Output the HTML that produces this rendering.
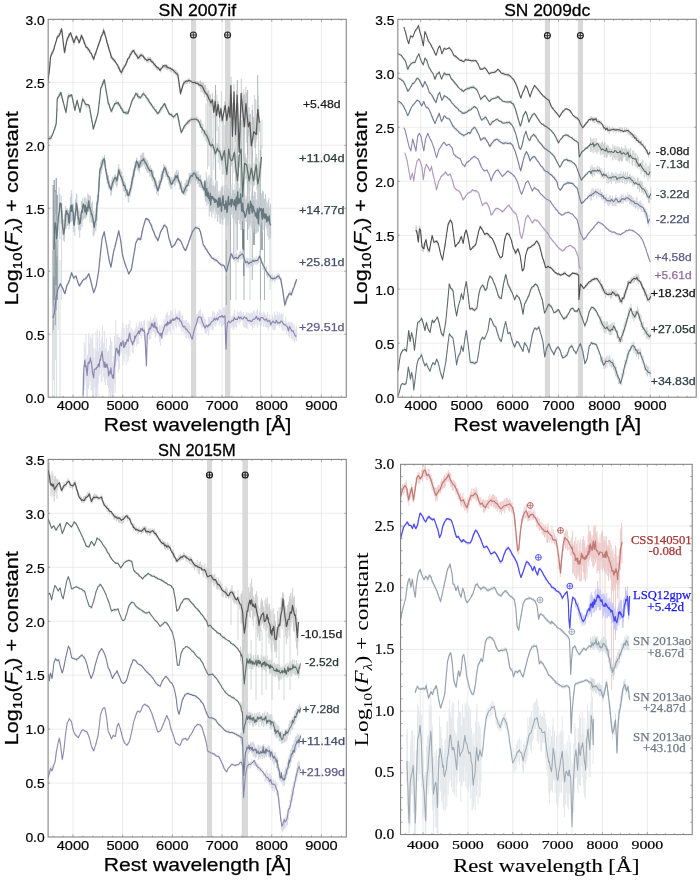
<!DOCTYPE html><html><head><meta charset="utf-8"><style>html,body{margin:0;padding:0;background:#fff;}svg{display:block;}</style></head><body>
<svg width="700" height="880" viewBox="0 0 700 880" style="will-change:transform">
<rect width="700" height="880" fill="#fff"/>
<defs><clipPath id="c1"><rect x="48.15" y="19.30" width="298.10" height="377.90"/></clipPath></defs>
<defs><clipPath id="c2"><rect x="397.85" y="19.30" width="298.35" height="377.90"/></clipPath></defs>
<defs><clipPath id="c3"><rect x="48.10" y="459.40" width="298.20" height="377.60"/></clipPath></defs>
<defs><clipPath id="c4"><rect x="400.60" y="464.30" width="291.60" height="370.30"/></clipPath></defs>
<path d="M72.99 19.30V397.20M122.68 19.30V397.20M172.36 19.30V397.20M222.04 19.30V397.20M271.73 19.30V397.20M321.41 19.30V397.20M48.15 334.22H346.25M48.15 271.23H346.25M48.15 208.25H346.25M48.15 145.27H346.25M48.15 82.28H346.25" stroke="#e4e4e4" stroke-width="0.7" fill="none"/>
<rect x="191.00" y="19.30" width="5.20" height="377.90" fill="#d9d9d9"/><rect x="225.00" y="19.30" width="5.40" height="377.90" fill="#d9d9d9"/>
<g clip-path="url(#c1)">
<path d="M52.6 250V397M53.6 200V380M54.6 230V397M55.6 210V360M56.6 260V397M58.2 240V330M60 260V397M61.5 230V300" stroke="#d5dbdd" stroke-width="0.9" fill="none"/><path d="M53.2 185V330M54.2 180V300M55.2 190V325M56.2 178V310M57.2 195V300" stroke="#7d8d93" stroke-width="1" fill="none"/>
<path d="M206.0 103.2V141.3M207.6 91.4V169.2M208.9 90.7V166.1M209.9 108.4V139.1M210.9 108.0V200.8M211.9 98.5V180.9M213.8 115.1V169.8M215.8 90.2V200.9M217.0 94.8V131.0M218.3 126.4V162.9M219.8 118.0V169.8M221.3 91.0V121.9M222.4 120.0V174.9M223.7 115.5V174.3M224.9 125.3V195.5M226.1 115.0V179.4M227.9 122.3V166.8M229.9 93.5V158.9M231.7 95.1V166.5M232.6 119.4V198.4M234.1 129.1V173.2M235.8 115.9V183.9M237.2 127.5V211.5M238.6 119.2V148.5M240.3 118.4V214.5M242.1 101.4V160.6M243.7 89.1V160.7M244.8 93.5V124.2M246.6 94.1V142.8M247.9 129.0V158.9M249.3 113.8V206.1M251.1 128.6V170.7M252.4 104.9V205.1M254.4 95.1V136.8M255.5 99.0V168.1M257.1 100.3V125.7M258.5 105.4V178.3M260.4 120.5V181.3M262.0 119.8V148.6" stroke="#b9bfbe" stroke-width="0.8" stroke-opacity="0.8" fill="none"/>
<path d="M243.8 195V276M242.8 200V250M254 200V245M262 205V250" stroke="#55656b" stroke-width="1.1" fill="none"/><path d="M260.5 200V397M236 210V300M270 215V290M250 220V300" stroke="#c8cfd2" stroke-width="0.8" fill="none"/><path d="M215.5 85V180M230.5 86V300M237.3 80V250M244 95V300M247.6 90V240M252.3 110V280M257.7 75V135M260.4 150V300M264.5 200V300M226.4 240V305M233.8 190V260M241 120V230" stroke="#9aa3a6" stroke-width="0.8" fill="none"/>
<path d="M83.1 372.9V421.2M84.2 342.7V390.0M85.0 345.6V385.4M85.9 334.7V379.7M86.6 357.9V403.2M87.5 354.6V403.3M88.6 333.4V388.7M89.2 349.5V385.1M89.7 343.7V376.4M90.2 335.3V380.7M91.2 338.1V390.4M92.0 338.8V390.0M92.7 333.9V408.7M93.7 348.1V396.7M94.3 356.6V387.3M95.3 348.7V403.4M96.0 331.8V401.5M96.5 351.2V402.4M97.3 329.1V387.3M97.8 337.7V396.7M98.5 351.1V383.4M99.5 330.8V375.5M100.2 347.3V372.6M101.2 340.8V381.7M101.9 336.6V382.5M102.5 326.1V367.6M103.3 343.1V377.1M104.4 330.8V381.7M105.4 347.9V385.2M106.4 337.8V378.9M107.5 351.6V385.3M108.5 350.4V388.3M109.0 357.9V397.1M109.7 345.4V392.7M110.5 337.3V397.2M111.3 341.5V390.8M111.9 341.5V409.1M112.5 362.2V408.3M113.6 356.0V408.0M114.6 336.0V384.6M115.2 345.1V393.1M115.8 320.0V366.9M116.8 335.1V362.1M117.6 334.5V359.9M118.4 337.0V372.5M119.4 337.2V369.2M120.2 338.4V355.6M121.2 336.5V352.9M122.1 327.3V351.3M122.9 322.6V365.5M124.1 328.1V361.3M124.8 339.8V353.2M126.1 325.0V364.6M126.7 324.2V354.9M127.9 328.1V362.1M128.6 324.0V357.4M129.9 320.0V355.9M131.1 327.6V346.0M132.3 329.5V352.5M133.2 331.6V353.5M134.3 330.5V346.5M135.3 327.9V341.1M136.4 322.7V346.5M137.6 327.0V344.1M138.7 325.2V343.7M139.4 321.5V335.5M140.4 322.5V335.9M141.6 321.4V338.4M142.9 324.4V333.8M143.8 321.2V336.1M144.5 319.6V340.7M145.5 335.8V353.7M146.6 353.7V366.4M147.8 320.5V343.6M148.8 321.2V336.3M149.5 320.7V339.7M150.7 317.0V339.0M151.6 320.8V333.4M152.4 319.3V332.0M153.5 317.5V331.8M154.8 314.0V333.9M155.4 322.9V338.1M156.0 317.7V336.2M156.9 318.7V333.0M157.6 323.1V334.4M158.9 327.6V338.0M159.5 325.3V342.0M160.6 325.7V345.9M162.0 323.4V338.3M163.0 326.0V334.7M163.9 318.9V333.9M164.8 320.3V336.7M165.8 315.6V335.0M166.7 313.4V335.7M167.4 311.7V333.6M168.1 315.6V332.3M169.4 315.4V330.9M170.7 310.7V333.4M171.7 311.4V326.1M172.8 309.3V329.4M174.0 314.3V331.3M175.4 309.4V325.9M176.4 313.8V328.3M177.4 313.3V322.0M178.2 311.6V326.7M179.0 315.1V326.7M179.5 310.3V322.9M180.2 311.4V323.7M180.8 314.2V328.8M181.8 315.1V332.5M182.6 315.2V328.3M183.2 319.8V331.3M184.1 320.0V334.0M185.2 321.3V333.1M185.9 319.7V337.9M186.5 320.1V338.8M187.3 323.0V334.2M188.1 324.6V338.2M188.6 321.9V338.2M189.4 324.1V339.5M190.2 326.1V337.1M191.0 330.2V345.6M192.1 333.9V344.8M192.6 331.6V346.2M193.7 326.5V337.8M194.3 322.8V339.5M194.8 319.5V330.9M195.4 321.5V333.6M196.1 318.3V330.9M196.7 313.7V325.5M197.5 314.5V323.3M198.3 311.9V323.3M199.0 310.8V321.4M199.7 309.8V324.5M200.5 309.1V325.2M201.5 315.6V328.2M202.5 312.8V327.2M203.2 314.3V328.1M204.3 317.1V330.1M204.9 319.7V332.4M205.5 319.1V333.7M206.5 323.7V333.2M207.4 324.1V331.3M208.3 316.8V336.0M208.9 319.1V333.8M209.7 316.8V328.7M210.2 320.3V326.9M211.0 316.3V329.7M211.6 318.0V326.4M212.6 311.1V330.5M213.1 317.4V330.3M213.9 311.8V325.2M214.7 313.0V325.4M215.6 315.9V326.7M216.6 314.0V324.1M217.5 312.1V322.0M218.1 311.2V320.6M219.2 308.9V325.3M220.2 309.8V322.9M221.1 310.5V326.8M222.1 312.0V326.0M223.0 308.0V325.1M223.8 306.9V325.3M224.7 307.6V324.3M225.4 325.4V336.7M226.1 342.0V351.1M226.8 321.2V335.9M227.5 314.3V331.5M228.2 314.7V329.1M229.0 316.2V331.8M229.9 313.5V329.7M231.0 317.9V328.1M231.9 315.7V326.1M232.4 316.0V325.7M233.0 315.5V329.4M233.8 313.4V329.6M234.7 309.7V327.0M235.7 316.0V326.5M236.6 316.0V328.6M237.2 312.6V322.8M238.0 311.2V321.7M239.1 312.1V324.5M240.0 312.0V322.3M240.8 310.2V321.8M241.8 312.2V320.1M242.4 314.2V321.3M243.4 312.0V326.8M244.3 314.7V327.7M245.4 314.8V327.4M246.2 312.2V328.3M246.8 312.2V328.4M247.8 313.1V329.1M248.8 312.6V323.4M249.6 314.1V324.5M250.2 313.6V323.9M250.9 312.4V326.1M251.6 312.8V325.7M252.5 313.0V329.6M253.6 311.2V323.8M254.2 310.0V327.6M255.1 313.6V323.7M256.0 311.9V325.8M256.9 310.3V322.7M257.5 308.5V327.7M258.6 315.0V321.3M259.2 312.2V325.4M259.8 311.4V321.4M260.3 310.4V324.8M261.2 312.6V324.3M261.8 312.8V326.2M262.8 314.7V321.7M263.8 311.3V327.0M264.4 313.2V323.7M265.4 314.4V327.3M266.5 315.5V327.4M267.5 312.0V327.3M268.2 318.1V330.7M268.7 318.3V328.6M269.5 314.2V326.9M270.5 318.8V326.5M271.4 319.0V327.4M272.4 314.5V327.1M272.9 316.6V330.0M273.6 318.0V329.6M274.5 311.8V330.8M275.5 314.7V329.3M276.2 315.3V326.0M277.3 311.3V325.1M278.0 315.3V326.1M278.7 315.3V325.1M279.6 312.6V327.8M280.6 314.5V325.4M281.6 313.0V327.0M282.1 316.2V329.4M282.9 313.8V331.0M283.9 321.2V331.2M284.9 321.8V328.6M285.8 316.6V329.3M286.7 322.6V334.6M287.6 322.5V331.4M288.6 321.1V336.0M289.3 323.0V338.0M290.2 322.4V335.5M291.2 321.8V339.1M291.9 321.9V338.3M292.9 323.5V340.9M294.0 323.8V340.9M294.8 326.3V342.8M295.6 329.0V338.7M296.5 325.7V341.1" stroke="#dddbea" stroke-width="0.9" fill="none"/>
<path d="M83.1 395.6 83.8 369.0 84.3 365.4 84.9 360.1 85.4 366.7 86.0 365.6 86.6 371.2 87.1 375.4 87.7 367.6 88.2 362.4 88.7 362.1 89.3 363.2 89.8 361.7 90.4 357.9 90.9 361.2 91.4 362.1 91.9 366.8 92.5 373.3 93.1 375.4 93.7 377.9 94.3 369.6 94.9 368.9 95.5 369.0 96.0 369.4 96.6 367.5 97.1 367.1 97.6 367.3 98.1 364.6 98.7 363.9 99.3 366.8 99.8 359.6 100.4 360.1 100.9 356.1 101.5 355.1 102.1 351.3 102.6 357.1 103.2 360.9 103.7 362.4 104.2 367.1 104.8 362.1 105.3 367.3 105.9 364.6 106.4 367.0 107.0 363.9 107.6 367.5 108.1 369.0 108.7 376.0 109.2 373.4 109.8 371.0 110.3 373.4 110.9 367.8 111.4 373.6 112.0 374.8 112.5 377.9 113.1 375.1 113.6 378.4 114.1 369.0 114.7 364.4 115.3 356.6 115.9 349.1 116.4 348.1 117.0 348.7 117.5 351.9 118.1 353.5 118.6 350.3 119.2 355.7 119.7 346.0 120.3 344.6 120.8 342.7 121.4 346.0 121.9 343.2 122.5 342.4 123.1 340.8 123.6 347.5 124.2 345.1 124.7 346.9 125.3 342.3 125.8 344.2 126.4 343.0 126.9 340.2 127.4 339.2 127.9 341.1 128.4 341.1 128.8 337.0 129.3 334.1 129.8 333.1 130.3 338.0 130.7 338.5 131.2 341.4 131.7 341.8 132.2 343.2 132.7 344.7 133.1 342.4 133.7 341.1 134.2 341.5 134.7 336.0 135.3 338.2 135.8 335.8 136.3 335.9 136.9 334.5 137.4 333.4 138.0 333.6 138.5 331.2 139.0 332.5 139.4 333.7 139.9 330.5 140.4 331.3 140.8 328.7 141.3 329.1 141.8 329.9 142.3 328.2 142.7 330.7 143.2 330.1 143.7 331.2 144.2 330.1 144.6 331.4 145.2 340.9 145.8 353.7 146.4 365.7 147.3 333.6 147.9 333.8 148.5 333.1 149.1 329.1 149.5 328.0 150.0 329.2 150.5 328.5 151.0 327.2 151.4 323.5 151.9 325.9 152.4 324.7 152.9 323.5 153.3 327.2 153.8 326.9 154.3 327.0 154.8 322.2 155.2 327.6 155.7 326.9 156.3 329.2 156.8 327.1 157.4 331.8 157.9 331.4 158.5 332.6 159.0 333.3 159.6 333.5 160.1 335.8 160.7 333.3 161.3 333.4 161.8 338.2 162.4 332.5 162.8 331.7 163.3 330.6 163.8 328.1 164.3 327.0 164.7 326.0 165.2 324.4 165.7 324.7 166.2 325.8 166.6 323.7 167.1 325.2 167.6 321.6 168.1 324.6 168.5 322.8 169.0 322.5 169.5 323.3 170.0 321.7 170.4 320.1 170.9 323.2 171.4 320.2 171.9 320.4 172.3 320.3 172.8 318.7 173.3 320.3 173.7 319.2 174.2 320.1 174.7 320.0 175.2 318.2 175.6 319.2 176.8 317.1 177.9 319.0 179.0 318.1 180.1 320.8 181.2 321.4 182.3 325.0 183.4 326.9 184.5 326.3 185.6 329.1 186.7 329.1 187.8 331.1 188.9 332.4 190.0 333.6 191.1 336.9 192.3 339.1 193.4 333.7 194.5 329.1 195.6 325.7 196.7 322.9 197.8 318.1 198.9 316.9 200.0 317.0 201.1 317.5 202.2 321.4 203.1 323.5 204.1 326.1 205.1 328.0 206.4 325.3 207.7 326.9 208.8 324.7 209.9 324.9 211.0 322.6 212.1 321.4 213.3 320.7 214.4 318.2 215.5 320.0 216.6 318.1 217.7 319.9 218.8 317.3 219.9 316.4 221.0 317.0 222.0 315.3 223.0 317.5 224.0 316.3 225.0 315.9 225.7 342.4 226.1 349.1 226.8 329.1 227.6 322.5 228.8 321.0 229.9 322.9 231.0 321.8 232.1 320.3 233.2 320.7 234.3 317.6 235.4 319.3 236.5 319.2 237.6 319.4 238.7 316.6 239.8 318.6 240.9 317.0 242.0 319.0 243.1 318.8 244.3 316.9 245.4 318.1 246.5 317.8 247.6 320.3 248.7 320.9 249.8 320.3 250.9 321.5 252.0 321.2 253.1 319.3 254.2 319.2 255.3 318.4 256.4 316.4 257.5 319.3 258.6 318.1 259.8 320.8 260.9 317.5 262.0 317.5 263.1 318.1 264.2 319.7 265.3 320.2 266.4 318.9 267.5 321.4 268.6 320.8 269.7 320.6 270.8 324.7 271.9 322.5 273.0 321.1 274.1 322.4 275.3 323.1 276.4 320.3 277.5 322.8 278.6 322.6 279.7 323.1 280.8 321.4 281.9 321.0 283.0 323.2 284.1 324.7 285.2 324.6 286.3 325.8 287.4 326.9 288.5 330.8 289.6 326.4 290.8 329.1 291.9 331.3 293.0 330.6 294.1 333.6 295.4 336.3 296.7 335.8" fill="none" stroke="#8f88ad" stroke-width="1.2" stroke-opacity="1.0" stroke-linejoin="round" />
<path d="M52.8 305.6V333.1M53.9 307.2V320.6M54.8 299.9V326.7M55.9 285.1V313.0M57.1 292.3V294.5M57.8 287.4V290.3M59.0 286.0V288.5M59.9 283.7V287.0M60.5 283.1V285.9M61.5 285.1V288.1M62.9 287.8V290.0M63.6 289.3V292.0M64.3 290.5V292.9M65.1 291.2V294.4M66.0 287.8V290.8M66.9 285.1V287.6M68.3 280.4V284.3M69.2 279.6V282.5M70.3 276.3V278.1M71.2 272.5V275.9M72.2 273.6V276.2M73.1 275.2V277.6M74.1 276.7V279.8M74.8 275.7V278.1M75.9 275.4V277.1M76.8 276.8V279.1M77.8 280.3V282.4M78.8 282.1V285.7M80.1 283.9V286.9M81.0 282.5V285.3M82.3 280.8V282.5M83.6 278.4V280.6M84.2 278.4V280.7M85.6 276.2V279.9M86.2 276.7V279.8M87.4 274.3V277.0M88.5 273.0V276.0M89.3 273.2V277.5M90.0 277.0V280.2M90.8 279.0V282.7M92.0 283.9V286.6M92.8 287.9V290.7M94.0 291.1V294.0M94.9 288.1V290.5M96.3 283.6V286.8M97.6 275.2V279.3M98.5 270.2V273.9M99.8 258.1V260.8M100.7 249.2V252.6M101.3 243.9V247.7M102.5 235.1V239.3M103.6 232.2V235.4M104.2 230.9V233.2M105.6 237.5V240.8M106.7 244.7V247.1M107.8 251.2V253.5M108.8 256.8V259.7M109.5 260.7V262.7M110.6 263.9V267.5M112.0 260.0V261.9M113.0 254.0V256.3M114.1 248.5V250.7M115.0 244.3V247.1M115.9 242.0V244.0M116.8 238.0V241.1M117.8 232.9V235.6M118.8 229.6V233.2M119.6 233.8V237.1M120.8 240.8V243.3M122.1 250.2V253.2M123.2 255.2V259.0M124.3 260.2V263.2M125.2 262.6V265.3M126.0 265.5V267.4M127.1 268.2V270.0M128.3 271.6V274.9M129.4 271.4V274.7M130.7 269.4V271.4M131.8 264.9V268.5M133.0 258.2V261.1M133.9 253.3V255.8M134.8 247.8V251.1M135.5 243.7V245.8M136.9 239.3V241.5M138.1 236.5V240.5M139.0 237.1V240.0M139.7 237.2V241.2M140.5 237.5V240.2M141.4 235.6V237.2M142.1 230.8V233.7M142.8 227.8V229.9M144.1 222.4V224.8M145.3 218.8V221.7M146.3 217.1V220.7M147.3 217.5V220.6M148.4 218.4V220.9M149.4 219.6V222.5M150.8 222.7V226.1M151.9 224.7V228.6M152.9 228.2V231.1M154.1 230.9V233.7M154.7 233.9V235.4M155.4 235.7V237.4M156.0 235.8V239.2M157.4 237.7V241.7M158.8 237.2V238.8M160.1 232.1V234.4M161.3 229.2V232.0M162.2 227.9V229.7M163.3 224.6V229.0M164.5 223.4V226.7M165.3 224.1V227.8M166.4 226.5V228.1M167.4 228.8V232.6M168.6 235.5V237.9M169.9 239.3V243.0M170.7 242.4V245.6M171.6 246.0V248.2M172.7 245.8V248.1M174.0 243.7V246.5M175.0 243.4V246.0M176.1 241.1V243.6M177.1 238.4V241.2M178.0 237.4V240.8M178.9 237.9V240.7M179.6 238.7V240.9M180.5 239.4V241.9M181.8 242.6V244.9M182.9 245.0V247.8M184.0 247.6V250.1M184.7 248.4V251.3M186.1 247.6V250.2M187.1 245.7V248.7M187.9 243.7V246.3M189.0 240.0V243.0M190.3 236.2V239.7M191.2 233.6V236.2M192.4 229.9V232.8M193.4 228.5V231.8M194.6 227.2V230.6M195.5 226.5V228.3M196.8 225.9V229.1M198.1 226.2V229.1M199.4 228.3V230.8M200.2 230.1V232.1M200.9 232.8V234.8M201.6 236.2V239.0M202.5 239.8V242.9M203.8 245.0V246.8M205.1 245.7V249.9M206.1 248.1V250.2M207.5 249.4V252.8M208.7 252.1V254.6M210.0 254.3V256.7M210.8 254.3V258.2M211.9 256.6V258.6M212.9 257.4V259.9M213.6 256.9V260.5M214.6 257.5V261.6M215.6 258.5V262.0M216.5 258.4V261.2M217.8 260.2V263.3M219.2 262.1V264.4M220.4 262.5V265.8M221.6 263.4V267.2M222.8 264.3V266.6M223.4 264.9V266.4M224.8 266.4V268.8M225.5 263.5V272.7M226.2 265.9V275.9M227.6 264.7V270.4M228.8 260.0V266.6M229.9 253.4V263.0M231.1 251.3V258.7M232.1 253.1V257.0M233.2 253.8V258.7M234.2 254.9V261.0M235.2 254.3V261.8M236.6 252.5V260.5M237.9 254.5V262.8M238.5 254.4V262.6M239.7 251.9V258.8M240.4 250.3V257.6M241.1 251.9V260.1M242.3 248.6V259.0M243.2 250.3V258.4M243.8 252.2V262.8M245.0 257.9V263.8M245.7 260.9V264.7M246.7 257.5V268.1M247.7 258.4V266.2M249.0 258.3V268.3M250.2 258.3V266.6M251.0 258.9V265.8M251.7 259.8V265.5M252.4 257.9V265.0M253.8 257.4V265.4M254.8 258.3V263.8M256.1 255.7V265.2M257.3 258.4V264.4M258.0 256.7V263.5M258.7 255.6V262.6M259.7 251.0V258.3M260.4 252.6V262.0M261.5 257.6V263.6M262.9 261.1V269.9M263.6 263.4V269.9M264.4 262.6V270.3M265.1 266.8V271.7M266.5 266.2V275.6M267.4 271.1V277.8M268.1 271.7V277.4M269.4 273.4V277.5M270.7 275.4V281.6M271.4 274.9V280.1M272.4 274.7V281.5M273.4 276.9V279.7M274.3 275.0V281.7M274.9 276.3V281.9M275.6 276.7V279.8M276.9 275.4V280.1M277.6 273.8V278.2M278.7 273.1V279.6M279.6 273.9V279.7M281.0 276.9V284.2M281.7 282.5V287.2M283.0 290.5V295.3M284.0 298.0V300.4M284.6 301.7V306.9M285.7 298.6V305.5M286.6 296.3V302.1M287.8 295.3V300.0M288.5 292.9V298.0M289.7 290.7V295.9M290.5 291.4V295.6M291.8 291.7V295.7M292.7 288.1V292.6M293.4 287.8V290.5M294.5 282.1V286.9M295.5 281.0V284.9M296.3 279.1V282.7" stroke="#cdd0d9" stroke-width="0.9" fill="none"/>
<path d="M52.8 318.1 54.3 313.6 56.1 298.1 57.8 289.3 59.2 286.6 60.5 283.8 61.6 286.0 62.7 288.2 63.8 291.3 64.9 293.7 66.0 289.1 67.1 284.9 68.3 283.1 69.4 280.4 70.5 276.5 71.6 272.7 72.7 275.4 73.8 278.2 74.9 276.9 76.0 276.0 77.1 279.9 78.2 283.1 79.3 286.0 80.4 284.1 81.5 282.6 82.6 280.6 83.8 279.3 84.9 279.0 86.0 278.2 86.9 277.1 87.9 275.2 88.8 273.8 90.2 278.7 91.5 283.8 92.6 288.3 93.7 292.6 95.0 289.4 96.4 284.9 97.5 278.1 98.6 271.6 100.4 253.9 102.1 238.5 103.2 235.1 104.3 231.9 105.4 238.9 106.6 245.1 107.9 253.0 109.2 260.5 111.0 267.1 112.3 259.2 113.6 251.6 114.8 247.5 115.9 242.9 116.8 239.0 117.8 235.0 118.7 230.8 119.7 235.5 120.7 240.7 122.5 255.1 123.6 258.9 124.7 262.7 125.7 265.5 126.7 268.4 127.7 270.9 128.7 273.8 129.6 272.4 130.5 271.1 131.4 269.4 132.5 262.9 133.6 256.1 134.7 249.9 135.8 242.9 136.9 240.8 138.0 238.5 139.3 239.1 140.7 239.6 141.9 233.1 143.1 227.4 144.0 224.6 144.9 221.5 145.8 218.6 146.7 218.7 147.7 219.5 148.6 219.7 149.5 222.0 150.4 223.6 151.3 225.2 152.3 228.7 153.3 230.9 154.3 233.2 155.3 236.3 156.6 237.9 157.9 240.7 159.2 236.8 160.6 231.9 161.8 229.9 162.9 227.9 164.1 225.2 165.0 225.8 165.9 226.3 166.8 227.4 167.9 232.8 169.0 238.5 170.3 242.5 171.7 247.4 172.6 246.7 173.6 245.6 174.5 245.1 175.6 242.8 176.8 240.4 177.9 238.5 179.2 239.8 180.5 240.7 181.5 242.4 182.4 244.9 183.4 247.4 184.5 249.1 185.6 250.7 186.6 247.9 187.5 245.5 188.5 242.9 189.4 240.0 190.4 237.1 191.4 234.7 192.3 231.9 193.4 230.4 194.5 228.8 195.6 227.4 196.7 227.9 197.8 228.3 198.9 228.5 200.5 232.0 201.4 236.2 202.4 240.6 203.3 245.0 204.4 246.2 205.5 248.1 206.6 249.8 207.7 251.6 208.8 253.4 209.9 254.8 211.0 256.5 212.1 258.3 213.3 258.7 214.4 259.5 215.5 259.9 216.6 260.5 217.7 261.4 218.8 263.0 219.9 263.8 221.0 264.9 222.1 265.1 223.2 265.1 224.3 266.0 225.4 269.0 226.5 271.6 227.6 267.1 228.8 262.7 229.9 258.6 231.0 253.9 232.1 255.2 233.2 258.1 234.3 258.3 235.4 257.6 236.5 257.7 237.6 258.7 238.7 257.2 239.7 255.5 240.7 255.2 241.7 254.1 242.7 253.9 244.0 257.7 245.4 262.7 246.5 262.0 247.6 261.7 248.7 263.9 249.8 262.7 250.9 262.5 252.0 261.7 253.1 260.3 254.2 261.6 255.3 260.3 256.4 260.6 257.5 260.5 258.6 258.6 259.8 256.1 260.9 259.8 262.0 262.7 263.1 265.2 264.2 267.0 265.3 269.4 266.4 271.5 267.5 272.8 268.6 274.9 269.7 275.2 270.8 277.9 271.9 278.2 273.0 278.9 274.1 278.3 275.3 278.2 276.4 277.7 277.5 276.2 278.6 276.0 279.7 277.8 280.8 279.3 282.6 289.3 283.7 297.2 284.8 304.8 285.9 301.7 287.0 298.1 288.1 295.8 289.2 293.7 290.3 293.9 291.4 294.8 292.7 290.2 294.1 287.1 295.4 283.1 296.7 279.3" fill="none" stroke="#737b94" stroke-width="1.2" stroke-opacity="1.0" stroke-linejoin="round" />
<path d="M53.9 233.2V276.6M55.0 192.0V237.7M55.8 213.6V242.6M57.0 220.0V256.3M57.7 209.5V247.4M59.0 187.2V222.5M59.8 193.7V239.0M61.1 195.7V223.9M61.9 203.4V232.9M62.5 210.0V234.8M63.3 219.4V240.1M64.0 223.2V241.0M64.4 213.8V241.8M65.4 205.8V229.5M66.3 210.3V228.8M66.9 208.1V221.6M67.6 208.6V226.0M68.4 210.0V225.2M69.1 214.6V229.2M69.6 211.6V225.8M70.4 196.9V221.7M71.2 190.2V210.7M71.7 193.8V222.2M72.5 204.7V220.5M73.4 203.2V232.1M73.9 208.2V231.7M74.8 213.8V235.8M75.5 199.3V219.4M76.3 193.3V216.1M76.9 194.0V215.7M77.5 205.8V224.8M78.0 209.3V221.8M78.8 208.6V230.6M79.2 210.8V229.1M79.7 216.9V237.7M80.2 214.4V230.2M80.9 214.2V229.7M81.5 201.0V219.9M82.1 200.7V226.9M82.9 197.8V220.3M83.4 204.2V219.5M84.4 197.8V218.5M85.2 196.8V218.9M85.9 201.1V217.2M86.5 201.7V217.3M86.9 198.6V213.3M87.8 193.3V209.4M88.6 194.8V211.8M89.4 195.4V211.8M90.0 201.5V222.3M90.5 195.9V217.2M91.1 202.7V216.7M91.6 204.4V222.9M92.5 201.4V222.6M93.2 215.8V235.8M93.8 210.5V236.4M94.3 221.9V233.9M95.2 214.7V231.2M95.9 208.7V231.2M96.4 201.0V226.3M97.3 195.1V221.0M98.0 194.7V205.3M98.8 181.6V191.2M99.2 176.6V188.1M99.8 167.9V178.9M100.3 166.3V171.2M100.7 161.9V170.6M101.4 159.4V173.7M102.1 159.9V169.8M102.9 156.4V166.1M103.6 157.9V164.4M104.5 155.0V163.2M105.2 160.2V166.9M105.6 163.9V171.3M106.4 169.6V179.8M107.2 172.4V184.2M107.9 175.1V183.3M108.5 175.2V187.2M108.9 180.0V188.8M109.4 180.5V188.0M110.1 184.6V190.3M110.8 185.5V196.1M111.4 183.3V194.8M111.8 180.1V191.8M112.4 176.5V186.0M113.2 178.7V188.2M113.6 178.1V185.3M114.4 175.0V183.2M115.1 174.6V183.0M115.4 174.1V184.8M115.9 176.1V181.8M116.6 176.0V187.5M117.4 175.9V185.6M118.2 167.0V180.1M118.8 164.2V175.9M119.5 168.6V174.9M120.2 168.8V176.5M120.9 170.7V180.9M121.6 171.5V182.5M122.4 176.2V186.1M122.9 175.8V187.4M123.7 181.7V191.3M124.5 181.4V191.3M124.9 183.3V192.3M125.7 183.1V196.9M126.2 186.3V195.7M127.0 189.5V195.2M127.4 189.0V196.5M128.2 191.2V201.5M128.7 192.1V202.6M129.1 191.1V196.6M129.5 188.3V195.7M130.0 188.8V196.8M130.3 186.2V194.8M131.1 180.9V192.5M131.8 176.7V189.8M132.3 178.5V186.3M132.9 172.9V184.2M133.3 169.7V180.0M133.9 169.5V176.6M134.5 164.9V177.0M135.0 161.7V170.3M135.7 161.6V171.3M136.5 157.6V167.6M137.0 158.5V164.9M137.5 161.0V169.6M138.2 160.9V171.2M138.6 162.6V170.5M139.0 160.5V170.0M139.4 160.3V173.3M140.0 160.6V167.9M140.3 159.0V167.3M140.8 155.6V164.8M141.3 154.9V167.2M141.7 154.5V165.7M142.4 152.7V166.4M143.0 153.0V164.0M143.7 152.5V164.5M144.2 157.9V166.5M144.7 156.7V164.8M145.3 158.1V169.0M146.0 158.6V170.0M146.6 159.8V171.0M147.3 160.0V173.0M147.9 162.1V170.3M148.4 163.5V172.8M149.2 166.9V173.3M149.9 165.9V177.2M150.3 165.0V175.7M151.0 170.1V176.8M151.7 167.9V179.1M152.3 172.8V181.0M152.8 170.3V181.7M153.4 170.6V180.2M154.2 177.2V187.1M154.9 177.1V188.8M155.5 178.6V185.9M156.2 180.1V189.1M156.6 182.6V194.1M157.4 184.7V191.6M158.1 186.9V196.2M158.7 180.7V190.9M159.5 179.4V187.6M160.1 179.5V189.1M160.9 174.7V185.1M161.6 174.6V182.7M162.0 170.6V179.1M162.6 171.4V179.6M163.0 170.9V178.6M163.7 163.8V176.4M164.6 164.9V173.2M165.2 166.3V172.2M165.7 165.7V177.0M166.4 167.3V175.0M167.1 169.5V177.4M167.8 172.7V179.9M168.3 171.4V180.2M168.9 175.5V184.6M169.7 177.1V186.6M170.2 178.7V185.6M170.9 177.0V188.8M171.2 177.9V189.5M171.8 180.1V188.0M172.5 179.0V185.4M173.3 177.0V184.0M174.0 177.8V184.6M174.7 173.9V186.5M175.1 173.7V185.7M175.7 172.0V182.6M176.4 169.6V180.8M177.1 171.8V182.7M177.9 170.1V183.7M178.5 171.7V181.9M179.2 178.5V186.2M179.8 179.6V189.7M180.4 181.8V188.1M181.0 182.6V189.1M181.5 180.8V192.8M182.2 185.6V192.5M182.9 188.5V194.5M183.5 187.0V194.9M184.4 188.6V193.9M184.9 183.2V195.8M185.6 183.6V195.0M186.0 179.7V189.4M186.5 179.8V192.2M187.1 180.9V191.2M187.7 179.8V185.6M188.6 178.6V184.3M189.1 172.9V186.4M189.9 172.5V180.2M190.6 173.7V184.1M191.4 173.3V181.8M191.9 172.5V182.0M192.5 170.7V179.5M192.9 169.5V179.5M193.6 170.7V180.4M194.0 170.6V177.8M194.5 171.7V179.9M195.0 171.7V179.7M195.5 169.5V182.6M196.0 171.5V180.1M196.6 172.1V179.5M197.1 171.1V181.6M197.5 174.4V183.9M198.0 171.3V183.3M198.7 174.8V184.0M199.2 174.6V186.7M199.6 176.8V187.1M200.4 174.7V187.9M200.8 175.7V184.5M201.6 179.1V188.0M202.2 181.5V189.9M203.0 182.0V191.0M203.5 184.6V191.4M204.3 182.2V193.7M204.8 186.4V197.1M205.3 182.2V201.7M205.6 183.2V200.9M206.2 172.0V202.1M206.6 177.8V199.1M206.9 178.4V206.2M207.4 181.4V200.0M207.8 185.6V203.9M208.1 176.2V200.8M208.6 186.5V204.1M209.2 175.0V216.4M209.6 181.9V208.7M209.9 184.0V211.7M210.4 178.9V209.7M210.8 177.7V212.0M211.2 177.9V211.0M211.7 185.1V217.3M212.3 186.0V210.3M213.0 180.3V214.2M213.6 185.3V211.7M214.0 189.5V207.9M214.7 185.5V207.1M215.1 187.7V218.4M215.7 182.9V210.9M216.2 180.2V212.5M216.8 194.3V214.3M217.3 181.5V222.0M217.9 190.8V221.1M218.5 195.2V214.8M219.0 192.1V212.3M219.7 194.0V217.6M220.0 190.4V224.1M220.3 196.0V223.4M220.9 190.4V214.6M221.4 187.2V219.2M221.8 188.1V212.1M222.3 185.4V224.7M222.8 187.2V224.6M223.3 197.2V212.9M223.9 194.4V219.6M224.2 185.3V216.0M224.7 190.6V217.4M225.1 191.7V217.2M225.4 197.7V212.9M226.1 196.8V225.9M226.6 184.9V218.6M227.1 197.9V220.6M227.6 188.4V224.6M228.0 188.7V221.2M228.6 194.2V224.2M229.0 188.8V214.7M229.5 194.8V215.2M229.9 190.1V215.2M230.3 194.8V216.4M231.0 184.7V211.9M231.5 195.7V214.8M232.2 193.1V211.8M232.8 189.6V218.3M233.4 191.1V216.4M233.8 190.2V222.4M234.3 193.3V215.1M235.0 183.8V219.9M235.5 193.7V213.0M235.9 189.1V224.5M236.4 188.0V223.3M236.9 191.5V213.9M237.5 187.1V217.6M238.2 183.4V210.0M238.5 190.1V220.0M238.9 190.7V219.5M239.4 187.8V210.9M239.8 189.0V223.9M240.3 189.4V221.6M240.9 193.5V217.1M241.2 187.3V224.7M241.8 190.2V218.5M242.2 194.2V221.4M242.7 189.8V221.0M243.2 193.0V229.2M243.7 194.5V229.2M244.4 202.8V230.3M244.7 194.9V222.9M245.4 199.6V215.8M246.1 196.0V221.9M246.6 198.7V215.3M247.1 199.5V222.3M247.8 187.8V219.4M248.2 201.3V224.3M248.6 201.5V229.3M249.1 190.2V219.0M249.5 195.2V226.6M249.8 196.7V224.9M250.3 199.9V223.5M250.7 203.5V217.8M251.3 201.7V227.7M251.7 192.2V218.1M252.3 197.9V231.8M252.9 206.0V218.9M253.3 205.6V231.5M253.7 196.1V232.8M254.3 191.3V228.4M254.7 191.8V221.9M255.3 200.4V227.0M255.7 192.2V234.0M256.3 199.4V233.5M256.9 206.0V232.1M257.3 205.0V222.2M257.7 198.7V232.6M258.1 195.9V225.4M258.4 190.3V231.5M258.9 191.9V224.0M259.5 190.6V226.5M259.9 203.7V223.5M260.4 199.9V224.8M260.7 200.0V223.1M261.2 193.3V219.6M261.6 193.3V220.8M262.0 195.4V222.2M262.5 190.6V232.2M263.2 191.2V230.1M263.6 192.2V220.3M264.0 199.2V220.7M264.5 199.1V222.5M265.1 206.7V227.4M265.5 194.2V222.6M266.0 198.2V225.7M266.6 208.2V223.0M266.9 201.9V229.6M267.4 203.8V236.4M267.8 209.3V227.3M268.4 200.0V226.0M268.8 197.9V239.8M269.2 206.1V226.9M269.7 213.2V238.1M270.0 208.2V233.8M270.5 203.8V238.3" stroke="#c3cbcf" stroke-width="0.9" fill="none"/>
<path d="M53.9 249.6 54.4 235.8 55.0 223.0 55.5 223.0 56.1 228.4 56.6 238.7 57.2 234.1 57.7 227.8 58.2 218.6 58.7 214.1 59.3 211.7 59.9 203.6 60.5 203.1 61.1 203.9 61.7 213.8 62.3 223.0 62.8 228.3 63.3 229.5 63.8 234.1 64.3 230.4 64.9 225.6 65.4 218.6 66.0 211.0 66.6 210.8 67.1 214.1 67.7 213.5 68.3 214.4 68.8 222.3 69.4 223.0 69.9 214.0 70.5 207.4 71.1 205.3 71.6 211.3 72.2 205.2 72.7 211.9 73.2 212.1 73.7 224.1 74.2 225.2 74.8 219.6 75.3 213.3 75.9 209.9 76.4 203.1 77.0 206.0 77.6 212.1 78.2 218.6 78.8 218.3 79.3 224.1 79.9 221.3 80.4 223.0 81.0 214.6 81.5 211.0 82.1 212.5 82.6 207.5 83.2 204.0 83.8 204.9 84.3 208.4 84.9 211.9 85.4 205.5 86.0 210.1 86.5 214.5 87.1 207.5 87.7 210.8 88.3 203.3 88.8 200.9 89.4 207.9 89.9 207.1 90.4 209.7 90.9 210.9 91.4 214.4 91.9 214.1 92.5 217.4 93.1 219.2 93.6 223.6 94.2 227.4 94.7 223.0 95.3 221.6 95.8 220.4 96.4 214.1 97.0 205.0 97.6 201.9 98.1 198.6 99.9 169.9 101.7 165.4 103.0 160.4 104.3 158.8 105.5 168.5 106.6 174.3 107.9 180.7 109.2 185.4 111.0 189.8 112.5 183.1 113.6 180.5 114.8 177.6 115.9 177.9 117.0 180.9 118.7 169.9 120.1 174.8 121.4 177.6 122.5 179.9 123.6 185.4 124.7 185.3 125.8 189.8 126.8 190.5 127.7 195.0 128.7 195.3 129.8 191.2 130.9 187.6 132.2 180.2 133.6 174.3 134.5 168.9 135.5 166.5 136.5 161.0 137.8 163.0 139.1 167.6 140.2 163.4 141.3 161.0 142.4 160.5 143.5 158.8 144.6 161.7 145.8 163.0 146.9 165.4 148.0 167.8 149.1 169.5 150.2 171.0 151.3 170.4 152.4 175.3 153.5 177.6 154.6 180.0 155.7 184.0 156.8 187.4 157.9 190.9 159.0 187.3 160.1 183.1 161.3 180.2 162.4 174.0 163.5 170.5 164.6 167.6 165.7 169.9 166.8 173.4 167.9 176.5 169.0 176.9 170.1 181.6 171.2 184.3 172.3 183.6 173.4 180.4 174.5 179.8 175.5 175.9 176.5 177.7 177.4 175.4 178.5 180.4 179.5 182.5 180.5 185.4 181.5 189.8 182.4 191.9 183.4 193.1 184.5 190.3 185.6 187.5 186.7 185.4 187.8 185.8 188.9 181.0 190.0 177.6 191.1 175.5 192.3 176.3 193.4 173.2 194.5 173.2 195.6 174.8 196.7 178.2 197.8 177.6 198.9 180.3 200.0 179.9 201.1 182.0 202.2 185.8 203.3 188.2 204.4 189.8 204.9 181.0 205.3 190.2 205.8 195.4 206.3 193.0 206.8 188.4 207.2 196.8 207.7 194.2 208.2 192.2 208.7 198.4 209.2 196.8 209.7 200.6 210.2 193.4 210.7 204.9 211.2 196.4 211.7 197.0 212.1 198.6 212.6 196.5 213.1 198.4 213.6 199.8 214.1 198.1 214.6 202.4 215.1 202.4 215.6 199.4 216.1 200.1 216.6 200.9 217.1 202.0 217.6 205.3 218.0 207.3 218.5 198.2 219.0 205.5 219.5 205.8 220.0 197.6 220.5 205.4 221.0 204.2 221.5 211.2 222.0 202.4 222.5 199.8 223.0 195.8 223.5 205.3 224.0 204.5 224.4 205.0 224.9 209.4 225.4 206.4 225.9 200.8 226.4 204.9 226.9 212.5 227.4 211.1 227.9 201.7 228.4 196.4 228.9 205.0 229.4 204.6 229.9 203.1 230.4 204.0 230.8 199.4 231.3 206.7 231.8 200.2 232.3 199.5 232.8 200.5 233.3 204.3 233.8 204.5 234.3 205.3 234.8 199.7 235.3 206.2 235.8 209.9 236.3 197.1 236.7 206.0 237.2 200.2 237.7 191.9 238.2 203.8 238.7 203.1 239.2 198.8 239.7 202.9 240.2 202.2 240.7 193.8 241.2 202.5 241.7 210.7 242.2 211.3 242.7 202.9 243.1 209.7 243.6 212.4 244.1 211.8 244.6 215.3 245.1 217.4 245.6 216.1 246.1 214.3 246.6 211.8 247.1 208.7 247.6 208.6 248.1 203.6 248.6 208.9 249.0 213.7 249.5 213.7 250.0 207.6 250.5 201.1 251.0 207.2 251.5 203.9 252.0 211.9 252.5 212.8 253.0 205.8 253.5 207.7 254.0 210.8 254.5 211.0 255.0 213.2 255.4 216.1 255.9 213.9 256.4 213.0 256.9 218.2 257.4 208.8 257.9 213.9 258.4 223.8 258.9 212.7 259.4 208.0 259.9 210.7 260.4 209.1 260.9 209.7 261.4 208.6 261.8 216.8 262.3 219.2 262.8 209.7 263.3 208.7 263.8 217.2 264.3 218.2 264.8 213.9 265.3 214.1 265.8 218.5 266.2 214.3 266.7 221.9 267.2 216.7 267.7 218.7 268.1 220.9 268.6 218.6 269.2 216.0 269.7 223.0 270.3 224.6 270.8 225.2" fill="none" stroke="#66777e" stroke-width="1.35" stroke-opacity="1.0" stroke-linejoin="round" />
<path d="M48.2 137.5V141.0M49.3 135.6V139.9M50.1 136.0V140.7M51.0 135.3V139.4M52.2 134.1V136.5M53.5 130.2V133.3M54.8 126.3V129.6M55.8 122.8V126.3M56.9 108.2V110.9M57.6 97.1V101.4M58.5 93.8V98.6M59.6 92.2V97.2M60.3 91.6V95.9M61.0 91.8V95.6M62.0 96.0V99.1M62.8 98.0V102.5M63.5 100.5V104.1M64.3 105.2V108.6M65.0 106.7V109.7M66.0 110.0V114.3M67.0 103.6V107.3M68.0 96.4V99.3M68.8 92.9V98.5M69.5 94.3V97.8M70.5 94.2V97.4M71.9 94.4V97.8M72.9 98.3V102.5M73.8 103.8V107.3M74.8 108.2V111.3M75.4 106.5V110.9M76.5 101.7V106.0M77.3 99.9V102.2M78.1 103.0V105.6M79.4 108.4V111.2M80.4 107.3V111.6M81.7 102.5V106.1M82.7 96.4V101.8M83.7 98.3V102.6M84.6 99.6V104.5M85.9 103.0V107.3M87.0 103.6V107.9M87.9 103.8V106.7M88.6 104.3V107.9M89.3 104.6V107.8M90.4 110.4V114.6M91.2 115.1V118.5M91.9 119.5V122.0M93.0 126.6V130.0M93.8 124.9V129.4M94.7 121.3V126.4M95.8 119.6V122.3M96.6 116.0V120.7M97.9 112.4V115.7M99.2 100.7V103.8M100.5 89.1V93.8M101.8 83.1V88.6M102.5 81.6V85.7M103.2 80.8V84.6M103.8 79.2V83.6M104.8 80.2V83.7M106.1 89.2V92.8M107.3 96.5V100.3M108.0 99.1V104.9M109.4 103.1V107.5M110.3 106.8V111.2M110.9 108.9V112.9M112.2 107.2V112.5M113.2 104.5V109.0M114.5 103.1V105.9M115.6 100.7V105.0M116.7 100.0V104.7M117.5 101.8V105.4M118.5 101.5V105.2M119.2 103.1V105.8M120.0 103.2V107.3M120.6 104.4V109.1M121.3 105.9V110.5M122.4 107.7V112.0M123.2 109.2V113.8M124.3 111.4V114.3M125.5 111.2V115.0M126.5 110.7V114.7M127.5 110.8V114.9M128.2 110.8V114.1M129.5 107.3V111.5M130.5 104.1V107.2M131.7 100.0V104.1M132.6 97.2V101.3M133.8 96.7V99.5M134.4 95.2V98.4M135.8 92.1V95.4M136.8 92.4V96.2M137.6 92.8V97.5M138.5 93.7V99.3M139.5 96.4V98.8M140.8 96.1V98.6M142.0 94.6V98.3M142.8 92.9V96.7M143.5 91.2V95.5M144.7 92.7V96.2M146.0 94.4V98.4M147.0 97.2V100.5M148.2 98.5V102.2M148.9 98.5V103.4M150.2 102.0V105.5M150.9 102.0V105.4M152.2 105.0V107.9M153.2 105.8V108.5M154.3 106.1V110.6M155.6 109.1V112.1M156.6 108.9V114.4M157.7 112.3V115.1M158.3 112.0V114.6M159.1 110.7V113.7M160.3 107.1V112.8M161.3 107.3V111.5M162.2 105.5V109.7M163.3 102.7V107.9M164.6 102.5V106.5M165.6 103.6V107.5M166.4 106.3V109.0M167.8 109.8V112.2M168.9 112.1V114.6M169.7 112.7V114.9M170.9 112.7V116.5M172.2 113.9V117.3M173.6 115.4V119.3M174.9 114.8V118.3M175.8 112.9V117.7M176.8 112.6V114.9M178.1 115.8V120.0M179.2 119.9V125.7M180.5 127.3V132.0M181.4 130.9V134.3M182.0 128.0V132.5M182.9 127.8V130.8M184.0 124.9V128.4M184.8 124.6V128.9M185.8 122.6V127.3M186.7 121.9V125.2M187.5 120.4V124.2M188.5 119.7V124.2M189.7 118.7V123.4M191.0 117.1V122.4M192.0 118.2V122.5M193.0 117.1V121.3M193.9 118.5V121.8M194.7 117.3V121.7M196.0 116.4V121.6M196.8 116.8V120.6M197.7 117.3V122.8M198.8 118.9V122.8M199.4 121.4V125.7M200.0 120.9V128.1M200.6 119.5V127.4M201.0 119.9V127.9M201.6 123.6V132.9M202.2 124.1V133.8M202.9 124.5V131.8M203.7 129.3V136.7M204.1 129.7V135.6M204.9 131.3V137.8M205.4 130.8V135.9M206.2 129.8V140.5M206.8 133.5V142.4M207.7 131.7V141.4M208.6 135.2V145.3M209.3 136.5V145.8M209.8 139.3V145.2M210.6 142.0V147.8M211.5 141.1V148.4M212.4 138.3V148.0M213.2 144.8V149.9M214.1 145.7V156.0M214.6 149.4V153.3M215.0 147.6V159.0M215.9 147.7V155.7M216.5 148.0V153.9M217.0 143.6V153.1M217.6 143.2V151.9M218.6 145.0V154.5M219.3 146.4V156.8M220.3 149.5V159.8M220.8 149.9V161.5M221.6 156.4V164.4M222.2 156.0V165.3M222.7 152.7V160.2M223.6 151.0V156.0M224.3 147.2V156.1M224.9 152.4V158.5M225.6 160.4V167.0M226.5 166.7V174.4M227.2 167.0V173.1M228.0 156.2V162.6M229.0 147.6V153.8M229.8 153.0V158.4M230.5 154.7V161.3M231.1 155.2V164.8M231.6 154.7V163.7M232.2 156.4V165.5M232.7 154.8V162.9M233.1 153.6V159.7M233.8 152.8V159.0M234.7 149.0V160.7M235.2 147.0V169.6M235.8 157.3V180.6M236.3 155.6V181.4M236.9 169.1V188.8M237.3 169.1V187.4M237.8 165.9V185.0M238.5 161.4V176.6M238.9 155.0V167.9M239.5 149.5V167.2M240.1 138.2V167.0M240.4 136.0V157.5M240.8 142.8V162.9M241.3 142.1V161.8M241.8 161.0V185.2M242.3 172.5V195.0M242.7 189.9V202.8M243.3 180.1V197.1M243.7 173.2V188.2M244.2 155.4V184.3M244.7 155.4V170.7M245.1 153.0V179.6M245.4 157.2V173.2M246.0 159.0V169.2M246.5 160.0V179.0M247.0 157.4V183.6M247.5 155.1V177.8M247.9 163.5V183.7M248.4 170.7V189.5M248.9 163.9V193.4M249.5 173.6V183.9M249.8 167.3V181.9M250.1 169.9V191.3M250.6 164.9V178.8M251.0 164.5V184.2M251.7 155.6V175.1M252.2 158.5V182.2M252.9 172.1V187.4M253.5 170.9V186.2M254.1 163.1V185.0M254.7 167.1V185.4M255.3 158.6V179.9M255.9 157.1V171.8M256.3 159.8V179.8M256.6 154.2V181.3M257.0 158.4V190.1M257.4 167.6V186.0M257.7 177.5V197.8M258.1 175.6V189.1M258.5 164.8V187.4M258.9 173.4V191.4M259.2 162.7V192.4M259.6 163.7V187.7M260.1 160.9V184.4M260.8 155.4V177.1M261.1 145.6V168.4" stroke="#c4c9c7" stroke-width="0.9" fill="none"/>
<path d="M48.2 138.6 49.4 138.7 50.6 138.4 52.3 135.0 53.4 132.2 54.5 129.3 56.2 123.6 56.9 110.0 57.2 99.1 58.1 97.1 59.1 96.1 60.0 94.2 60.9 92.5 62.7 100.3 63.8 104.1 64.9 108.6 66.0 112.4 67.1 104.2 68.3 95.8 69.4 96.1 70.5 95.6 71.6 94.7 72.7 99.6 73.8 105.0 74.9 110.2 76.0 105.1 77.1 100.3 78.1 104.6 79.0 108.1 80.0 112.4 81.3 105.9 82.6 99.1 83.8 100.8 84.9 102.7 86.0 104.7 87.1 104.7 88.2 104.7 89.3 105.8 90.3 111.6 91.3 117.3 92.3 122.6 93.3 129.0 94.2 125.8 95.2 123.1 96.2 119.4 97.2 115.9 98.1 112.4 99.5 100.4 100.8 88.1 102.0 86.0 103.2 82.5 104.3 79.7 105.3 85.7 106.2 91.1 107.2 96.4 108.1 102.5 109.2 105.2 110.3 108.8 111.4 111.3 112.5 108.7 113.6 106.5 114.8 103.6 115.9 103.2 117.0 103.2 118.1 102.5 119.0 104.7 119.9 105.9 120.8 108.0 121.8 108.8 122.7 110.9 123.6 112.4 124.7 112.4 125.8 112.9 126.9 113.0 128.0 113.5 129.1 109.5 130.3 106.4 131.4 102.5 132.5 99.7 133.6 98.6 134.7 96.2 135.8 93.6 136.9 94.3 138.0 96.7 139.1 96.7 140.2 98.0 141.3 96.5 142.4 94.6 143.5 93.6 144.5 94.8 145.4 95.8 146.3 97.5 147.2 98.4 148.2 99.8 149.1 101.4 150.2 103.1 151.3 104.4 152.4 106.3 153.5 108.0 154.6 109.4 155.7 110.8 156.8 112.0 157.9 113.5 158.9 112.4 159.8 110.4 160.8 109.0 161.7 107.7 162.7 106.3 163.6 104.9 164.6 103.6 165.7 106.3 166.8 108.9 167.9 110.9 169.0 113.5 170.1 114.8 171.2 114.2 172.3 116.1 173.4 116.9 174.4 116.0 175.3 115.1 176.3 114.2 177.2 113.5 178.2 118.0 179.2 123.1 180.2 128.0 181.2 132.4 182.3 130.9 183.4 128.1 184.5 125.9 185.6 124.6 186.7 123.7 187.8 122.2 188.9 121.3 190.0 120.2 191.0 119.8 191.9 119.1 192.8 119.5 193.7 119.2 194.7 119.1 195.6 119.1 196.9 119.8 198.2 120.4 199.1 122.3 200.1 124.5 201.0 127.4 202.0 127.8 202.9 130.0 203.9 130.3 204.9 133.3 205.8 134.4 206.8 135.5 207.7 137.9 208.8 140.5 209.8 144.1 210.9 145.9 212.5 144.3 213.4 146.7 214.4 150.4 215.3 153.8 216.3 151.2 217.3 148.2 218.4 150.9 219.6 151.4 220.8 155.4 222.0 160.2 223.2 154.9 224.4 150.6 225.6 163.5 226.8 174.5 227.8 162.7 228.7 149.0 230.3 158.6 231.3 160.7 232.4 160.2 233.4 156.1 234.4 152.2 236.0 169.7 237.6 180.8 239.2 155.4 241.1 149.0 242.7 196.7 244.6 163.3 246.7 164.9 249.1 180.8 251.4 168.1 253.5 180.8 256.2 164.9 257.8 184.0 259.4 176.1 261.5 157.0" fill="none" stroke="#5d6f6a" stroke-width="1.2" stroke-opacity="1.0" stroke-linejoin="round" />
<path d="M48.1 77.3V81.4M49.3 69.5V74.0M49.9 61.4V66.9M51.2 52.3V57.0M52.1 51.0V55.1M52.9 50.2V54.5M54.2 45.4V49.6M55.5 41.2V44.7M56.5 37.8V40.8M57.5 35.0V39.0M58.9 33.0V37.3M60.2 29.5V34.8M61.5 28.0V30.2M62.3 31.0V36.6M63.4 42.3V45.9M64.7 50.2V52.6M65.4 46.2V51.1M66.4 41.1V45.1M67.2 36.2V41.1M68.0 36.1V40.6M68.8 33.0V37.7M69.8 33.0V37.2M71.0 32.3V35.5M72.0 35.5V40.2M73.3 38.7V42.9M74.0 39.2V45.3M74.7 38.3V42.4M76.1 35.9V38.0M77.3 35.9V40.1M78.6 38.6V43.5M79.4 41.4V43.4M80.2 37.2V41.4M81.1 34.4V39.3M82.2 35.5V40.0M83.4 37.4V43.4M84.0 39.6V43.8M85.0 42.3V45.7M85.8 43.3V48.2M87.1 45.7V49.9M87.9 46.8V51.6M88.8 48.9V51.3M90.1 49.5V53.2M91.4 52.3V56.3M92.7 56.0V58.4M93.6 56.3V61.2M94.6 53.7V58.6M95.8 52.2V55.8M96.5 48.5V53.8M97.6 45.3V49.7M98.8 42.2V45.5M99.9 38.9V42.2M100.9 36.1V39.3M102.1 32.0V36.4M103.4 27.8V33.4M104.3 30.7V33.5M105.1 31.9V36.2M106.4 37.4V42.7M107.1 40.0V43.8M108.3 43.7V49.1M109.3 46.9V51.4M110.0 49.4V53.4M110.9 53.6V58.4M111.8 55.3V59.7M112.8 56.8V60.8M113.9 58.2V62.1M115.2 58.6V63.3M116.6 63.0V65.6M117.9 65.0V68.8M119.3 66.5V70.8M119.9 68.0V72.0M121.2 70.3V75.0M122.1 68.8V73.9M122.8 66.6V71.7M123.8 64.6V70.0M124.8 64.3V67.1M126.0 61.2V65.7M127.2 58.5V62.6M128.5 56.4V59.7M129.8 52.8V57.0M131.1 51.2V55.3M132.1 49.3V53.6M133.3 49.4V52.1M134.6 49.0V54.7M135.9 52.6V56.4M137.0 53.5V58.9M137.9 55.7V59.9M139.2 54.1V59.7M140.0 54.3V59.3M140.9 52.8V56.4M141.6 53.7V57.7M142.4 53.5V57.0M143.6 54.6V58.6M144.4 56.4V60.0M145.1 57.2V61.5M146.5 58.7V62.1M147.6 57.0V62.4M148.6 57.1V62.6M149.8 57.0V62.2M150.4 56.9V61.0M151.3 58.9V62.8M152.4 59.8V63.7M153.3 60.7V66.2M154.2 63.4V67.2M155.5 62.8V68.1M156.4 65.6V69.7M157.4 66.4V70.0M158.0 66.4V70.5M159.2 67.7V70.8M160.1 67.5V71.5M160.8 67.6V72.5M162.1 64.3V68.5M163.1 64.7V68.2M164.4 63.9V68.4M165.5 64.4V68.3M166.3 64.3V70.1M167.7 64.4V70.4M168.8 66.0V69.2M170.1 67.3V71.8M171.3 67.7V72.3M172.5 67.1V71.1M173.4 69.0V73.4M174.2 69.1V73.8M175.1 69.6V74.4M176.0 69.8V75.4M177.2 71.5V76.5M177.9 72.0V78.2M178.6 78.1V81.3M179.3 82.6V86.8M180.0 87.9V92.5M180.7 90.5V95.4M182.0 85.3V91.6M182.9 84.4V87.2M183.6 80.6V85.3M184.7 80.3V84.9M186.1 79.6V84.4M186.8 80.1V84.1M187.7 78.8V84.0M188.9 77.5V82.1M189.5 79.1V83.7M190.3 79.8V82.1M191.7 80.3V82.8M192.6 81.2V84.8M193.8 80.6V85.1M194.4 79.6V84.8M195.6 81.3V85.7M197.0 81.2V84.9M198.0 81.2V85.7M199.0 81.2V86.9M199.9 81.9V87.6M200.5 80.5V89.0M201.1 81.5V92.2M201.9 82.6V88.5M202.4 82.6V91.7M203.1 83.7V93.1M203.7 82.1V92.6M204.3 84.9V97.2M205.0 86.1V95.1M205.4 84.9V94.7M206.2 91.3V97.3M206.9 87.7V101.1M207.5 93.4V101.7M208.4 90.1V100.1M209.2 93.6V105.9M210.1 94.8V107.7M210.5 94.7V107.4M211.4 98.9V106.7M212.4 92.7V105.4M213.3 105.5V110.4M213.8 105.0V117.7M214.5 99.6V111.5M215.0 95.6V108.8M216.0 104.0V115.1M216.9 109.7V114.7M217.5 101.3V111.1M218.3 101.6V109.5M218.9 105.0V115.1M219.8 114.0V121.6M220.7 106.8V113.8M221.4 109.6V118.2M222.3 116.6V123.4M223.3 113.2V122.3M223.9 105.7V116.3M224.9 101.4V112.4M225.3 101.3V109.9M226.1 110.4V117.6M226.6 115.5V121.8M227.2 112.4V124.1M228.1 107.3V118.4M228.7 102.6V112.0M229.5 108.2V118.6M230.0 113.8V121.0M230.6 86.8V106.9M231.0 76.7V97.6M231.5 97.6V117.4M232.0 103.2V126.4M232.5 119.8V151.2M233.1 102.5V129.1M233.5 98.3V119.4M234.0 84.1V101.6M234.7 102.9V119.8M235.3 114.3V142.3M235.9 111.9V137.3M236.4 106.1V129.8M236.7 90.0V113.5M237.3 84.7V115.7M237.7 93.6V117.3M238.1 103.4V136.2M238.4 115.2V139.0M239.0 130.9V151.8M239.3 141.1V154.3M240.0 121.9V136.1M240.6 102.3V118.1M241.3 78.8V110.5M241.6 93.2V112.9M242.1 92.6V117.2M242.7 101.8V127.2M243.1 98.8V120.5M243.4 105.5V132.3M244.0 118.1V140.4M244.7 104.9V135.0M245.0 106.3V124.1M245.4 100.2V126.8M245.9 86.9V113.5M246.3 92.4V123.4M246.8 104.4V125.2M247.2 106.2V128.5M247.7 107.6V128.0M248.2 115.0V135.1M248.5 117.8V136.3M249.1 107.0V131.8M249.6 115.2V129.3M250.0 114.5V140.3M250.5 114.2V145.8M250.9 122.0V146.3M251.2 131.9V155.3M251.8 138.6V148.8M252.4 123.7V151.4M253.0 129.5V143.3M253.5 116.7V140.1M254.0 118.2V136.9M254.6 125.2V147.9M255.1 127.7V140.9M255.6 128.3V148.1M256.1 128.0V142.2M256.7 117.3V139.2M257.0 113.2V129.4M257.5 107.3V119.2M258.2 95.5V118.0M258.8 109.6V129.8M259.4 116.6V131.7" stroke="#c4c4c4" stroke-width="0.9" fill="none"/>
<path d="M48.1 80.5 49.5 69.0 50.5 57.1 51.6 54.0 52.8 51.7 53.9 49.3 55.0 44.9 56.1 41.6 57.2 37.1 58.3 36.6 59.4 34.9 60.5 32.3 61.6 28.7 62.6 36.5 63.5 44.5 64.5 52.6 65.8 45.5 67.1 39.4 68.3 37.3 69.4 34.6 70.5 32.7 71.6 36.0 72.7 38.8 73.8 42.7 75.1 39.4 76.4 36.0 77.4 39.1 78.4 40.4 79.3 42.7 80.4 39.1 81.5 35.4 82.6 37.9 83.8 40.8 84.9 44.1 86.0 47.1 87.1 47.6 88.2 48.9 89.3 50.4 90.4 52.9 91.5 53.8 92.6 57.1 93.7 59.3 94.8 55.2 95.9 52.3 97.0 49.4 98.1 46.0 99.1 43.0 100.0 41.1 100.9 37.5 101.8 35.4 102.8 34.0 103.7 30.1 104.8 34.1 105.9 37.7 107.0 42.3 108.1 46.0 109.2 49.9 110.3 53.0 111.4 57.1 112.5 58.5 113.6 59.6 114.8 61.1 115.9 62.6 116.8 64.2 117.7 65.1 118.6 67.6 119.5 69.2 120.5 71.6 121.4 72.6 122.3 70.7 123.2 68.4 124.2 67.3 125.1 65.8 126.0 64.1 126.9 61.5 128.0 58.5 129.1 58.0 130.3 54.9 131.4 53.3 132.5 51.4 133.6 50.4 134.7 52.9 135.8 54.4 136.9 55.8 138.0 58.2 139.1 57.3 140.2 55.8 141.3 54.9 142.2 55.8 143.2 56.0 144.1 57.7 145.0 58.8 145.9 59.4 146.9 60.4 148.0 59.9 149.1 59.3 150.2 59.3 151.3 61.6 152.4 62.0 153.5 63.0 154.6 64.8 155.5 65.4 156.5 66.8 157.4 67.6 158.3 67.9 159.2 69.2 160.1 70.4 161.3 68.5 162.4 67.4 163.5 65.5 164.4 65.8 165.3 65.9 166.2 65.6 167.2 67.4 168.1 67.6 169.0 68.1 170.1 68.0 171.2 69.1 172.3 69.5 173.4 70.4 174.5 71.6 175.6 72.6 176.8 74.1 177.9 74.8 179.2 83.9 180.5 93.6 181.5 89.8 182.4 87.2 183.4 83.6 184.3 82.8 185.2 81.9 186.2 81.0 187.1 81.2 188.0 81.2 188.9 80.3 190.0 80.8 191.1 81.6 192.3 82.3 193.4 82.5 195.0 82.3 196.1 83.5 197.1 83.2 198.2 83.8 199.2 85.1 200.2 85.1 201.2 85.6 202.2 86.2 203.3 88.4 204.5 91.0 205.6 93.1 206.7 93.9 207.7 95.8 208.8 98.5 209.8 100.3 210.9 102.9 212.5 99.7 213.8 112.5 215.2 101.3 216.5 115.6 218.1 104.5 219.6 117.2 220.9 108.5 222.3 120.4 223.3 114.7 224.3 110.1 225.2 105.3 226.8 120.4 227.8 113.2 228.7 106.9 230.0 117.2 230.9 85.4 232.5 136.3 234.0 91.8 235.5 134.7 237.1 95.0 239.2 152.2 241.1 93.4 244.3 126.8 245.9 103.7 248.3 126.8 249.8 122.0 251.4 145.9 253.8 131.5 256.2 134.7 257.8 109.3 259.4 122.8" fill="none" stroke="#555555" stroke-width="1.2" stroke-opacity="1.0" stroke-linejoin="round" />
</g>
<path d="M53.12 19.30v1.5M53.12 397.20v-1.5M63.05 19.30v1.5M63.05 397.20v-1.5M72.99 19.30v2.5M72.99 397.20v-2.5M82.93 19.30v1.5M82.93 397.20v-1.5M92.87 19.30v1.5M92.87 397.20v-1.5M102.80 19.30v1.5M102.80 397.20v-1.5M112.74 19.30v1.5M112.74 397.20v-1.5M122.68 19.30v2.5M122.68 397.20v-2.5M132.61 19.30v1.5M132.61 397.20v-1.5M142.55 19.30v1.5M142.55 397.20v-1.5M152.49 19.30v1.5M152.49 397.20v-1.5M162.42 19.30v1.5M162.42 397.20v-1.5M172.36 19.30v2.5M172.36 397.20v-2.5M182.30 19.30v1.5M182.30 397.20v-1.5M192.23 19.30v1.5M192.23 397.20v-1.5M202.17 19.30v1.5M202.17 397.20v-1.5M212.11 19.30v1.5M212.11 397.20v-1.5M222.04 19.30v2.5M222.04 397.20v-2.5M231.98 19.30v1.5M231.98 397.20v-1.5M241.92 19.30v1.5M241.92 397.20v-1.5M251.85 19.30v1.5M251.85 397.20v-1.5M261.79 19.30v1.5M261.79 397.20v-1.5M271.73 19.30v2.5M271.73 397.20v-2.5M281.66 19.30v1.5M281.66 397.20v-1.5M291.60 19.30v1.5M291.60 397.20v-1.5M301.54 19.30v1.5M301.54 397.20v-1.5M311.47 19.30v1.5M311.47 397.20v-1.5M321.41 19.30v2.5M321.41 397.20v-2.5M331.34 19.30v1.5M331.34 397.20v-1.5M341.28 19.30v1.5M341.28 397.20v-1.5M48.15 334.22h2.0M346.25 334.22h-2.0M48.15 271.23h2.0M346.25 271.23h-2.0M48.15 208.25h2.0M346.25 208.25h-2.0M48.15 145.27h2.0M346.25 145.27h-2.0M48.15 82.28h2.0M346.25 82.28h-2.0" stroke="#888" stroke-width="0.7" fill="none"/>
<rect x="48.15" y="19.30" width="298.10" height="377.90" fill="none" stroke="#7a7a7a" stroke-width="1"/>
<g font-family='"Liberation Sans", sans-serif' font-size="13.0" fill="#000" stroke="#000" stroke-width="0.2"><text x="72.99" y="409.70" text-anchor="middle" textLength="32.5" lengthAdjust="spacingAndGlyphs">4000</text><text x="122.68" y="409.70" text-anchor="middle" textLength="32.5" lengthAdjust="spacingAndGlyphs">5000</text><text x="172.36" y="409.70" text-anchor="middle" textLength="32.5" lengthAdjust="spacingAndGlyphs">6000</text><text x="222.04" y="409.70" text-anchor="middle" textLength="32.5" lengthAdjust="spacingAndGlyphs">7000</text><text x="271.73" y="409.70" text-anchor="middle" textLength="32.5" lengthAdjust="spacingAndGlyphs">8000</text><text x="321.41" y="409.70" text-anchor="middle" textLength="32.5" lengthAdjust="spacingAndGlyphs">9000</text><text x="44.75" y="402.50" text-anchor="end" textLength="19.3" lengthAdjust="spacingAndGlyphs">0.0</text><text x="44.75" y="339.52" text-anchor="end" textLength="19.3" lengthAdjust="spacingAndGlyphs">0.5</text><text x="44.75" y="276.53" text-anchor="end" textLength="19.3" lengthAdjust="spacingAndGlyphs">1.0</text><text x="44.75" y="213.55" text-anchor="end" textLength="19.3" lengthAdjust="spacingAndGlyphs">1.5</text><text x="44.75" y="150.57" text-anchor="end" textLength="19.3" lengthAdjust="spacingAndGlyphs">2.0</text><text x="44.75" y="87.58" text-anchor="end" textLength="19.3" lengthAdjust="spacingAndGlyphs">2.5</text><text x="44.75" y="24.60" text-anchor="end" textLength="19.3" lengthAdjust="spacingAndGlyphs">3.0</text></g>
<text x="197.50" y="431.40" text-anchor="middle" font-family='"Liberation Sans", sans-serif' font-size="18.4" stroke="#000" stroke-width="0.25" textLength="187.6" lengthAdjust="spacingAndGlyphs">Rest wavelength [Å]</text>
<text transform="translate(17.75,208.25) rotate(-90)" text-anchor="middle" font-family='"Liberation Sans", sans-serif' font-size="18.2" stroke="#000" stroke-width="0.25" textLength="194" lengthAdjust="spacingAndGlyphs">Log<tspan font-size="12.5" dy="4">10</tspan><tspan dy="-4">(</tspan><tspan font-style="italic">F</tspan><tspan font-size="12.5" dy="4" font-style="italic">λ</tspan><tspan dy="-4">) + constant</tspan></text>
<path d="M420.80 19.30V397.20M466.70 19.30V397.20M512.60 19.30V397.20M558.50 19.30V397.20M604.40 19.30V397.20M650.30 19.30V397.20M397.85 343.21H696.20M397.85 289.23H696.20M397.85 235.24H696.20M397.85 181.26H696.20M397.85 127.27H696.20M397.85 73.29H696.20" stroke="#e4e4e4" stroke-width="0.7" fill="none"/>
<rect x="544.90" y="19.30" width="5.10" height="377.90" fill="#d9d9d9"/><rect x="577.90" y="19.30" width="5.10" height="377.90" fill="#d9d9d9"/>
<g clip-path="url(#c2)">
<path d="M398.3 393.6V397.4M399.5 389.3V392.4M400.6 384.8V389.0M401.7 383.3V385.5M403.1 383.0V384.9M404.5 383.2V385.5M405.3 381.9V385.2M406.3 380.8V384.4M407.2 375.5V377.8M407.9 369.8V371.5M409.0 369.5V372.4M409.8 373.8V375.3M410.9 374.5V377.5M411.7 372.2V374.5M412.6 375.4V377.9M413.6 386.5V388.8M414.7 381.2V384.1M415.5 374.4V378.5M416.6 364.2V368.0M417.5 361.5V364.0M418.5 357.6V361.2M419.8 357.2V360.1M420.4 355.2V358.1M421.6 352.6V356.2M422.8 358.6V361.0M423.5 360.4V362.9M424.1 361.8V364.4M424.9 364.9V367.4M425.8 363.8V365.2M426.6 362.4V364.5M427.2 363.7V366.9M427.9 366.1V368.0M428.7 367.7V369.9M429.5 369.4V371.5M430.5 367.4V371.1M431.5 365.4V367.0M432.6 362.3V365.6M433.9 362.4V364.7M434.7 362.8V365.3M435.6 360.4V363.7M436.9 358.5V361.8M437.9 361.1V363.5M438.7 362.6V366.5M439.7 367.2V370.8M441.1 372.7V375.4M441.9 375.0V377.8M443.3 374.4V377.0M444.4 367.8V370.7M445.5 362.5V364.8M446.1 358.2V362.0M447.0 350.0V353.3M447.8 343.1V347.2M448.5 337.7V340.9M449.7 333.2V336.5M450.6 334.6V336.3M451.3 335.6V338.3M451.9 336.2V338.0M452.6 335.8V338.3M453.7 341.9V344.0M454.5 347.0V349.5M455.4 354.4V357.1M456.6 363.4V366.1M457.8 357.5V360.5M458.4 354.8V357.5M459.1 353.2V356.9M460.1 351.7V355.0M461.5 344.5V347.7M462.6 347.9V351.4M463.7 345.9V349.6M464.8 337.6V340.3M465.6 333.2V335.8M466.5 331.2V334.2M467.2 335.3V338.9M468.6 345.7V348.7M469.4 352.5V356.5M470.0 359.4V361.2M470.9 361.7V363.2M471.5 361.1V364.3M472.5 360.8V364.2M473.2 361.1V364.3M474.2 361.1V364.7M475.3 361.4V364.7M476.0 362.0V364.0M476.8 361.3V363.3M478.0 354.5V358.0M478.7 351.5V354.5M480.0 341.4V345.2M480.8 339.3V341.7M481.8 337.2V339.5M483.0 336.8V339.3M484.3 337.9V339.9M485.2 336.0V339.2M486.5 333.4V335.0M487.5 330.1V332.2M488.8 322.7V326.2M489.5 319.1V322.1M490.6 317.5V320.9M491.3 317.5V321.2M492.5 321.5V324.1M493.6 323.2V325.8M495.0 324.0V327.1M496.0 326.4V329.3M496.9 329.9V332.8M497.9 333.1V335.9M498.7 334.8V338.8M499.5 338.1V340.7M500.6 338.5V342.7M501.3 339.4V342.1M502.3 334.3V337.1M503.1 331.5V333.6M504.4 326.2V328.7M505.3 321.0V324.7M506.3 323.4V326.5M507.2 328.1V331.6M508.5 332.3V334.2M509.2 331.4V333.8M509.9 331.5V334.4M510.6 333.4V335.3M512.0 337.9V342.2M513.1 342.1V344.4M514.0 343.6V347.0M514.7 344.6V348.7M515.3 344.4V346.6M516.3 340.7V343.7M517.7 341.1V343.2M519.0 341.9V345.6M519.8 343.0V346.3M520.8 345.1V348.0M521.4 346.7V349.8M522.7 348.7V352.1M523.9 345.3V347.8M524.9 341.9V344.2M525.9 343.2V345.7M526.5 344.8V346.1M527.8 347.6V350.3M529.1 351.1V353.8M530.4 343.9V347.0M531.0 340.6V342.5M532.2 333.0V337.3M533.2 330.0V333.6M533.8 329.0V330.9M534.8 327.1V329.0M535.4 327.8V330.1M536.7 327.6V331.3M537.5 327.5V329.7M538.1 326.4V328.7M538.8 325.2V328.2M539.7 328.4V330.5M540.4 330.0V334.1M541.6 335.0V337.3M542.3 337.6V340.0M543.4 343.3V347.7M544.2 351.5V353.2M545.5 351.0V355.2M546.7 346.4V350.2M547.6 344.9V348.5M548.6 342.9V345.1M549.5 342.8V346.4M550.6 345.8V349.6M551.7 349.6V352.2M552.4 351.0V352.6M553.5 352.3V354.7M554.1 352.6V355.5M554.9 350.0V353.4M555.7 348.1V352.0M556.6 347.5V350.0M557.2 345.9V349.0M558.0 345.5V348.6M559.1 347.7V350.3M560.5 349.2V352.0M561.2 352.5V355.1M562.2 355.1V357.6M562.9 356.6V358.9M564.0 355.2V358.2M565.3 354.4V357.8M566.0 354.7V356.9M567.1 352.5V356.9M567.9 351.4V353.7M568.7 348.3V351.6M569.3 347.2V349.5M570.3 345.3V347.9M570.9 345.2V347.4M571.6 343.8V347.7M572.3 345.4V348.1M573.6 349.0V351.1M574.3 350.0V351.8M575.4 350.6V353.6M576.2 351.0V354.6M577.5 348.7V350.6M578.5 346.3V348.4M579.6 343.6V346.9M580.7 342.7V346.5M581.9 346.9V350.1M583.2 351.5V355.7M583.8 355.1V359.2M584.7 361.5V364.3M586.0 360.1V362.1M586.7 358.8V361.6M587.9 353.4V354.9M589.0 346.2V349.0M590.3 343.6V346.0M591.2 341.4V343.9M592.5 341.8V344.4M593.6 342.3V344.4M594.6 343.2V345.4M595.8 342.4V346.0M596.8 344.4V347.4M597.6 346.8V348.8M598.3 347.9V350.7M598.9 349.3V352.4M599.6 352.6V354.9M600.6 353.7V361.9M601.8 356.4V362.9M602.6 356.7V365.0M603.9 359.8V369.2M604.7 358.5V365.5M605.6 357.6V368.5M606.9 355.5V367.5M608.1 357.1V363.4M609.2 355.0V364.6M609.9 356.5V365.6M610.9 359.3V367.0M611.6 360.8V367.6M612.7 358.2V367.4M613.5 360.1V370.1M614.8 362.8V372.8M615.6 365.8V375.9M616.2 366.7V377.2M617.4 371.0V379.5M618.4 374.5V384.0M619.7 379.1V384.0M621.0 377.6V385.7M621.7 373.0V385.0M622.9 368.9V377.2M624.0 367.4V375.2M625.0 359.8V368.6M625.7 359.7V367.1M626.9 353.4V364.7M628.1 349.4V358.4M629.2 348.8V354.8M630.4 345.9V351.6M631.3 345.3V350.1M632.0 342.8V349.4M633.3 341.8V351.1M634.1 342.6V353.1M635.4 345.8V354.2M636.5 348.9V357.1M637.4 348.7V354.8M638.5 348.5V359.4M639.3 350.6V355.1M640.0 347.2V355.7M640.7 349.9V357.2M642.0 356.1V363.5M643.2 355.5V364.3M644.3 362.9V369.9M645.0 364.6V370.8M646.4 364.2V374.5M647.5 366.0V376.4M648.1 368.5V373.7M648.8 366.3V374.1M650.1 370.1V377.2" stroke="#c8ced1" stroke-width="0.9" fill="none"/>
<path d="M398.3 395.7 399.9 390.1 401.2 384.6 402.8 383.5 404.3 384.6 406.1 383.5 407.2 376.9 408.3 366.9 409.4 372.4 410.5 379.1 411.6 372.4 412.7 376.9 413.8 390.1 414.9 381.3 416.7 365.8 418.3 359.1 419.8 358.0 421.6 354.7 423.3 361.4 424.9 365.8 426.4 363.6 428.2 368.0 430.0 371.3 431.5 365.8 433.1 362.5 434.9 364.7 436.6 359.1 438.2 362.5 439.3 367.2 440.4 372.4 441.5 375.5 442.6 379.1 444.2 370.2 445.9 361.4 447.7 345.9 449.3 333.7 450.8 335.9 451.9 337.0 453.0 338.1 454.8 350.3 456.6 364.7 458.1 356.9 459.2 354.8 460.3 352.5 461.4 345.9 463.2 351.4 464.8 339.2 466.3 330.4 468.1 343.6 469.2 353.1 470.3 362.5 471.4 362.4 472.5 362.5 473.6 362.8 474.7 363.6 475.8 362.4 476.9 362.5 478.7 352.5 480.3 341.4 481.4 339.3 482.5 337.0 484.0 339.2 485.8 335.9 486.9 333.1 488.0 330.4 489.8 318.2 491.3 319.3 492.4 321.7 493.5 324.8 494.6 326.4 495.8 327.0 496.9 331.0 498.0 334.8 499.5 339.2 501.3 341.4 502.4 336.1 503.5 330.4 504.6 325.7 505.7 321.5 506.8 327.0 507.9 333.7 509.0 333.1 510.1 332.6 511.3 337.9 512.4 341.4 513.5 344.6 514.6 347.0 515.7 344.2 516.8 341.4 517.9 341.9 519.0 343.6 520.1 346.1 521.2 348.1 523.0 351.4 524.5 342.5 525.6 344.6 526.8 345.9 527.9 349.1 529.0 352.5 530.5 344.8 532.3 334.8 533.4 331.5 534.5 328.1 535.6 328.2 536.7 329.3 537.8 328.6 538.9 327.0 540.0 331.4 541.1 334.8 542.9 341.4 544.7 356.9 545.7 352.7 546.7 348.1 547.8 346.0 548.9 343.6 549.4 344.8 550.5 348.2 551.6 350.3 552.8 352.2 553.9 354.7 555.0 351.8 556.1 349.2 557.2 347.7 558.3 347.0 559.4 349.1 560.5 351.4 561.6 355.0 562.7 358.0 563.8 357.6 564.9 356.9 566.0 355.9 567.1 354.7 568.3 351.8 569.4 348.1 570.5 347.2 571.6 345.9 572.7 347.4 573.8 350.3 574.9 351.5 576.0 353.6 577.1 351.1 578.2 348.1 579.3 345.6 580.4 343.6 581.5 347.4 582.6 350.3 583.8 357.2 584.9 363.6 586.0 361.4 587.1 359.1 588.2 352.3 589.3 345.9 590.4 344.9 591.5 342.5 592.6 343.9 593.7 343.6 595.0 344.0 596.4 344.8 597.3 347.0 598.3 349.9 599.3 352.5 600.4 355.4 601.5 359.0 602.6 362.5 603.7 365.2 604.8 363.6 605.9 361.0 607.0 361.4 608.1 361.3 609.2 360.3 610.3 361.4 611.4 362.5 612.5 362.6 613.6 365.8 614.8 367.3 615.9 370.2 617.0 374.2 618.1 376.9 619.2 378.6 620.3 383.5 621.4 380.5 622.5 376.9 623.6 371.1 624.7 365.8 625.8 362.5 626.9 359.1 628.0 354.2 629.1 351.4 630.3 349.6 631.4 347.0 632.5 345.5 633.6 345.9 634.7 347.5 635.8 350.3 636.9 350.1 638.0 353.6 639.1 353.1 640.2 352.5 641.3 355.8 642.4 359.1 643.5 361.6 644.6 365.8 645.8 369.7 646.9 370.2 648.0 372.0 649.1 372.4 650.8 373.5" fill="none" stroke="#63727a" stroke-width="1.05" stroke-opacity="1.0" stroke-linejoin="round" />
<path d="M398.3 369.3V372.0M399.4 359.9V362.3M400.7 352.5V355.9M401.7 351.4V353.1M402.6 349.1V351.4M403.8 348.8V350.8M404.4 347.2V351.3M405.7 348.7V351.0M406.6 349.2V351.5M408.0 336.8V338.9M409.2 333.6V336.5M410.2 339.2V341.9M411.2 334.2V335.8M412.5 335.2V338.1M413.2 337.6V341.8M414.4 347.9V351.4M415.6 339.8V342.1M416.9 328.3V331.4M418.2 320.9V323.5M419.1 320.4V323.9M420.1 319.8V321.2M421.2 316.5V320.1M422.2 318.7V322.0M423.0 321.0V324.2M424.1 326.0V327.8M425.0 327.8V331.2M426.1 323.4V325.4M426.7 321.6V325.5M427.6 325.2V328.7M428.9 328.4V331.9M430.3 328.6V332.4M431.6 322.2V324.8M432.4 318.7V321.6M433.1 319.7V323.5M434.1 320.2V322.9M434.9 319.8V322.2M435.6 319.1V321.0M436.9 315.7V319.8M437.9 317.5V320.7M438.9 320.6V323.0M439.7 323.6V327.5M441.0 329.8V332.7M442.1 332.4V335.5M443.1 334.6V337.5M443.7 331.8V335.7M444.3 328.5V331.8M445.6 321.0V323.6M446.5 311.1V315.4M447.2 305.5V307.0M447.9 298.5V300.7M449.1 283.4V285.9M450.2 285.3V287.9M451.0 287.5V289.4M451.9 287.6V290.9M452.5 288.2V292.0M453.7 294.7V297.2M454.7 304.4V307.0M455.4 307.8V310.6M456.6 314.7V316.5M457.5 309.5V312.7M458.3 304.9V307.9M459.7 300.8V303.2M460.7 295.7V299.7M461.5 292.4V295.7M462.6 296.7V299.4M464.0 292.7V295.0M465.4 284.8V286.4M466.0 280.9V284.7M467.0 285.1V287.4M468.1 293.8V296.6M469.0 301.3V303.5M469.6 306.4V308.8M470.8 306.9V310.6M471.8 307.3V309.6M472.8 307.3V311.1M473.4 308.2V311.0M474.6 308.1V312.0M475.7 307.4V310.9M477.0 306.0V309.5M477.8 299.6V303.0M478.9 292.2V296.3M480.3 287.6V289.4M481.1 285.7V287.8M482.2 284.7V286.5M483.5 284.6V287.9M484.2 285.5V289.4M485.0 288.4V291.2M486.1 288.3V291.6M487.0 286.7V289.8M487.7 281.7V284.4M488.8 278.1V280.5M490.1 275.1V277.8M491.2 276.4V278.4M492.1 277.3V279.3M493.5 280.7V283.3M494.8 283.1V285.5M495.9 287.1V289.4M497.0 290.3V292.0M498.0 293.6V295.5M499.0 295.2V298.5M499.7 295.9V299.8M500.7 297.6V299.3M501.7 294.6V297.2M502.9 286.1V290.2M504.2 280.4V282.6M504.9 275.9V279.9M506.1 275.0V276.6M507.3 279.9V283.2M508.3 283.1V286.2M509.1 285.4V287.7M510.2 286.7V289.6M510.9 288.7V291.9M511.6 290.6V292.4M512.3 291.5V294.6M513.4 295.3V297.0M514.7 297.9V300.7M515.9 295.3V298.6M516.5 293.8V296.7M517.2 294.5V297.2M518.3 295.9V298.6M519.3 297.4V300.3M520.5 300.0V303.8M521.3 302.7V306.7M522.3 308.3V312.6M523.2 310.4V314.7M524.5 303.9V305.8M525.6 300.5V304.0M526.7 299.0V302.0M527.7 295.7V298.8M529.1 293.3V296.8M530.3 289.2V292.5M531.0 288.0V290.2M532.0 285.9V289.0M532.7 286.5V288.4M533.8 285.4V287.8M534.5 284.5V287.4M535.6 282.2V285.7M536.3 283.8V286.2M537.4 284.1V287.8M538.5 287.4V289.7M539.4 289.7V292.2M540.4 292.8V294.9M541.7 296.4V299.9M542.9 301.6V305.6M543.8 307.5V309.4M544.9 310.6V313.7M546.3 308.4V310.3M547.5 305.0V308.4M548.1 304.5V307.7M549.1 303.1V305.7M550.2 304.1V307.4M551.5 305.1V308.2M552.3 306.9V310.7M553.7 311.2V314.2M555.0 311.3V313.2M556.1 310.7V313.5M556.9 309.0V311.8M557.7 309.0V311.4M558.8 309.5V312.2M559.7 310.5V313.4M560.5 312.8V314.4M561.6 314.3V316.5M562.9 316.1V318.5M564.1 317.4V320.4M565.1 315.8V319.2M566.2 315.2V318.1M567.1 314.2V317.7M568.1 312.7V315.1M569.3 311.0V313.3M570.3 308.8V311.3M571.3 308.1V310.3M572.1 306.6V309.7M572.9 307.6V309.3M573.7 308.8V311.3M574.9 310.5V312.3M576.0 310.7V312.8M577.2 310.4V313.1M578.2 308.4V310.2M579.3 309.4V311.1M580.4 311.5V315.0M581.5 315.7V317.5M582.3 316.4V319.7M583.6 321.4V323.5M584.9 324.0V327.5M585.6 321.9V324.8M587.0 318.7V322.4M588.0 315.7V317.8M589.1 310.4V313.3M590.4 308.6V310.4M591.1 306.8V309.9M592.3 306.6V308.6M593.0 306.1V309.2M593.7 307.0V310.3M594.7 307.7V311.1M595.7 309.1V311.9M596.4 310.2V312.7M597.3 312.4V315.4M598.2 314.1V315.8M599.0 314.5V317.8M600.1 316.3V323.8M601.1 316.3V325.5M602.0 320.4V327.9M603.3 321.0V329.8M604.1 321.4V332.7M604.8 323.3V333.3M606.0 321.5V333.3M606.8 320.9V330.4M607.7 321.9V330.5M608.6 324.9V332.4M609.4 324.9V334.8M610.6 324.4V335.3M611.9 323.1V334.7M612.9 322.1V331.1M614.3 322.5V330.9M615.4 326.4V331.8M616.3 329.4V333.5M617.0 330.0V339.0M617.6 331.1V338.0M618.7 335.1V341.9M619.8 336.9V344.0M621.0 337.0V342.6M622.2 330.3V342.0M623.0 328.8V336.5M624.1 324.3V332.3M625.0 321.2V330.5M626.1 317.8V326.3M627.3 317.2V322.2M628.1 313.1V319.1M628.7 308.9V316.8M629.8 306.9V316.7M631.0 304.1V311.1M632.2 310.7V318.9M633.1 311.8V317.4M634.0 310.7V321.7M635.2 310.7V318.6M636.1 310.5V317.3M637.4 306.2V314.6M638.7 309.3V319.0M639.9 313.0V320.9M641.0 315.4V327.3M642.3 322.9V330.0M643.3 321.7V330.0M644.3 327.0V334.7M645.5 329.2V334.2M646.2 327.6V336.8M646.9 327.1V339.2M647.8 330.2V338.0M648.9 332.6V339.9M650.1 333.4V339.1" stroke="#c6cbc9" stroke-width="0.9" fill="none"/>
<path d="M398.3 370.2 399.4 361.4 400.5 354.7 401.6 352.5 402.8 350.3 403.9 349.9 405.0 349.2 406.5 351.4 407.8 339.2 408.7 330.4 410.1 341.4 411.6 332.6 413.2 339.2 414.5 350.3 416.0 337.0 417.6 322.6 419.4 321.5 420.5 320.0 421.6 318.2 423.3 323.7 424.9 330.4 426.4 322.6 428.2 329.3 430.0 332.6 431.1 326.4 432.2 320.4 433.8 322.6 434.9 320.7 436.0 319.3 437.5 317.1 439.3 323.7 440.4 328.9 441.5 333.7 443.3 335.9 444.4 329.8 445.5 323.7 446.6 313.0 447.7 301.6 449.3 283.9 450.8 288.3 451.9 289.2 453.0 290.5 454.8 306.0 456.6 316.0 458.1 307.1 459.2 303.2 460.3 299.4 461.4 293.8 463.2 299.4 464.8 288.3 466.3 281.6 468.1 294.9 469.8 309.3 471.0 308.7 472.1 308.2 473.2 309.3 474.3 310.4 475.6 309.5 476.9 308.2 478.7 294.9 480.3 288.3 481.4 286.7 482.5 285.0 484.0 287.2 485.3 290.5 486.9 288.3 488.0 281.6 489.8 276.1 491.1 277.4 492.4 278.7 493.5 281.8 494.6 284.2 495.8 287.4 496.9 290.9 498.0 294.8 499.1 297.5 500.2 297.8 501.3 298.6 502.4 291.1 503.5 284.2 504.6 279.3 505.7 274.3 506.8 278.7 507.9 284.2 509.0 286.2 510.1 288.6 511.3 291.3 512.4 293.1 513.5 296.4 514.6 299.7 515.7 297.1 516.8 295.3 517.9 296.4 519.0 297.5 520.1 300.3 521.2 304.1 523.0 314.1 524.5 304.1 525.6 302.2 526.8 299.7 527.9 297.4 529.0 295.3 530.1 291.5 531.2 288.6 532.3 286.7 533.4 286.4 534.5 284.6 535.6 284.2 536.7 285.2 537.8 286.4 538.9 290.2 540.0 293.1 541.1 296.7 542.3 299.7 543.4 306.3 544.5 313.0 545.6 311.4 546.7 308.6 547.8 306.0 548.9 304.1 549.4 304.9 550.5 306.2 551.6 307.1 552.8 309.9 553.9 312.6 555.0 312.4 556.1 311.5 557.2 310.8 558.3 309.3 559.4 311.2 560.5 313.8 561.6 315.5 562.7 317.3 563.8 319.3 564.9 317.9 566.0 318.0 567.1 316.0 568.3 313.9 569.4 312.0 570.5 309.3 571.6 308.6 572.7 308.2 573.8 309.5 574.9 311.5 576.0 310.7 577.1 311.5 578.7 308.2 580.4 313.8 581.5 316.2 582.6 319.3 583.8 322.7 584.9 325.9 586.0 322.9 587.1 320.4 588.2 315.6 589.3 311.5 590.4 309.5 591.5 307.1 592.6 307.4 593.7 308.2 595.0 309.4 596.4 311.5 597.3 313.3 598.3 315.8 599.3 317.1 600.4 319.5 601.5 322.3 602.6 324.8 603.7 326.2 604.8 328.1 605.9 328.5 607.0 327.0 608.1 329.2 609.2 330.4 610.3 331.2 611.4 329.3 612.5 329.9 613.6 325.9 614.8 328.0 615.9 330.4 617.0 332.3 618.1 337.0 619.2 337.8 620.3 341.4 621.4 336.8 622.5 334.8 623.6 331.5 624.7 328.1 625.8 324.5 626.9 320.4 628.0 316.3 629.1 312.6 630.9 308.2 632.5 313.8 633.6 314.8 634.7 317.1 635.8 315.0 636.9 311.5 638.0 313.2 639.1 316.0 640.2 320.2 641.3 322.6 642.4 326.8 643.5 328.1 644.6 330.3 645.8 331.5 646.9 333.8 648.0 334.8 649.5 337.0 650.8 334.8" fill="none" stroke="#5a6864" stroke-width="1.05" stroke-opacity="1.0" stroke-linejoin="round" />
<path d="M416.0 225.1V231.9M416.7 226.8V233.9M417.4 231.2V237.6M418.7 235.0V242.0M419.5 225.5V233.8M420.7 227.4V236.1M421.3 234.4V242.5M422.2 244.7V251.2M423.2 243.3V252.3M424.6 242.1V249.5M425.7 238.9V246.1M426.5 238.4V247.4M427.7 246.3V252.5M428.8 248.2V251.8M429.8 246.7V252.9M430.8 241.0V243.8M431.9 234.7V237.9M432.8 236.7V239.4M433.9 240.5V243.4M435.1 240.0V242.3M436.5 240.3V242.9M437.4 240.3V244.6M438.4 242.9V245.0M439.7 249.2V251.6M440.6 252.6V255.0M441.3 255.3V257.5M442.6 258.1V260.7M443.7 252.4V254.4M445.0 243.3V246.8M446.3 234.8V237.7M447.3 227.3V231.3M448.3 222.3V225.8M449.2 220.4V224.3M450.3 218.0V220.8M451.3 220.1V222.9M452.0 221.4V224.4M452.8 228.2V231.1M453.7 234.9V236.7M454.5 239.5V242.4M455.3 245.6V247.8M456.1 244.3V247.3M457.4 241.9V244.6M458.4 241.0V243.7M459.1 240.8V243.5M460.3 237.6V240.8M461.1 236.4V238.5M461.8 236.2V238.7M463.1 241.1V243.5M464.1 236.0V238.3M465.1 231.9V234.5M465.7 229.7V233.6M466.9 231.8V234.3M467.7 234.7V237.9M468.9 241.7V243.6M470.0 247.5V250.4M471.3 247.3V250.1M472.6 246.1V248.5M473.4 245.9V248.7M474.4 244.0V247.7M475.8 243.4V245.6M477.1 236.5V239.6M478.2 232.2V234.1M478.9 229.3V231.5M479.9 225.4V228.5M480.9 225.7V229.3M482.0 227.3V229.9M483.3 229.9V233.6M484.6 233.4V235.0M485.3 232.6V236.2M486.7 232.1V235.0M487.9 233.1V236.4M489.2 233.8V237.7M490.4 235.2V238.0M491.3 236.6V238.4M492.6 238.5V240.3M493.5 240.1V242.3M494.3 242.1V244.4M495.3 244.1V247.3M496.1 246.1V249.7M497.5 250.5V252.4M498.8 253.5V255.9M499.5 255.3V257.5M500.2 256.9V259.9M501.5 256.2V258.4M502.7 252.5V254.6M503.6 246.1V249.5M504.7 238.3V241.4M505.3 236.0V239.7M506.5 233.2V235.5M507.1 232.6V234.3M508.0 232.0V234.9M509.0 232.7V236.0M509.6 233.7V237.4M510.5 236.9V239.7M511.8 241.0V243.4M512.9 245.4V247.6M514.2 248.7V252.2M515.0 249.8V253.8M515.8 251.5V254.7M516.8 249.3V251.9M517.9 247.6V250.7M518.8 249.2V253.0M519.6 252.5V254.6M520.8 259.2V261.5M521.6 264.0V266.7M522.7 268.5V271.3M523.4 268.1V271.0M524.3 265.2V267.2M525.5 255.6V258.6M526.5 251.8V253.5M527.4 248.4V250.7M528.1 246.8V249.3M529.0 246.4V249.5M530.1 246.2V248.1M531.4 245.7V247.3M532.0 244.0V247.5M533.4 243.5V246.3M534.3 242.7V245.5M535.6 241.5V243.5M536.4 239.9V242.3M537.8 240.5V244.1M539.1 243.1V246.4M539.8 245.3V249.6M540.8 249.5V251.5M541.9 252.6V255.9M542.7 255.9V259.5M543.4 259.0V261.8M544.1 260.4V263.5M545.3 265.4V267.7M545.9 266.6V268.5M547.2 264.9V268.5M548.0 264.7V268.3M548.9 266.0V268.1M549.7 266.3V268.5M550.3 265.6V268.8M551.7 266.8V269.2M553.0 268.0V271.4M554.3 269.8V271.9M555.0 270.8V273.9M556.3 272.3V274.3M557.0 272.4V274.6M557.9 273.0V275.6M558.7 272.2V275.7M559.6 272.9V276.0M560.4 274.4V276.3M561.2 273.0V276.1M562.4 273.2V275.0M563.2 272.6V276.0M564.0 272.5V274.4M564.8 270.9V275.2M565.6 272.8V274.9M566.6 273.5V275.6M567.8 274.6V277.0M569.0 274.1V277.5M570.0 274.2V276.6M571.0 273.7V275.9M571.6 273.2V274.8M572.6 272.0V274.6M573.7 272.2V274.1M574.7 271.8V275.3M575.7 272.2V274.4M576.6 272.1V275.2M577.3 272.9V276.2M577.9 273.9V276.1M579.2 294.7V297.0M580.5 283.3V285.2M581.5 283.5V287.6M582.4 285.6V287.9M583.1 286.5V289.5M584.5 286.5V288.3M585.7 283.9V288.0M586.6 283.1V286.8M587.8 282.0V285.7M589.0 281.3V283.7M589.7 280.6V283.8M590.7 279.6V283.0M591.3 279.4V282.0M592.3 278.1V282.0M593.6 277.9V281.1M594.6 276.9V280.7M595.7 277.6V280.2M596.9 277.3V280.7M598.1 277.9V281.9M599.1 280.5V282.3M600.3 279.3V287.4M601.5 283.7V289.1M602.3 284.3V291.6M603.2 286.2V290.9M604.0 288.9V293.2M605.0 291.4V294.7M605.7 289.1V298.0M606.9 290.2V295.3M608.1 291.9V295.4M609.1 289.5V296.5M610.4 291.2V298.6M611.6 288.9V298.4M612.8 291.0V296.4M613.9 289.0V295.3M614.9 291.1V295.6M615.9 289.8V297.4M616.8 292.3V297.2M617.7 292.6V297.5M618.5 293.5V299.8M619.6 294.5V302.9M620.7 298.5V303.2M621.7 297.1V304.5M622.4 296.7V303.6M623.6 294.3V299.5M624.2 292.9V300.2M624.9 291.1V298.0M626.0 288.7V292.7M626.6 286.4V293.5M627.5 280.8V290.1M628.6 280.5V286.9M629.9 279.6V284.2M631.2 277.2V283.7M632.1 278.2V283.4M633.3 276.0V283.1M634.5 276.0V282.3M635.9 273.9V280.0M637.0 273.9V281.8M638.2 274.5V284.1M639.0 277.1V281.8M640.4 280.4V285.1M641.5 281.4V286.3M642.5 284.1V289.5M643.6 286.3V291.7M644.7 288.4V296.0M646.0 290.3V297.2M647.0 295.7V301.4M647.9 294.0V301.6M649.2 297.9V303.0M650.1 293.2V299.4M650.8 292.5V298.9" stroke="#c4c4c4" stroke-width="0.9" fill="none"/>
<path d="M416.0 230.0 417.1 233.3 418.3 242.1 419.4 228.9 420.5 230.0 422.0 246.6 423.8 248.8 424.9 242.4 426.0 239.9 427.8 248.8 429.3 251.0 430.9 242.1 432.2 235.5 433.8 242.1 434.9 242.2 436.0 241.0 437.1 241.7 438.2 243.3 439.3 247.8 440.4 253.2 441.5 256.9 442.6 259.9 443.7 252.6 444.8 246.6 446.4 235.5 448.1 224.4 449.3 221.9 450.4 220.0 452.1 223.3 453.7 235.5 455.2 246.6 457.0 244.4 458.1 243.3 459.2 242.1 460.3 238.6 461.4 236.6 463.2 243.3 464.8 233.3 466.3 230.0 468.1 237.7 469.2 243.7 470.3 249.9 471.4 249.1 472.5 247.7 473.6 246.3 474.7 246.0 475.8 244.4 476.8 239.6 477.7 236.0 478.7 231.1 480.3 226.6 481.4 228.4 482.5 230.0 483.6 232.2 484.7 234.4 485.8 233.7 486.9 233.3 488.0 234.0 489.1 235.5 490.2 237.0 491.3 237.7 492.4 238.9 493.5 241.0 494.6 243.8 495.8 246.6 496.9 250.1 498.0 253.2 499.1 255.6 500.2 257.6 501.3 257.3 502.4 256.5 503.5 248.0 504.6 239.9 505.7 236.1 506.8 233.3 507.9 233.9 509.0 234.4 510.1 237.1 511.3 239.9 512.4 244.7 513.5 248.8 514.6 250.3 515.7 253.2 516.8 251.0 517.9 248.8 519.0 252.2 520.1 255.4 521.2 263.0 522.3 270.9 523.9 268.7 525.6 255.4 526.8 251.3 527.9 248.3 529.0 247.7 530.1 247.5 531.2 246.6 532.3 245.6 533.4 244.8 534.5 244.4 535.6 242.3 536.7 241.0 537.8 242.3 538.9 244.4 540.0 247.6 541.1 252.1 542.3 257.1 543.4 259.9 544.5 263.6 545.6 267.6 546.7 267.4 547.8 266.5 548.3 266.4 549.4 267.5 550.5 267.6 551.6 268.6 552.8 269.9 553.9 271.4 555.0 272.3 556.1 273.0 557.2 273.9 558.3 273.8 559.4 274.4 560.5 275.2 561.6 274.7 562.7 274.6 563.8 273.3 564.9 273.0 566.0 274.1 567.1 275.1 568.3 275.8 569.4 276.3 570.5 275.2 571.6 273.9 572.7 273.0 573.8 273.5 574.9 273.4 576.0 274.0 577.1 274.1 578.7 275.2 578.9 299.6 580.4 284.1 581.5 285.4 582.6 286.8 583.8 288.5 584.9 287.0 586.0 285.4 587.1 284.7 588.2 283.0 589.3 281.7 590.4 281.4 591.5 280.3 592.6 279.6 593.7 279.5 594.8 278.5 595.9 278.8 597.0 278.5 598.1 280.2 599.3 282.3 600.4 283.9 601.5 285.2 602.6 288.1 603.7 290.3 604.8 292.9 605.9 293.2 607.0 294.3 608.1 294.8 609.2 294.0 610.3 294.2 611.4 294.4 612.5 292.0 613.6 292.9 614.8 294.2 615.9 295.6 617.0 294.7 618.1 295.1 619.2 296.9 620.3 300.7 621.4 301.8 622.5 298.1 623.6 298.3 624.7 295.1 625.8 290.5 626.9 288.2 628.0 284.1 629.1 282.1 630.3 283.1 631.4 280.8 632.5 279.6 633.6 278.6 634.7 278.5 635.8 279.1 636.9 277.4 638.0 280.1 639.1 280.6 640.2 281.9 641.3 283.9 642.4 287.5 643.5 288.5 644.6 291.6 645.8 294.0 646.9 297.4 648.0 300.0 649.1 299.6 650.8 296.3" fill="none" stroke="#4b4b4b" stroke-width="1.05" stroke-opacity="1.0" stroke-linejoin="round" />
<path d="M405.0 151.7V154.8M406.3 157.3V159.0M407.2 160.1V161.8M408.0 164.6V166.2M408.9 170.5V171.6M410.1 176.6V178.6M411.3 176.0V177.4M412.5 173.3V175.6M413.6 178.3V180.8M414.8 172.2V174.2M416.0 165.4V166.8M416.9 160.6V163.1M417.9 158.9V160.7M418.6 158.3V160.6M419.4 159.2V160.4M420.0 160.4V162.3M421.3 164.2V165.9M422.1 167.7V169.8M423.1 177.2V178.6M424.4 171.2V173.9M425.2 166.9V169.5M426.2 163.4V165.6M427.6 166.0V167.5M428.2 166.3V168.9M429.6 168.9V171.8M430.6 167.5V170.4M431.5 165.0V167.5M432.3 169.7V171.2M433.0 172.5V175.6M433.8 176.9V178.5M434.5 179.6V182.1M435.3 183.2V185.7M436.3 187.5V189.8M437.6 184.6V187.4M438.5 181.1V183.8M439.6 178.7V180.2M440.5 176.2V178.7M441.6 174.7V176.7M442.7 174.3V176.3M443.9 173.3V175.6M444.6 172.1V174.3M445.4 171.1V173.2M446.3 172.1V173.8M447.2 173.3V175.3M448.5 174.4V176.3M449.3 173.8V175.7M449.9 173.2V175.5M451.1 175.4V177.6M452.1 178.8V181.1M452.8 180.2V183.2M453.8 184.1V186.7M454.9 187.3V188.9M455.7 188.2V190.6M456.6 188.9V190.8M457.9 189.4V191.5M458.7 190.1V191.4M459.5 191.1V193.4M460.5 192.8V194.4M461.2 193.5V195.6M462.4 197.1V199.3M463.2 198.1V200.9M463.9 197.4V199.5M464.8 196.8V198.9M465.4 195.1V197.3M466.6 194.2V195.5M467.9 192.1V194.0M469.3 191.1V193.3M469.9 191.2V193.0M471.1 190.6V192.8M472.1 188.9V191.7M473.2 189.1V191.1M473.9 190.1V192.1M474.7 189.9V191.7M475.8 189.8V192.4M476.7 190.3V192.4M477.9 190.8V193.2M479.2 193.5V196.7M480.0 196.7V198.9M481.2 201.0V202.5M482.4 203.7V206.2M483.2 203.7V205.1M484.0 202.8V205.2M485.1 202.1V203.8M485.9 201.8V204.0M486.7 201.7V204.2M488.1 204.3V206.6M489.0 206.1V208.8M490.4 210.7V212.9M491.0 212.8V215.1M491.9 213.8V214.8M492.8 211.4V214.3M494.0 210.0V212.0M494.8 209.0V210.6M495.8 207.6V209.7M496.5 208.1V209.6M497.2 207.4V209.4M498.3 207.5V210.0M499.4 208.6V210.2M500.7 209.5V211.1M501.7 210.2V212.6M502.6 210.2V212.2M503.8 209.4V212.0M504.5 208.5V211.4M505.7 207.6V209.7M507.0 205.7V207.7M507.7 205.4V207.3M508.9 203.8V206.6M509.9 205.8V207.7M511.3 207.4V210.1M512.0 208.5V211.1M512.7 209.4V211.4M513.5 211.4V213.2M514.2 210.9V212.9M515.4 212.1V214.6M516.5 213.3V215.9M517.2 216.2V218.4M518.3 220.8V223.3M519.2 226.1V228.1M520.1 232.4V234.8M521.3 236.8V238.9M522.6 234.5V235.8M523.6 229.1V231.9M524.6 224.0V226.5M525.6 217.9V220.1M526.9 215.3V218.1M527.7 214.3V216.8M528.9 215.3V218.4M529.6 216.8V218.8M530.4 218.1V220.8M531.6 221.0V222.4M532.5 221.2V223.7M533.2 220.5V222.3M533.9 219.5V222.3M535.1 218.6V220.5M536.1 219.0V221.6M537.1 220.0V222.1M537.9 219.6V221.9M539.1 221.7V223.1M540.1 222.7V225.1M541.0 223.8V225.9M542.2 225.9V228.1M543.5 227.9V229.8M544.7 228.7V230.5M545.9 229.8V232.3M547.3 230.9V233.7M548.6 234.2V235.6M549.7 235.7V238.3M550.8 237.0V239.3M552.1 238.9V241.2M553.2 240.3V242.0M553.9 241.6V242.9M554.8 242.6V244.2M555.7 242.7V245.6M556.8 244.2V246.4M557.5 245.4V247.3M558.9 247.0V249.5M559.7 248.0V249.8M560.8 248.7V251.0M562.2 249.2V252.1M563.6 249.4V251.3M564.8 247.5V249.6M565.8 246.6V249.2M566.5 246.4V248.2M567.7 246.1V247.2M568.4 245.8V247.3M569.7 244.8V246.3M570.8 244.7V246.7M572.0 245.5V247.8M573.1 245.9V248.6M574.4 247.0V249.1M575.4 248.5V251.3M576.6 251.2V254.1M577.6 253.9V255.6M578.6 259.2V262.1M579.9 266.9V268.6" stroke="#dccfe2" stroke-width="0.9" fill="none"/>
<path d="M405.0 153.3 406.1 157.0 407.2 161.0 408.7 169.9 410.5 179.8 412.3 173.2 413.8 180.9 415.4 168.8 417.1 161.0 418.9 158.8 420.5 162.1 422.0 167.6 423.3 179.8 424.9 168.8 426.4 164.3 428.2 167.6 430.0 171.0 431.5 166.5 433.1 174.3 434.9 182.0 436.6 189.8 437.7 185.2 438.8 180.9 440.0 179.2 441.1 176.5 442.4 175.5 443.7 174.3 445.5 172.1 446.6 173.6 447.7 175.4 449.0 174.8 450.4 174.3 451.5 177.9 452.6 180.9 454.3 187.6 455.5 188.7 456.6 189.8 457.7 190.4 458.8 190.9 459.9 192.1 461.0 194.2 462.1 197.0 463.2 199.8 464.3 198.4 465.4 196.4 466.7 194.9 468.1 193.1 469.4 192.9 470.7 192.0 472.5 189.8 474.3 190.9 475.4 190.5 476.5 190.9 477.6 192.2 478.7 193.1 480.3 198.6 481.4 202.1 482.5 205.3 483.6 204.3 484.7 203.1 485.8 203.1 486.9 203.1 488.0 205.3 489.1 207.5 490.2 210.8 491.3 215.3 492.4 213.9 493.5 211.9 494.6 210.4 495.8 208.6 496.9 208.5 498.0 208.6 499.1 209.3 500.2 209.7 501.3 210.7 502.4 211.9 503.5 210.8 504.6 209.7 505.7 208.4 506.8 206.4 507.9 205.8 509.0 205.3 510.1 207.1 511.3 208.6 512.4 210.4 513.5 211.9 514.4 212.7 515.4 213.6 516.3 214.1 517.5 219.1 518.6 223.0 520.1 234.1 521.7 238.5 523.4 231.9 524.5 225.5 525.6 218.6 526.8 217.0 527.9 215.3 529.0 217.0 530.1 218.6 531.2 221.2 532.3 223.0 533.4 221.6 534.5 219.7 535.6 220.1 536.7 220.4 537.8 220.8 538.9 222.2 540.0 223.6 541.1 225.2 542.3 226.8 543.4 227.8 544.5 229.6 545.6 230.8 546.7 232.3 547.8 233.0 549.4 236.5 550.5 238.1 551.6 239.2 552.8 241.0 553.9 242.0 555.0 243.5 556.1 244.9 557.2 246.2 558.3 247.5 559.4 248.5 560.5 249.2 561.6 250.2 562.7 250.9 563.8 250.2 564.9 248.9 566.0 247.5 567.1 246.7 568.3 246.4 569.4 245.4 570.5 245.3 571.6 246.1 572.7 247.1 573.8 247.8 574.9 248.6 576.0 251.2 577.1 253.8 578.2 256.4 579.3 267.5 580.9 268.6" fill="none" stroke="#ad96bd" stroke-width="1.05" stroke-opacity="1.0" stroke-linejoin="round" />
<path d="M403.9 126.6V129.3M404.6 127.7V130.1M405.8 132.7V134.6M406.5 134.9V137.5M407.7 140.0V142.5M409.1 146.0V147.6M410.5 148.7V151.0M411.3 146.9V149.0M412.5 138.7V140.8M413.4 140.6V142.5M414.3 143.2V146.3M415.1 146.3V148.3M415.8 149.0V151.6M417.1 139.9V142.9M417.9 134.8V137.6M418.6 133.8V135.5M419.3 132.5V134.7M420.6 135.1V136.8M422.0 140.5V143.0M422.8 145.1V147.1M424.0 148.7V150.8M425.2 140.5V142.4M426.5 135.9V137.3M427.5 133.0V135.4M428.3 133.8V135.2M429.3 136.3V138.1M430.5 139.1V141.2M431.7 140.0V142.5M432.7 143.7V145.5M433.5 146.1V147.7M434.4 148.3V151.2M435.5 153.2V154.4M436.5 156.0V158.2M437.6 152.7V155.0M438.5 149.7V151.9M439.7 147.6V149.0M440.7 146.4V148.3M441.9 143.9V146.5M442.7 143.0V144.6M443.4 141.8V143.7M444.7 141.9V144.3M445.3 142.4V145.3M446.0 144.3V145.6M447.0 144.7V146.6M448.0 143.6V145.6M449.1 143.4V145.6M450.1 143.7V146.8M451.3 146.0V147.5M452.1 147.0V149.2M452.9 149.5V151.7M454.0 153.9V155.5M455.2 154.7V157.4M456.0 155.8V157.1M456.7 155.4V158.1M457.7 156.6V158.8M458.9 157.4V158.6M459.6 157.0V159.7M460.4 158.2V159.8M461.5 160.5V162.6M462.4 163.3V165.6M463.4 163.7V166.0M464.6 165.2V167.9M465.4 164.4V166.6M466.8 161.4V163.3M467.5 160.8V163.3M468.4 160.2V162.3M469.2 160.1V161.7M470.5 158.2V160.5M471.8 157.0V159.6M472.6 156.9V158.9M473.8 156.3V157.7M474.5 155.3V158.2M475.5 155.9V158.4M476.2 156.5V158.6M477.5 157.8V159.9M478.2 158.1V160.8M478.9 159.9V161.4M479.9 162.4V165.0M480.9 164.1V166.9M482.2 167.3V168.7M483.3 169.0V170.7M484.0 169.1V171.6M485.4 169.9V171.3M486.3 168.6V170.9M487.3 169.8V171.2M488.3 171.9V173.7M489.5 174.3V176.3M490.6 177.8V180.2M491.2 179.9V181.9M492.3 177.0V179.1M493.4 173.4V176.2M494.6 171.2V173.8M495.3 170.7V173.0M496.6 169.4V171.2M497.3 169.0V171.1M498.0 168.4V170.7M499.4 170.8V173.5M500.6 173.1V174.5M501.9 174.8V176.8M503.1 174.6V177.1M504.1 174.0V176.1M504.8 172.8V175.5M505.5 172.9V174.9M506.3 171.6V173.4M507.0 171.2V172.5M508.3 169.8V172.6M509.0 170.8V172.2M510.3 170.9V174.1M511.5 172.3V174.5M512.2 173.7V175.3M513.6 173.9V176.5M514.6 175.1V177.3M515.8 177.8V179.9M516.7 180.1V181.4M517.5 180.8V183.8M518.1 182.7V184.6M519.2 186.2V189.3M520.5 190.2V193.0M521.1 192.4V194.3M522.2 191.3V193.5M523.5 188.4V190.6M524.2 186.5V188.5M525.4 182.5V185.0M526.6 181.3V183.0M528.0 179.9V182.3M529.4 182.4V185.2M530.7 186.1V188.5M531.8 188.7V190.6M532.4 189.2V192.3M533.3 187.8V189.9M534.3 186.2V189.1M535.0 186.7V188.4M536.2 187.6V189.9M537.4 188.9V191.0M538.6 189.3V191.5M539.3 190.5V193.3M540.4 192.5V194.2M541.2 193.2V195.8M542.3 194.7V196.9M543.6 195.8V197.2M544.8 197.0V198.4M546.1 198.0V199.6M546.9 197.7V200.2M547.9 199.1V200.4M548.6 199.6V201.1M549.6 199.4V202.1M550.9 201.5V203.2M551.6 202.4V204.1M552.5 203.1V205.5M553.2 204.5V206.4M554.5 206.8V208.1M555.2 207.4V209.6M555.8 207.9V210.6M556.6 208.7V211.3M558.0 210.3V212.9M558.9 211.9V213.4M559.6 212.2V214.2M560.3 213.1V214.8M561.4 213.7V216.1M562.0 214.5V216.0M563.4 212.7V215.4M564.3 213.1V215.1M564.9 212.5V214.6M566.0 212.2V214.5M567.2 211.2V213.2M568.4 211.7V213.3M569.0 211.1V213.6M570.1 212.1V214.4M570.7 212.7V213.8M571.8 213.4V214.4M573.1 214.0V215.7M574.4 215.5V217.9M575.7 217.6V218.9M576.4 218.2V220.1M577.7 221.0V223.7M578.5 223.7V226.2M579.7 229.5V231.7M580.6 232.7V234.9M581.7 234.8V236.7M582.9 237.2V239.2M583.9 238.7V240.4M584.7 237.1V239.7M585.5 236.9V238.4M586.5 235.0V237.3M587.7 233.8V235.1M588.8 232.1V234.0M590.1 230.9V232.1M591.2 229.3V231.4M591.9 228.3V230.5M592.9 227.6V228.8M593.7 226.5V228.7M594.4 225.2V228.1M595.4 224.7V226.5M596.7 222.8V225.0M597.5 222.1V223.7M598.6 220.7V222.9M599.2 221.8V223.8M600.3 222.1V224.5M601.3 223.0V225.2M602.2 223.6V224.8M603.0 223.4V225.5M603.7 224.2V226.7M604.9 225.8V228.1M606.0 226.7V229.2M606.8 227.7V229.6M607.8 228.2V229.9M609.0 228.6V231.1M610.3 230.6V231.8M611.4 230.5V233.1M612.2 231.6V233.7M613.3 230.9V233.3M614.5 232.2V233.4M615.5 232.2V234.4M616.4 232.5V234.9M617.7 232.9V235.2M618.4 233.3V235.6M619.4 234.0V235.3M620.7 233.8V236.3M622.0 232.6V235.2M622.9 231.8V233.7M623.9 232.1V233.3M625.3 230.6V232.3M626.5 229.6V232.7M627.5 230.0V232.0M628.6 229.6V231.1M629.7 228.6V231.1M630.5 229.6V230.7M631.2 229.4V231.2M632.5 229.6V232.1M633.7 229.7V232.4M635.0 230.7V233.0M636.2 232.2V233.7M636.9 232.8V234.0M637.7 233.2V235.3M639.1 234.4V236.9M640.1 236.3V238.2M641.2 237.2V239.7M642.5 239.4V240.6M643.4 241.3V243.5M644.3 243.9V245.7M644.9 245.5V248.0M646.3 248.8V250.8M647.2 252.4V253.7M647.8 254.4V256.2M648.6 256.2V258.5M649.4 258.5V260.8M650.2 261.1V262.9" stroke="#d6d4e6" stroke-width="0.9" fill="none"/>
<path d="M403.9 127.9 405.0 130.0 406.1 134.2 407.2 138.9 408.3 143.3 409.4 147.7 410.9 151.0 412.7 138.9 414.5 145.5 416.0 151.0 417.6 136.6 419.4 133.3 421.1 136.6 422.7 145.5 423.8 151.0 425.6 138.9 426.7 136.2 427.8 133.3 428.9 136.0 430.0 138.9 431.5 141.1 432.6 144.4 433.8 147.7 434.7 150.9 435.7 154.8 436.6 157.7 437.7 153.9 438.8 149.9 440.2 147.7 441.5 145.5 442.8 143.6 444.2 142.2 445.3 144.0 446.4 145.5 447.3 145.0 448.3 144.4 449.3 144.4 450.2 145.8 451.2 146.8 452.1 147.7 453.7 154.4 454.8 154.9 455.9 156.6 457.0 156.9 458.1 157.7 459.2 158.6 460.3 158.8 461.4 161.9 462.5 164.3 463.6 165.2 464.8 166.5 465.9 164.0 467.0 162.1 468.1 161.9 469.2 160.7 470.3 159.9 471.4 158.7 472.5 157.7 473.6 156.5 474.7 156.6 475.8 157.4 476.9 158.2 478.0 158.8 479.1 161.2 480.3 164.3 481.4 167.0 482.5 168.8 483.6 170.1 484.7 171.0 485.8 170.4 486.9 169.9 488.0 172.2 489.1 174.3 490.2 177.6 491.3 180.9 492.4 177.3 493.5 174.3 494.6 173.1 495.8 171.0 496.9 170.4 498.0 169.9 499.1 171.6 500.2 173.2 501.3 174.9 502.4 176.5 503.5 175.4 504.6 174.3 505.7 173.3 506.8 172.0 507.9 171.0 509.0 171.9 510.1 172.8 511.3 173.2 512.4 174.3 513.5 175.5 514.6 176.5 515.7 178.5 516.8 180.6 517.9 183.1 519.0 187.0 520.1 190.9 521.7 194.2 523.4 189.8 524.5 186.9 525.6 183.1 526.8 182.0 527.9 180.9 529.0 183.3 530.1 185.4 531.2 188.4 532.3 190.9 533.4 189.1 534.5 187.6 535.6 188.8 536.7 189.2 537.8 189.8 538.9 191.1 540.0 193.2 541.1 194.2 542.3 195.2 543.4 196.5 544.5 197.3 545.6 198.6 546.7 199.3 547.8 199.6 548.9 200.4 550.0 200.9 551.0 202.1 551.9 204.0 552.9 205.0 553.9 206.6 555.0 207.9 556.1 209.5 557.2 210.4 558.3 212.1 559.4 213.6 560.5 214.1 561.6 215.4 562.7 214.7 563.8 214.4 564.9 213.2 566.0 212.8 567.1 212.8 568.3 212.1 569.4 212.8 570.5 213.4 571.6 213.7 572.7 214.3 573.8 216.0 574.9 217.1 576.0 218.4 577.1 219.9 578.2 223.9 579.3 228.6 580.4 233.1 581.5 235.2 582.6 237.5 583.8 239.8 584.9 238.4 586.0 237.5 587.1 235.4 588.2 233.7 589.3 232.7 590.4 231.3 591.5 229.8 592.5 229.0 593.4 227.7 594.3 226.5 595.3 225.2 596.2 224.3 597.2 223.5 598.1 222.1 599.3 222.4 600.4 223.0 601.5 223.5 602.6 224.3 603.7 225.4 604.8 226.2 605.9 227.7 607.0 228.7 608.1 229.3 609.2 231.1 610.3 230.9 611.4 232.0 612.5 231.9 613.6 232.1 614.8 232.1 615.9 233.1 617.0 233.8 618.1 234.0 619.2 233.9 620.3 234.9 621.4 234.0 622.5 233.3 623.6 232.8 624.7 232.0 625.8 230.9 626.9 230.5 628.0 230.5 629.1 229.8 630.3 230.1 631.4 230.3 632.5 230.5 633.6 230.9 634.7 231.8 635.8 232.6 636.9 233.4 638.0 234.3 639.1 235.4 640.2 236.7 641.3 238.2 642.4 239.8 643.5 242.5 644.6 245.7 645.8 248.6 646.7 251.9 647.7 254.5 648.6 257.5 650.2 261.9" fill="none" stroke="#8884ae" stroke-width="1.05" stroke-opacity="1.0" stroke-linejoin="round" />
<path d="M398.3 100.3V103.3M399.6 101.1V103.8M400.7 102.0V104.6M401.5 102.6V104.8M402.6 104.1V106.4M403.8 105.4V108.4M404.9 107.1V109.7M405.8 109.5V111.4M407.2 112.7V114.9M408.3 113.5V115.5M409.0 111.6V113.5M410.1 108.9V111.0M411.4 107.0V108.4M412.6 104.6V106.6M413.7 103.2V105.7M414.7 102.1V104.0M415.9 100.8V102.4M416.8 98.9V102.1M417.8 99.3V101.5M418.9 100.1V101.8M419.6 101.2V103.4M420.9 102.8V105.3M421.6 103.7V106.8M422.4 102.8V105.7M423.4 100.9V103.1M424.4 101.7V104.4M425.4 104.2V107.3M426.0 105.3V108.1M427.3 106.0V108.9M428.4 107.4V108.9M429.6 109.8V111.4M430.8 112.0V114.0M431.8 115.1V117.7M432.7 116.1V119.4M433.3 118.5V121.6M434.5 121.8V123.6M435.3 121.7V123.8M436.4 118.7V120.9M437.7 114.8V117.4M438.4 113.4V116.3M439.1 112.1V114.8M440.3 115.5V118.1M441.3 119.5V122.2M442.1 119.1V121.8M442.9 117.1V119.6M443.5 116.1V118.7M444.9 115.5V117.7M445.6 115.9V118.2M446.6 117.0V119.0M447.9 116.9V119.6M448.5 118.2V119.5M449.2 117.7V120.4M450.0 118.6V122.0M451.1 121.0V123.8M452.4 123.0V126.8M453.1 124.1V127.9M453.8 125.1V128.6M454.4 126.0V129.2M455.6 128.1V130.7M456.2 128.7V131.3M457.2 129.6V131.5M458.3 130.5V133.4M459.5 131.5V133.7M460.2 131.3V134.3M461.5 132.9V135.6M462.3 133.5V135.5M463.2 134.0V137.3M464.0 134.7V137.2M464.7 134.3V136.4M465.6 132.7V135.3M466.9 132.6V134.6M467.7 131.5V134.1M468.7 132.1V134.0M469.8 131.7V134.4M470.8 130.3V133.9M471.7 129.5V132.0M472.6 127.6V129.5M473.2 127.5V129.6M474.0 125.7V128.2M475.1 127.7V129.4M476.5 129.2V131.2M477.1 129.6V132.7M477.9 131.6V133.9M479.2 134.9V136.7M480.0 137.5V139.8M480.7 138.7V141.4M481.4 138.1V141.0M482.7 136.8V140.6M483.7 137.0V139.5M484.4 136.6V140.0M485.4 136.8V139.5M486.3 138.9V142.0M487.2 139.9V142.4M488.4 142.5V145.7M489.1 143.8V146.6M490.0 145.5V148.2M491.0 143.0V146.2M491.6 143.1V145.6M492.9 141.0V143.8M494.2 138.8V141.8M495.2 139.2V140.7M496.1 137.7V140.5M497.3 137.9V140.1M498.2 138.7V141.7M499.1 138.8V142.5M499.7 139.4V142.7M501.1 141.3V143.9M502.2 142.0V144.2M503.3 141.5V145.0M504.4 141.6V144.9M505.5 141.3V143.5M506.8 141.3V144.6M507.9 141.7V144.9M509.2 142.2V145.0M510.5 141.7V145.0M511.5 143.0V145.6M512.4 144.4V146.3M513.2 144.6V147.7M514.5 148.4V151.6M515.6 151.6V153.9M516.4 154.4V156.4M517.2 157.1V158.8M518.6 161.9V164.7M519.9 167.5V169.6M520.9 168.0V171.8M522.0 163.7V167.1M522.7 162.1V163.5M523.9 156.7V159.1M524.9 153.1V156.3M526.2 151.0V153.6M527.4 152.4V155.1M528.1 153.9V156.7M528.9 156.0V159.1M529.7 158.2V161.3M530.4 159.5V162.2M531.6 157.0V160.0M532.6 155.7V158.1M533.4 156.0V158.5M534.8 156.2V157.8M535.6 156.4V159.6M536.3 157.5V160.3M536.9 159.0V161.8M538.3 160.7V163.5M539.7 163.1V164.6M540.5 164.0V166.6M541.9 166.2V168.0M542.9 166.7V169.1M544.0 168.2V171.3M544.9 169.3V171.7M545.8 169.7V172.6M547.1 169.7V172.5M548.2 171.1V173.7M548.9 172.0V174.1M549.7 172.3V175.5M550.8 173.7V175.4M551.7 173.5V175.9M552.4 174.2V177.0M553.1 175.4V177.3M554.3 176.0V178.5M555.3 177.5V180.4M556.1 178.8V181.2M556.8 180.2V183.4M557.8 184.2V186.9M559.2 187.9V190.3M559.9 188.7V191.1M560.6 188.4V190.9M561.8 187.2V189.5M562.8 185.4V188.0M564.0 183.5V186.0M564.9 182.5V184.7M565.6 182.4V184.5M566.9 181.3V184.1M567.6 181.0V183.4M568.6 181.8V184.5M569.6 181.3V183.8M570.9 181.5V183.7M571.5 182.3V184.3M572.1 182.0V184.0M573.2 182.4V185.0M574.0 183.1V186.6M575.2 185.4V187.1M576.1 185.8V188.7M577.4 187.9V190.0M578.1 190.6V193.6M578.7 192.3V194.8M579.3 195.4V197.3M580.2 197.8V201.7M581.5 201.7V204.3M582.4 201.3V203.7M583.5 200.7V202.9M584.4 199.9V201.4M585.4 198.6V200.8M586.7 197.4V199.4M587.6 195.5V199.4M588.8 195.7V197.6M590.2 192.4V200.4M591.3 190.4V200.5M592.1 188.0V197.1M593.4 188.4V197.6M594.4 190.3V196.0M595.7 188.6V195.1M596.7 189.1V198.9M598.1 188.0V196.2M599.1 190.1V197.8M600.4 188.6V197.0M601.6 192.0V199.2M602.2 192.1V200.6M603.4 194.7V200.1M604.4 194.9V203.6M605.4 196.8V202.8M606.1 194.1V202.8M607.4 197.4V204.7M608.6 197.0V205.9M609.8 195.0V205.5M610.6 195.7V203.8M611.8 197.8V204.4M612.6 196.2V206.4M613.9 198.6V206.0M615.1 196.8V206.0M615.9 194.9V206.5M617.0 197.5V204.2M617.9 197.3V203.4M619.2 198.0V204.0M619.9 196.5V202.9M621.2 194.7V203.4M621.9 193.8V203.5M623.3 194.4V203.9M624.3 196.8V201.3M625.5 195.2V201.7M626.9 195.4V202.3M627.9 192.5V200.6M628.7 195.2V200.9M629.7 194.1V204.3M630.6 195.1V203.8M631.5 195.4V205.0M632.2 197.7V205.7M633.0 197.1V204.2M633.8 199.3V207.4M634.8 200.2V206.9M635.5 201.0V208.8M636.2 197.1V206.7M636.9 197.9V208.2M638.0 201.9V210.4M639.3 201.1V208.9M640.7 200.4V209.6M641.6 203.0V212.0M643.0 203.8V211.8M643.7 208.0V212.2M644.4 207.5V215.1M645.4 208.4V217.9M646.0 209.0V216.3M647.2 212.2V220.1M648.3 219.8V226.5M649.0 215.1V223.5" stroke="#cdd0da" stroke-width="0.9" fill="none"/>
<path d="M398.3 101.4 399.4 101.4 400.5 102.5 401.5 103.4 402.5 104.5 403.4 105.8 404.5 108.6 405.6 110.2 406.7 113.4 407.8 115.8 409.0 113.3 410.1 110.2 411.2 108.1 412.3 105.8 413.4 104.6 414.5 103.6 415.8 101.7 417.1 100.3 418.3 100.8 419.4 101.4 420.5 103.7 421.6 105.8 422.7 104.1 423.8 101.4 424.9 104.5 426.0 106.9 427.1 107.8 428.2 108.0 429.3 110.1 430.4 112.4 431.5 115.2 432.6 118.0 433.8 120.7 434.9 123.5 436.0 121.1 437.1 118.0 438.2 115.9 439.3 113.5 440.4 117.8 441.5 121.3 442.8 119.4 444.2 115.8 445.3 116.7 446.4 118.0 447.3 118.4 448.3 118.8 449.3 119.1 450.4 120.9 451.5 123.5 452.6 125.6 453.7 126.8 454.8 128.2 455.9 128.9 457.0 130.1 458.1 131.1 459.2 132.6 460.3 133.5 461.4 134.3 462.5 134.5 463.6 135.7 464.8 134.8 465.9 134.6 467.0 134.1 468.1 132.6 469.2 132.4 470.0 133.6 471.1 131.5 472.1 129.3 473.2 128.7 474.3 127.1 475.4 128.0 476.4 130.0 477.5 132.2 478.6 134.3 479.6 136.8 480.7 140.0 481.8 139.4 482.9 138.6 483.9 138.0 485.0 137.9 486.1 139.7 487.1 141.4 488.1 142.9 489.0 145.1 490.0 146.4 491.1 144.3 492.1 142.9 493.2 141.7 494.3 140.0 495.2 140.2 496.2 139.2 497.1 139.3 498.1 140.2 499.0 140.9 500.0 141.4 501.0 142.4 501.9 142.5 502.9 143.6 503.8 143.4 504.8 143.1 505.7 142.9 506.8 143.2 507.9 143.6 508.8 143.5 509.8 142.9 510.7 143.6 511.8 144.3 512.9 145.7 513.9 148.5 515.0 150.7 516.1 154.3 517.1 157.9 518.2 162.0 519.3 166.4 520.7 170.7 522.1 165.0 523.2 160.4 524.3 156.4 525.4 153.7 526.4 151.4 527.4 153.5 528.3 155.0 530.0 160.7 531.1 158.9 532.1 157.9 533.2 156.9 534.3 156.4 535.4 157.8 536.4 159.3 537.5 160.8 538.6 162.1 539.5 163.6 540.5 165.4 541.4 166.4 542.4 167.1 543.3 168.8 544.3 170.0 545.5 171.2 546.7 171.5 547.9 172.1 549.0 173.4 550.2 174.2 551.4 175.0 552.4 176.2 553.3 177.3 554.3 177.9 555.2 179.7 556.2 180.5 557.1 182.1 558.3 188.0 559.4 189.1 560.5 190.2 561.6 188.5 562.7 186.4 563.8 184.7 564.9 184.0 566.0 184.0 567.1 183.3 568.3 182.5 569.4 183.4 570.5 182.9 571.6 183.4 572.7 183.6 573.8 184.8 574.9 186.0 576.0 187.1 577.1 188.0 578.1 191.7 579.0 195.3 580.0 199.1 581.5 203.5 582.6 202.5 583.8 201.7 584.9 200.2 586.0 198.9 587.1 198.5 588.2 196.9 589.3 195.8 590.2 194.9 591.1 195.6 592.1 194.3 593.0 193.7 593.9 193.2 594.8 192.4 595.7 191.4 596.7 192.3 597.6 192.6 598.5 193.7 599.4 193.8 600.4 194.6 601.3 194.4 602.2 196.4 603.1 195.6 604.0 198.4 605.0 197.8 605.9 199.1 607.0 200.8 608.1 200.5 609.2 200.7 610.3 201.3 611.4 199.5 612.5 200.5 613.6 201.8 614.8 200.2 615.9 198.5 617.0 199.6 618.1 202.2 619.2 201.3 620.3 201.7 621.4 199.0 622.5 198.8 623.6 199.1 624.7 199.5 625.8 198.2 626.9 197.7 628.0 198.0 629.1 198.8 630.3 199.8 631.4 201.0 632.5 201.3 633.6 201.3 634.7 203.2 635.8 203.6 636.9 203.5 638.0 204.1 639.1 205.4 640.2 205.9 641.3 206.8 642.4 207.1 643.5 208.1 644.6 211.3 645.8 212.1 646.9 215.7 648.0 223.2 649.5 218.8" fill="none" stroke="#6e7793" stroke-width="1.05" stroke-opacity="1.0" stroke-linejoin="round" />
<path d="M398.3 76.5V79.0M399.1 77.1V79.1M400.3 77.4V79.7M401.5 78.6V81.4M402.8 79.0V82.1M404.1 81.1V84.7M404.7 82.1V84.9M405.4 84.0V87.2M406.8 87.7V90.5M407.4 88.4V91.3M408.4 89.8V91.1M409.0 88.2V91.0M410.3 85.8V88.8M411.6 84.2V86.9M412.4 81.7V84.7M413.3 81.8V83.8M414.0 81.4V84.4M414.6 81.2V83.4M415.8 78.3V81.0M416.9 77.8V80.2M418.2 77.2V80.2M418.9 78.5V80.1M419.5 79.7V82.4M420.4 80.3V83.9M421.6 82.8V86.3M422.5 85.4V87.7M423.1 85.2V87.2M424.2 81.3V84.7M425.4 81.2V83.9M426.7 84.4V85.5M427.6 86.4V88.5M428.3 88.5V90.0M429.3 91.9V93.1M430.5 92.5V94.3M431.8 94.1V97.2M433.0 96.2V98.7M433.6 97.0V100.1M434.5 99.5V101.7M435.9 101.2V104.0M437.0 97.4V100.3M438.2 92.8V95.3M438.9 92.7V94.3M439.8 91.4V93.5M440.8 95.5V98.0M441.9 99.5V101.1M443.1 97.1V99.5M443.8 95.2V98.2M444.8 94.4V98.1M446.2 96.2V98.1M446.9 95.7V98.2M447.6 97.2V98.5M448.4 97.7V99.8M449.7 98.2V100.8M450.5 99.3V101.9M451.6 100.6V104.0M452.6 102.9V104.5M453.9 104.3V105.6M455.0 105.0V107.4M455.8 105.9V107.7M457.0 106.4V108.6M458.1 107.5V110.4M458.8 109.2V111.8M459.5 109.9V111.1M460.8 109.8V113.5M462.2 111.5V113.8M463.1 111.9V114.9M464.3 111.4V113.7M465.2 110.7V114.1M466.0 111.2V114.3M466.8 111.1V113.6M467.9 110.0V112.3M468.7 109.0V111.5M469.7 108.2V111.6M470.6 108.7V110.8M471.3 107.3V110.2M472.2 107.2V109.7M473.2 106.2V108.2M473.8 106.1V107.7M475.0 105.5V107.8M475.7 106.5V109.0M476.5 106.8V108.8M477.7 108.8V111.4M479.1 113.1V115.3M480.2 115.3V118.6M481.6 118.6V120.9M482.7 118.5V121.1M483.7 117.9V119.5M484.8 116.0V119.7M485.7 115.3V118.5M486.7 117.0V120.4M487.8 120.0V121.6M489.0 121.8V123.5M490.3 123.6V126.3M491.1 122.4V124.9M492.1 120.2V123.5M493.0 120.2V123.2M494.2 120.2V122.1M495.5 118.9V120.9M496.3 118.4V121.5M497.5 118.4V120.2M498.3 118.7V121.4M499.2 120.0V122.1M500.0 119.9V122.2M500.7 119.9V122.4M501.6 120.9V122.9M502.5 120.8V124.3M503.3 121.7V123.8M504.6 121.8V124.5M506.0 121.8V124.3M507.2 121.3V124.5M508.0 121.3V123.6M508.9 120.7V123.3M509.7 121.2V124.1M510.9 122.1V124.8M511.7 123.1V125.3M512.7 124.6V128.3M514.1 127.9V130.9M515.4 131.3V133.8M516.6 136.0V138.5M517.4 138.5V141.7M518.0 141.9V143.4M519.0 145.3V147.9M519.8 147.2V149.8M520.4 148.3V150.5M521.8 144.8V146.8M522.8 141.2V143.5M523.6 137.5V140.3M524.5 134.1V137.3M525.4 131.8V133.8M526.1 130.2V133.8M527.2 134.2V136.4M527.9 136.8V138.5M529.0 138.1V141.5M529.9 138.9V140.8M530.9 135.9V138.7M531.9 134.6V136.8M532.8 134.4V136.8M534.1 133.0V136.7M534.7 134.7V136.4M535.4 134.6V137.6M536.3 135.4V138.0M537.1 137.9V139.3M537.9 138.5V142.0M538.9 140.5V142.7M540.0 141.8V144.2M541.3 142.7V145.0M542.3 143.6V147.1M543.2 145.6V148.3M544.0 145.6V149.5M545.1 147.7V150.0M546.1 148.8V150.0M547.1 148.9V150.9M548.3 149.6V152.0M549.6 150.7V153.2M550.7 152.2V153.6M551.8 152.7V155.0M552.8 153.4V155.7M553.9 155.2V157.9M554.7 155.8V158.7M555.4 157.8V160.5M556.7 159.5V163.1M558.1 163.0V164.9M558.8 164.3V166.1M559.7 165.1V168.0M560.4 164.6V167.3M561.7 163.1V164.3M562.5 160.9V164.2M563.6 159.3V161.6M564.4 158.8V160.9M565.0 159.2V160.6M565.8 158.6V160.2M566.9 157.6V160.9M567.7 159.2V162.2M568.5 159.3V161.8M569.4 159.7V162.6M570.6 160.5V162.7M571.9 160.3V162.5M573.2 161.9V164.3M574.3 163.2V164.8M575.6 164.0V166.2M576.3 164.9V167.2M577.6 169.1V171.9M578.8 171.3V174.4M580.1 175.4V177.7M581.1 178.1V180.0M582.2 177.5V180.1M583.3 176.4V179.4M584.4 174.8V177.6M585.1 173.9V176.5M585.8 173.1V176.7M586.7 172.7V175.0M587.9 171.5V174.6M589.2 170.5V173.0M590.3 166.7V173.8M590.9 168.3V175.3M591.9 164.5V176.2M592.7 166.8V177.4M593.4 167.6V174.5M594.7 166.9V176.4M595.8 168.4V173.0M597.0 166.1V173.8M598.0 165.9V173.9M599.3 166.8V173.8M600.1 169.1V175.2M601.1 167.8V177.8M602.0 170.6V177.5M603.4 171.8V179.2M604.4 168.7V178.1M605.7 172.7V178.3M606.9 173.0V183.2M608.2 171.7V183.9M609.2 174.5V181.9M610.4 175.4V181.8M611.3 172.3V184.2M612.2 172.4V180.7M613.4 173.5V181.3M614.6 174.3V180.9M615.9 172.0V184.1M617.2 173.6V182.8M618.2 174.1V183.2M619.5 173.6V182.7M620.4 173.7V179.6M621.1 171.2V182.3M622.4 174.0V183.1M623.5 171.8V180.2M624.8 173.8V184.1M625.6 171.5V181.0M626.5 175.9V184.3M627.4 171.8V182.5M628.5 176.1V180.8M629.5 174.6V183.5M630.2 173.6V182.2M631.5 176.2V183.2M632.9 175.6V186.5M634.1 177.5V186.8M635.0 178.3V184.9M636.1 180.4V185.2M637.5 177.6V189.3M638.3 177.7V188.6M639.5 181.4V192.1M640.3 180.2V187.9M641.5 181.9V192.8M642.2 181.3V191.3M642.9 184.8V193.4M644.0 187.5V195.2M645.3 187.0V193.6M646.4 189.3V197.8M647.7 189.7V199.2M648.5 192.9V203.0M649.5 195.0V202.6M650.8 187.2V199.9" stroke="#c8ced1" stroke-width="0.9" fill="none"/>
<path d="M398.3 78.1 399.4 78.7 400.5 79.2 401.5 80.2 402.5 80.7 403.4 81.4 404.5 83.5 405.6 85.9 406.7 88.5 407.8 91.4 409.0 89.9 410.1 88.1 411.2 86.2 412.3 83.6 413.4 83.6 414.5 82.5 415.8 80.5 417.1 78.1 418.9 79.2 420.0 81.3 421.1 83.6 422.7 87.0 423.8 84.4 424.9 81.4 426.0 83.8 427.1 85.9 428.2 88.9 429.3 92.5 430.4 93.5 431.5 94.7 432.6 96.2 433.8 99.1 434.9 100.6 436.0 102.5 437.1 98.5 438.2 94.7 439.7 92.5 440.8 96.8 441.9 100.3 443.1 98.2 444.2 95.8 445.3 96.3 446.4 96.9 447.3 97.5 448.3 98.9 449.3 99.1 450.4 100.6 451.5 102.5 452.6 103.6 453.7 104.7 454.8 106.2 455.9 107.3 457.0 108.0 458.1 109.1 459.2 110.6 460.3 111.3 461.4 111.9 462.5 113.5 463.6 113.1 464.8 113.1 465.9 112.4 467.0 112.0 468.1 111.0 469.2 110.2 470.0 110.0 471.1 109.7 472.1 108.2 473.2 107.7 474.3 106.4 475.2 107.0 476.2 107.8 477.1 108.6 478.2 111.4 479.3 115.0 480.4 117.4 481.4 120.0 482.5 119.7 483.6 118.6 484.6 117.8 485.7 117.1 486.8 119.1 487.9 120.7 488.9 123.2 490.0 125.0 491.1 124.0 492.1 122.1 493.2 121.6 494.3 120.7 495.2 120.1 496.2 119.3 497.1 119.3 498.1 120.2 499.0 120.7 500.0 121.4 501.0 121.4 501.9 122.8 502.9 122.9 503.8 123.3 504.8 122.9 505.7 122.9 506.7 122.3 507.6 122.9 508.6 122.4 509.5 122.3 510.5 123.9 511.4 124.3 512.5 126.0 513.6 127.9 514.6 130.7 515.7 133.6 516.8 137.6 517.9 142.1 519.3 147.9 520.7 149.3 522.1 145.0 523.1 141.0 524.0 136.4 525.0 133.6 526.0 131.4 526.9 134.7 527.9 137.9 528.8 139.5 529.7 140.7 531.4 136.4 532.5 135.7 533.6 134.3 534.6 135.5 535.7 136.4 536.8 138.5 537.9 140.0 538.8 141.4 539.8 142.6 540.7 143.6 541.9 145.1 543.1 146.6 544.3 147.9 545.5 149.1 546.7 149.6 547.9 150.7 549.0 151.5 550.2 152.0 551.4 153.6 552.4 154.2 553.3 155.7 554.3 156.4 555.4 158.8 556.4 160.7 557.5 162.8 558.6 165.0 560.0 167.1 561.1 165.3 562.1 162.9 563.2 161.4 564.3 160.0 565.2 160.0 566.2 159.4 567.1 159.3 567.1 160.3 568.3 160.7 569.4 160.6 570.5 160.8 571.6 161.4 572.7 162.6 573.8 162.9 574.9 164.4 576.0 165.9 577.1 168.6 578.2 171.7 579.3 174.7 580.4 177.7 581.5 180.3 582.6 178.2 583.8 177.1 584.9 175.8 586.0 174.6 587.1 173.8 588.2 172.2 589.3 171.4 590.2 171.3 591.1 173.6 592.1 170.7 593.0 170.6 593.9 171.0 594.8 170.3 595.7 171.1 596.7 170.9 597.6 169.8 598.5 171.3 599.4 170.1 600.4 171.4 601.5 173.8 602.6 176.0 603.7 173.7 604.8 175.8 605.9 174.8 607.0 176.4 608.1 177.7 609.2 178.0 610.3 177.5 611.4 178.0 612.5 176.7 613.6 176.9 614.8 177.0 615.9 176.5 617.0 179.8 618.1 178.0 619.2 177.7 620.3 178.0 621.4 177.4 622.5 176.9 623.6 176.9 624.7 178.3 625.8 178.8 626.9 178.0 628.0 178.2 629.1 177.5 630.3 178.3 631.4 180.3 632.5 180.2 633.6 182.6 634.7 183.9 635.8 182.5 636.9 183.9 638.0 184.7 639.1 184.0 640.2 185.8 641.3 187.6 642.4 188.9 643.5 188.7 644.6 190.2 646.0 193.3 647.3 195.8 649.1 198.0 650.8 193.5" fill="none" stroke="#66737a" stroke-width="1.05" stroke-opacity="1.0" stroke-linejoin="round" />
<path d="M398.3 52.3V55.3M399.7 53.6V55.1M400.9 54.3V56.4M402.2 56.0V58.6M403.2 57.3V59.8M404.2 58.8V61.2M405.5 59.6V62.8M406.9 65.2V67.8M408.0 68.1V70.4M408.8 65.7V68.8M409.9 64.5V66.3M410.7 62.6V66.2M411.9 61.9V64.1M413.1 61.7V64.6M413.8 60.7V63.2M415.1 61.2V63.7M416.0 59.0V61.1M417.2 55.8V58.0M418.5 53.8V55.7M419.5 54.5V56.6M420.7 58.5V60.5M421.6 61.0V62.7M422.3 62.1V64.4M423.4 63.6V65.8M424.4 58.8V62.1M425.2 57.0V60.0M426.5 59.1V61.2M427.2 59.9V62.6M428.2 64.2V66.3M429.2 66.5V68.3M430.5 68.1V71.5M431.6 70.6V72.4M432.9 72.3V74.5M434.2 76.0V79.0M434.9 77.3V80.1M435.6 76.1V79.1M436.3 74.2V77.4M436.9 72.8V75.1M437.9 71.3V74.3M438.7 71.7V74.2M439.5 71.1V74.7M440.6 74.5V77.1M441.7 77.3V79.4M442.6 75.5V77.3M443.6 73.7V76.3M444.3 71.8V74.7M444.9 71.7V75.5M446.0 73.2V76.3M447.1 73.8V76.6M447.8 73.2V75.9M449.0 73.3V75.9M449.8 74.0V76.4M450.7 76.2V79.1M452.0 77.8V81.0M452.7 79.0V81.8M453.8 81.0V83.3M454.6 80.7V84.5M455.6 82.5V85.2M456.3 83.1V86.4M457.6 84.6V87.7M459.0 86.6V88.7M460.4 88.6V90.3M461.6 88.1V91.7M462.4 88.8V91.4M463.4 89.8V93.2M464.2 89.8V91.9M465.0 89.3V91.2M465.8 88.3V91.0M466.5 87.8V89.6M467.1 87.0V90.5M468.5 87.6V90.0M469.3 86.4V89.5M470.3 86.4V88.7M471.3 85.8V89.1M472.5 85.4V88.1M473.7 85.3V88.6M474.6 86.4V88.6M475.8 87.2V89.4M476.8 88.8V91.7M477.8 91.3V92.5M478.6 92.9V94.4M479.7 94.7V97.3M480.7 98.0V100.8M482.1 96.8V99.3M483.1 96.2V98.2M484.5 94.5V96.9M485.3 95.3V97.3M486.3 96.7V98.6M487.7 98.2V100.8M489.1 100.0V102.2M490.0 99.9V101.4M490.7 98.4V101.7M491.9 98.4V100.1M493.3 97.1V99.8M494.5 97.3V99.0M495.8 96.0V99.1M496.7 95.3V98.5M498.1 96.1V98.2M498.9 95.9V99.4M499.5 96.6V99.8M500.5 98.3V100.4M501.7 98.9V101.6M502.5 99.8V101.8M503.7 100.7V102.7M504.8 100.3V102.7M506.1 100.5V102.4M507.2 100.0V103.9M508.5 101.5V103.5M509.3 100.4V102.9M510.3 100.3V103.0M511.5 100.7V103.8M512.5 102.6V105.2M513.2 102.6V105.9M514.0 103.9V107.8M515.1 107.1V109.5M516.1 109.9V113.4M516.7 112.7V115.0M517.8 116.1V119.5M519.1 121.2V123.4M520.2 123.8V126.6M520.9 123.5V126.1M522.0 119.9V122.4M523.1 114.9V117.3M524.1 113.4V115.7M525.1 110.5V114.0M526.4 111.8V114.7M527.2 114.3V116.5M528.2 117.9V120.9M529.2 119.8V122.9M530.1 117.5V120.7M531.2 115.2V118.5M532.2 114.5V117.2M533.5 112.8V115.4M534.6 112.4V115.3M535.8 113.9V116.5M536.9 115.6V118.7M538.3 117.7V120.5M539.2 119.0V122.7M540.0 121.0V122.7M541.4 122.8V125.1M542.6 123.1V125.0M543.5 123.2V125.9M544.5 124.2V126.7M545.4 125.1V127.6M546.5 125.1V127.6M547.6 126.6V128.5M548.8 127.0V130.2M549.8 128.9V130.4M551.0 129.6V131.9M551.9 129.9V132.9M552.8 131.7V134.3M553.7 131.9V134.4M554.9 133.8V136.8M556.0 135.8V138.4M557.1 138.3V141.8M558.2 140.7V143.8M558.9 141.2V142.9M559.7 140.2V141.7M560.9 138.3V139.9M561.9 136.7V138.6M562.6 135.1V138.3M563.4 135.1V137.0M564.7 133.8V136.5M565.5 133.6V136.4M566.5 134.0V136.3M567.9 134.0V137.4M568.8 134.0V137.6M570.0 135.6V137.7M571.3 137.0V139.1M572.3 136.5V140.1M573.5 138.7V140.4M574.7 138.3V141.9M576.0 139.4V142.5M577.4 141.2V143.4M578.2 140.8V143.9M579.0 151.5V154.3M580.4 153.5V156.6M581.7 151.1V153.1M582.9 149.5V152.0M583.6 149.8V151.7M584.8 147.4V150.1M585.8 147.2V150.4M586.4 147.5V149.1M587.1 146.4V148.4M588.5 145.7V148.4M589.3 145.2V146.9M590.6 137.0V151.7M591.8 139.1V152.1M593.1 138.6V153.3M594.0 138.5V150.3M595.1 141.4V152.4M596.1 137.9V152.2M597.0 143.0V154.3M598.1 142.6V152.1M599.0 142.4V150.1M600.1 143.5V153.6M600.8 144.8V155.2M601.5 142.7V151.4M602.4 140.8V154.8M603.7 143.7V153.9M604.4 142.5V157.4M605.1 142.1V157.0M606.4 145.7V158.1M607.3 144.5V156.9M608.4 145.4V154.5M609.4 147.6V154.4M610.3 148.0V156.9M611.5 149.1V155.8M612.9 144.5V160.5M614.1 146.8V157.7M614.8 145.6V158.6M615.9 147.4V159.9M617.1 146.3V158.4M618.0 146.1V161.1M618.8 148.3V160.5M619.6 147.4V161.6M620.4 149.6V160.5M621.5 146.7V161.5M622.4 148.4V161.3M623.1 148.4V158.1M624.3 148.6V156.7M625.3 145.0V156.9M626.0 150.4V161.3M626.6 148.4V160.9M627.5 151.5V161.8M628.2 148.7V160.0M629.3 149.6V163.8M630.6 147.9V159.0M632.0 153.4V164.5M632.6 150.4V165.7M633.9 150.6V161.9M635.1 152.9V165.8M635.9 153.6V166.5M636.9 158.1V167.6M637.5 155.1V168.6M638.6 157.3V166.7M639.9 163.1V169.5M641.1 162.0V173.9M642.2 159.3V170.7M642.9 160.8V171.8M644.2 165.4V177.8M645.3 167.7V173.8M646.0 162.9V176.2M646.7 168.7V176.9M648.0 165.8V180.4M649.2 165.9V176.6M650.1 163.1V178.3" stroke="#c6cbc9" stroke-width="0.9" fill="none"/>
<path d="M398.3 53.8 399.4 54.4 400.5 54.9 401.5 55.5 402.5 57.2 403.4 58.2 404.5 59.8 405.6 61.5 406.7 65.6 407.8 69.3 409.0 66.7 410.1 64.8 411.4 63.6 412.7 62.6 413.8 62.5 414.9 62.6 416.0 59.6 417.1 57.1 418.9 53.8 420.5 59.3 422.0 62.6 423.3 64.8 424.9 58.2 426.0 59.3 427.1 61.5 428.2 64.8 429.3 68.1 430.4 69.5 431.5 71.5 433.1 73.7 434.9 79.2 436.0 76.5 437.1 73.7 438.2 73.4 439.3 72.1 440.4 75.8 441.5 79.2 442.8 76.1 444.2 73.0 445.3 74.0 446.4 74.8 447.3 74.1 448.3 74.6 449.3 74.3 450.4 76.8 451.5 79.2 452.6 79.9 453.7 81.4 454.8 82.7 455.9 84.0 457.0 85.4 458.1 86.9 459.2 88.3 460.3 89.2 461.4 89.7 462.5 90.8 463.6 91.4 464.8 90.0 465.9 89.2 466.9 89.1 467.9 88.2 469.0 88.3 470.0 87.9 471.2 87.1 472.4 87.7 473.6 87.1 474.5 87.8 475.5 88.8 476.4 89.3 477.5 91.1 478.6 93.6 479.6 96.1 480.7 99.3 481.8 98.2 482.9 97.1 483.9 96.2 485.0 95.7 486.1 97.0 487.1 98.6 488.2 100.2 489.3 101.4 490.4 100.6 491.4 99.3 492.5 98.7 493.6 98.6 494.6 98.3 495.7 97.9 496.8 97.8 497.9 96.4 498.9 97.3 500.0 98.6 501.1 99.3 502.1 100.7 503.2 101.3 504.3 101.4 505.4 101.9 506.4 101.9 507.5 101.9 508.6 102.1 509.6 101.7 510.7 102.1 511.8 103.4 512.9 103.6 513.9 105.3 515.0 107.9 516.1 111.7 517.1 115.0 518.9 121.4 520.3 126.1 521.7 122.1 522.6 118.2 523.6 115.0 524.6 113.2 525.7 111.4 527.1 115.0 528.9 122.1 529.8 120.0 530.7 117.9 531.8 115.9 532.9 114.3 534.3 113.6 535.4 114.9 536.4 116.4 537.5 118.2 538.6 120.0 539.6 121.3 540.7 122.9 541.9 124.0 543.1 124.6 544.3 125.7 545.5 126.3 546.7 127.0 547.9 127.9 549.0 128.4 550.2 129.7 551.4 130.7 552.4 132.0 553.3 133.0 554.3 134.3 555.4 136.4 556.4 138.6 557.5 140.8 558.6 142.9 559.6 140.7 560.7 139.3 561.7 138.4 562.6 137.1 563.6 135.7 564.8 135.5 566.0 135.1 567.1 135.0 568.3 135.7 569.4 136.8 570.5 137.1 571.6 137.7 572.7 138.5 573.8 139.8 574.9 140.4 576.0 140.9 577.1 141.9 578.2 142.6 579.3 157.0 580.4 154.9 581.5 152.6 582.6 151.1 583.8 150.8 584.9 149.3 586.0 148.1 587.1 148.2 588.2 146.1 589.3 145.9 590.2 143.7 591.1 144.8 592.1 144.4 593.0 142.7 593.9 146.9 594.8 144.8 595.9 145.0 597.0 143.3 598.1 144.1 599.3 146.4 600.4 147.8 601.5 150.0 602.6 148.9 603.7 149.9 604.6 150.5 605.5 151.0 606.4 148.1 607.4 151.9 608.3 151.9 609.2 151.5 610.3 152.1 611.4 151.4 612.5 152.3 613.6 152.6 614.8 150.6 615.9 150.9 617.0 152.6 618.1 152.6 619.2 152.3 620.3 151.0 621.4 154.0 622.5 153.7 623.6 152.7 624.7 153.9 625.8 154.2 626.9 153.7 628.0 152.1 629.1 157.3 630.3 155.1 631.4 157.0 632.5 158.5 633.6 158.3 634.7 159.2 635.8 158.7 636.9 162.6 638.0 163.6 639.1 166.5 640.2 163.6 641.3 166.4 642.4 168.1 643.5 169.6 644.6 171.4 645.8 171.4 646.7 173.8 647.7 174.3 648.6 174.7 650.2 171.4" fill="none" stroke="#5b6a65" stroke-width="1.05" stroke-opacity="1.0" stroke-linejoin="round" />
<path d="M403.9 26.5V27.9M404.9 29.7V31.3M405.9 32.7V34.8M406.8 36.0V38.6M407.6 39.9V41.4M408.2 40.4V43.4M409.6 39.1V41.7M410.6 34.6V37.6M411.5 35.6V38.1M412.2 36.3V38.5M413.3 34.8V37.1M414.6 31.5V33.2M415.5 29.9V31.8M416.2 28.1V31.5M417.1 27.3V29.3M418.4 23.9V27.2M419.2 27.9V30.4M419.9 30.4V33.1M420.5 33.1V35.8M421.4 35.1V38.2M422.3 39.6V42.6M423.5 43.3V45.9M424.5 34.5V37.2M425.2 30.6V33.4M426.0 32.1V34.6M427.0 35.2V37.7M428.2 38.9V41.8M428.8 39.4V42.5M429.7 41.8V43.6M430.4 43.0V45.3M431.2 44.2V47.0M431.9 45.2V47.7M433.1 47.6V50.6M434.0 49.9V53.1M435.4 52.5V55.2M436.3 52.7V55.3M437.5 49.3V51.7M438.5 46.4V49.5M439.9 44.7V47.9M440.8 48.5V50.9M442.0 51.9V54.2M442.8 50.9V52.5M444.1 46.9V48.9M445.3 47.3V50.0M445.9 48.5V49.8M447.2 47.7V49.5M448.5 46.9V49.2M449.4 47.1V48.6M450.6 47.6V50.5M451.7 49.1V51.5M453.1 53.3V55.1M453.7 54.5V56.1M454.5 54.7V57.4M455.5 54.9V58.5M456.3 56.0V58.5M457.1 57.0V59.3M458.1 57.4V59.9M458.9 58.1V59.9M459.9 59.0V61.3M461.2 59.0V62.2M462.2 59.2V61.8M463.6 60.7V63.3M464.6 59.0V62.5M465.2 58.9V60.7M466.1 58.4V60.9M467.3 58.8V60.9M468.0 59.3V60.8M468.7 58.5V61.2M469.8 58.8V61.3M470.8 59.0V61.7M471.9 59.9V62.4M473.3 58.6V62.3M474.3 59.6V61.2M475.3 59.6V61.9M476.6 60.7V63.0M477.4 60.8V64.3M478.5 63.6V65.8M479.9 67.0V70.2M481.1 67.4V70.3M482.2 67.8V69.9M483.5 67.6V69.7M484.1 67.0V68.8M484.9 66.2V68.8M486.1 68.4V70.8M487.3 70.1V71.8M488.7 72.0V74.7M489.5 71.6V75.4M490.3 71.5V74.1M491.5 72.3V73.9M492.1 70.9V73.6M493.2 70.6V73.3M494.4 70.4V73.3M495.2 70.6V73.0M496.4 70.0V72.4M497.1 69.2V70.8M497.8 67.9V71.4M499.1 69.2V72.5M499.7 70.2V71.8M500.7 70.5V73.4M501.8 72.2V74.3M502.4 72.0V75.1M503.7 72.2V75.5M504.8 72.6V75.9M505.9 73.2V76.4M507.0 72.9V76.0M507.8 73.4V76.6M508.4 73.1V76.5M509.4 74.4V76.9M510.7 75.1V77.1M511.6 76.6V78.9M512.8 77.5V80.5M514.1 78.8V82.2M514.8 81.3V82.7M515.6 81.9V85.2M516.9 85.1V87.9M517.7 87.7V90.4M519.1 91.4V94.6M520.3 95.8V97.6M521.0 95.4V98.3M521.7 94.7V96.2M522.6 92.0V93.9M523.3 90.6V92.0M524.3 87.2V90.4M525.4 85.5V86.7M526.4 86.1V89.1M527.5 87.7V90.4M528.2 90.6V93.4M529.3 93.2V96.1M530.0 95.5V98.1M530.7 94.4V95.8M531.6 91.9V93.1M532.8 87.5V89.9M534.1 85.6V87.6M535.0 85.2V87.1M535.8 86.2V88.7M537.0 87.2V89.6M537.8 87.5V90.9M538.7 89.2V91.7M539.8 89.9V93.7M541.2 92.6V95.4M542.2 93.6V95.7M542.9 94.7V97.3M544.2 95.7V98.4M544.9 95.6V98.2M545.9 97.5V100.2M546.7 96.8V100.2M547.4 98.2V100.5M548.7 98.2V101.1M549.6 100.6V102.6M550.5 102.7V106.0M551.1 104.4V106.6M552.0 105.8V109.3M552.7 107.0V109.7M553.3 107.2V109.8M554.7 110.2V112.7M555.4 110.5V112.6M556.1 111.5V114.1M557.3 112.8V115.5M558.4 113.8V117.1M559.1 115.4V117.9M560.0 114.3V116.9M561.3 112.0V115.6M562.6 109.8V113.1M563.6 109.7V112.7M564.9 107.9V111.7M566.2 107.9V109.6M566.9 107.6V109.9M567.8 108.6V111.2M568.7 109.2V110.8M569.8 109.2V112.6M570.6 109.8V113.1M571.3 111.6V113.7M572.5 113.2V115.6M573.7 115.1V117.6M574.8 115.2V117.5M576.0 116.0V119.2M577.0 117.5V120.2M578.3 117.7V120.5M579.3 119.8V123.3M580.6 122.1V124.9M581.2 123.9V125.8M582.6 126.6V129.3M583.3 125.3V127.7M584.6 124.1V126.2M585.5 122.4V125.2M586.5 121.3V124.8M587.5 120.9V123.0M588.3 118.9V122.4M589.3 118.2V120.1M590.7 116.4V121.3M591.9 116.0V120.9M593.0 117.3V122.5M594.1 117.5V123.4M595.0 116.8V122.9M596.0 117.1V121.6M596.7 117.5V121.6M597.9 119.3V123.9M598.7 119.6V124.7M600.0 120.1V124.9M601.4 120.8V125.4M602.6 123.7V127.7M603.8 124.4V130.0M605.2 125.2V130.4M606.2 125.3V129.9M607.6 126.2V132.2M609.0 126.7V133.3M609.6 126.5V133.6M610.4 127.9V131.5M611.8 128.1V131.1M612.4 126.9V131.1M613.3 127.9V132.5M614.3 127.7V131.8M615.4 128.0V131.0M616.1 128.2V133.4M617.1 127.9V131.6M618.4 128.9V132.4M619.1 126.8V132.0M620.2 127.0V133.0M621.2 127.6V132.7M622.5 127.3V132.5M623.3 129.7V132.9M624.4 127.3V132.4M625.2 129.1V131.7M626.3 127.0V132.2M627.5 128.9V133.4M628.6 128.5V134.7M629.7 130.0V135.4M630.5 131.7V135.7M631.9 131.4V137.9M632.5 133.0V138.0M633.7 134.0V138.1M634.4 134.0V139.0M635.1 134.4V139.9M635.9 135.1V141.4M636.9 136.1V140.8M638.0 137.6V143.4M639.3 139.2V144.3M640.2 140.5V145.6M641.4 140.1V145.6M642.2 142.9V146.6M643.6 143.4V148.0M644.6 145.7V149.2M645.5 145.4V151.7M646.3 148.9V153.6M647.5 149.6V154.9M648.5 152.3V157.7M649.5 150.9V155.1" stroke="#c8c8c8" stroke-width="0.9" fill="none"/>
<path d="M403.9 27.2 405.6 32.7 407.2 39.4 408.7 43.8 410.5 36.0 411.6 36.4 412.7 37.1 413.8 34.5 414.9 31.6 416.0 29.6 417.1 28.3 418.5 25.6 419.8 31.6 421.6 37.1 423.3 46.0 424.9 31.6 426.4 34.9 428.2 40.5 429.3 42.3 430.4 43.8 431.8 46.7 433.1 49.3 434.0 50.7 435.0 53.6 436.0 55.3 437.1 52.0 438.2 48.2 439.7 46.0 440.8 49.0 441.9 53.8 443.1 51.3 444.2 48.2 445.3 48.9 446.4 49.3 447.3 48.6 448.3 48.3 449.3 47.8 450.4 49.4 451.5 50.4 452.6 52.7 453.7 55.3 454.8 56.1 455.9 56.1 457.0 57.5 458.1 58.4 459.2 59.6 460.3 60.4 461.4 60.2 462.5 61.3 463.6 61.5 464.8 60.6 465.9 59.3 467.0 60.2 468.1 59.8 469.2 60.4 470.3 60.5 471.4 60.8 472.5 60.6 473.6 60.9 474.7 60.6 475.8 60.4 476.9 62.5 478.0 63.7 479.1 66.4 480.3 69.3 481.4 68.9 482.5 69.3 483.6 68.4 484.7 67.7 485.8 68.7 486.9 70.4 488.0 72.1 489.1 73.7 490.2 73.5 491.3 72.7 492.4 72.6 493.5 72.4 494.6 72.2 495.8 71.5 496.9 70.4 498.0 69.3 499.1 70.2 500.2 71.6 501.3 73.0 502.4 73.4 503.5 73.6 504.6 74.3 505.7 74.6 506.8 74.8 507.9 74.8 509.0 75.2 510.1 75.9 511.3 77.3 512.4 78.5 513.5 79.2 514.6 81.4 515.7 83.5 516.8 85.9 518.6 91.4 519.7 94.8 520.8 98.0 522.3 93.6 523.4 91.0 524.5 88.7 525.6 85.4 526.8 87.4 527.9 90.3 529.0 93.9 530.1 96.9 531.2 93.3 532.3 90.3 533.4 88.0 534.5 85.4 535.6 86.6 536.7 88.0 537.8 89.2 538.9 90.8 540.0 92.0 541.1 93.6 542.3 94.9 543.4 96.1 544.5 96.8 545.6 98.0 546.7 98.9 547.8 99.6 548.9 100.3 549.8 102.7 550.7 105.0 551.6 107.2 552.6 108.1 553.5 109.6 554.4 110.3 555.3 111.7 556.3 112.7 557.2 113.8 558.3 115.2 559.4 117.1 560.5 114.9 561.6 113.3 562.7 111.6 563.8 110.6 564.9 109.5 566.0 108.7 567.1 109.0 568.3 109.5 569.4 110.1 570.5 111.3 571.6 113.0 572.7 114.8 573.8 116.0 574.9 116.8 576.0 117.8 577.1 117.8 578.2 119.4 579.3 120.6 580.4 123.8 581.5 125.5 582.6 127.8 583.8 126.6 584.9 124.9 586.0 123.3 587.1 122.5 588.2 120.8 589.3 119.4 590.2 119.9 591.1 118.9 592.1 118.6 593.0 120.6 593.9 118.9 594.8 119.8 595.9 118.6 597.0 121.4 598.1 121.8 599.3 121.6 600.2 122.6 601.1 123.1 602.0 124.0 602.9 125.6 603.9 128.0 604.8 127.8 605.9 129.9 607.0 128.1 608.1 130.4 609.2 130.0 610.3 130.2 611.4 129.7 612.5 129.6 613.6 129.3 614.8 129.8 615.9 130.3 617.0 129.4 618.1 130.0 619.2 129.6 620.3 130.4 621.4 130.5 622.5 130.9 623.6 131.7 624.7 130.8 625.8 131.2 626.9 130.4 628.0 130.5 629.1 131.6 630.3 132.6 631.4 133.6 632.5 134.9 633.6 136.0 634.7 138.2 635.8 137.8 636.9 140.7 638.0 140.4 639.1 142.4 640.2 142.0 641.3 144.1 642.4 144.8 643.5 146.3 644.6 147.7 645.8 149.3 646.7 150.5 647.7 153.4 648.6 154.3 650.2 152.1" fill="none" stroke="#555555" stroke-width="1.05" stroke-opacity="1.0" stroke-linejoin="round" />
</g>
<path d="M402.44 19.30v1.5M402.44 397.20v-1.5M411.62 19.30v1.5M411.62 397.20v-1.5M420.80 19.30v2.5M420.80 397.20v-2.5M429.98 19.30v1.5M429.98 397.20v-1.5M439.16 19.30v1.5M439.16 397.20v-1.5M448.34 19.30v1.5M448.34 397.20v-1.5M457.52 19.30v1.5M457.52 397.20v-1.5M466.70 19.30v2.5M466.70 397.20v-2.5M475.88 19.30v1.5M475.88 397.20v-1.5M485.06 19.30v1.5M485.06 397.20v-1.5M494.24 19.30v1.5M494.24 397.20v-1.5M503.42 19.30v1.5M503.42 397.20v-1.5M512.60 19.30v2.5M512.60 397.20v-2.5M521.78 19.30v1.5M521.78 397.20v-1.5M530.96 19.30v1.5M530.96 397.20v-1.5M540.14 19.30v1.5M540.14 397.20v-1.5M549.32 19.30v1.5M549.32 397.20v-1.5M558.50 19.30v2.5M558.50 397.20v-2.5M567.68 19.30v1.5M567.68 397.20v-1.5M576.86 19.30v1.5M576.86 397.20v-1.5M586.04 19.30v1.5M586.04 397.20v-1.5M595.22 19.30v1.5M595.22 397.20v-1.5M604.40 19.30v2.5M604.40 397.20v-2.5M613.58 19.30v1.5M613.58 397.20v-1.5M622.76 19.30v1.5M622.76 397.20v-1.5M631.94 19.30v1.5M631.94 397.20v-1.5M641.12 19.30v1.5M641.12 397.20v-1.5M650.30 19.30v2.5M650.30 397.20v-2.5M659.48 19.30v1.5M659.48 397.20v-1.5M668.66 19.30v1.5M668.66 397.20v-1.5M677.84 19.30v1.5M677.84 397.20v-1.5M687.02 19.30v1.5M687.02 397.20v-1.5M397.85 343.21h2.0M696.20 343.21h-2.0M397.85 289.23h2.0M696.20 289.23h-2.0M397.85 235.24h2.0M696.20 235.24h-2.0M397.85 181.26h2.0M696.20 181.26h-2.0M397.85 127.27h2.0M696.20 127.27h-2.0M397.85 73.29h2.0M696.20 73.29h-2.0" stroke="#888" stroke-width="0.7" fill="none"/>
<rect x="397.85" y="19.30" width="298.35" height="377.90" fill="none" stroke="#7a7a7a" stroke-width="1"/>
<g font-family='"Liberation Sans", sans-serif' font-size="13.0" fill="#000" stroke="#000" stroke-width="0.2"><text x="420.80" y="409.70" text-anchor="middle" textLength="32.5" lengthAdjust="spacingAndGlyphs">4000</text><text x="466.70" y="409.70" text-anchor="middle" textLength="32.5" lengthAdjust="spacingAndGlyphs">5000</text><text x="512.60" y="409.70" text-anchor="middle" textLength="32.5" lengthAdjust="spacingAndGlyphs">6000</text><text x="558.50" y="409.70" text-anchor="middle" textLength="32.5" lengthAdjust="spacingAndGlyphs">7000</text><text x="604.40" y="409.70" text-anchor="middle" textLength="32.5" lengthAdjust="spacingAndGlyphs">8000</text><text x="650.30" y="409.70" text-anchor="middle" textLength="32.5" lengthAdjust="spacingAndGlyphs">9000</text><text x="394.45" y="402.50" text-anchor="end" textLength="19.3" lengthAdjust="spacingAndGlyphs">0.0</text><text x="394.45" y="348.51" text-anchor="end" textLength="19.3" lengthAdjust="spacingAndGlyphs">0.5</text><text x="394.45" y="294.53" text-anchor="end" textLength="19.3" lengthAdjust="spacingAndGlyphs">1.0</text><text x="394.45" y="240.54" text-anchor="end" textLength="19.3" lengthAdjust="spacingAndGlyphs">1.5</text><text x="394.45" y="186.56" text-anchor="end" textLength="19.3" lengthAdjust="spacingAndGlyphs">2.0</text><text x="394.45" y="132.57" text-anchor="end" textLength="19.3" lengthAdjust="spacingAndGlyphs">2.5</text><text x="394.45" y="78.59" text-anchor="end" textLength="19.3" lengthAdjust="spacingAndGlyphs">3.0</text><text x="394.45" y="24.60" text-anchor="end" textLength="19.3" lengthAdjust="spacingAndGlyphs">3.5</text></g>
<text x="547.33" y="431.40" text-anchor="middle" font-family='"Liberation Sans", sans-serif' font-size="18.4" stroke="#000" stroke-width="0.25" textLength="187.6" lengthAdjust="spacingAndGlyphs">Rest wavelength [Å]</text>
<text transform="translate(367.45,208.25) rotate(-90)" text-anchor="middle" font-family='"Liberation Sans", sans-serif' font-size="18.2" stroke="#000" stroke-width="0.25" textLength="194" lengthAdjust="spacingAndGlyphs">Log<tspan font-size="12.5" dy="4">10</tspan><tspan dy="-4">(</tspan><tspan font-style="italic">F</tspan><tspan font-size="12.5" dy="4" font-style="italic">λ</tspan><tspan dy="-4">) + constant</tspan></text>
<path d="M72.95 459.40V837.00M122.65 459.40V837.00M172.35 459.40V837.00M222.05 459.40V837.00M271.75 459.40V837.00M321.45 459.40V837.00M48.10 783.06H346.30M48.10 729.11H346.30M48.10 675.17H346.30M48.10 621.23H346.30M48.10 567.29H346.30M48.10 513.34H346.30" stroke="#e4e4e4" stroke-width="0.7" fill="none"/>
<rect x="207.00" y="459.40" width="5.00" height="377.60" fill="#d9d9d9"/><rect x="242.40" y="459.40" width="5.60" height="377.60" fill="#d9d9d9"/>
<g clip-path="url(#c3)">
<path d="M242.3 600V837M243.2 640V800M251 640V690M256 600V700M262 630V695M266 620V690M272 610V700M279 640V690M284 615V700M290 625V690M246 610V660M238 590V640M231 590V625" stroke="#c9cccc" stroke-width="0.8" fill="none"/>
<path d="M48.3 776.3V778.8M49.2 770.9V775.2M49.9 769.3V774.1M50.6 765.7V771.6M51.4 767.2V772.0M52.3 766.4V771.4M52.9 764.5V770.2M53.7 763.7V767.7M55.0 759.9V763.2M56.1 751.4V757.5M57.4 744.6V748.2M58.6 737.2V742.1M59.8 737.4V743.6M60.6 743.4V746.5M61.3 750.2V752.5M62.0 756.2V758.1M62.9 754.7V757.8M64.3 744.6V748.3M65.5 733.5V735.2M66.6 725.7V728.4M67.3 722.1V724.7M68.4 719.3V721.4M69.3 717.2V720.3M70.7 719.9V721.9M71.9 722.5V725.2M73.0 727.6V729.0M74.3 732.2V733.7M75.2 732.7V735.9M76.2 734.4V737.1M77.0 735.3V737.7M78.1 736.9V738.2M78.8 734.8V737.8M80.2 732.0V734.4M81.4 729.8V732.6M82.0 729.7V731.6M82.8 729.3V730.6M84.1 729.9V731.9M84.8 730.1V732.5M85.7 730.6V732.5M86.8 730.7V733.6M87.7 732.5V735.2M88.7 734.7V737.3M89.4 737.4V739.7M90.6 741.1V744.4M91.7 746.0V748.5M92.4 747.1V748.9M93.3 749.1V751.1M94.5 747.4V749.5M95.7 743.5V746.6M96.3 741.4V744.5M97.1 738.7V741.1M98.0 734.9V737.6M98.9 727.7V729.3M99.8 719.1V721.6M101.0 712.9V714.4M102.1 709.0V711.4M103.4 707.4V709.1M104.1 706.9V709.0M105.1 708.6V709.7M106.0 712.7V715.2M107.3 722.6V725.0M108.5 730.9V733.1M109.8 733.3V735.5M110.5 735.0V737.0M111.4 737.3V740.3M112.5 735.4V738.4M113.3 734.4V736.9M114.4 735.1V737.0M115.7 734.1V736.4M116.3 729.0V732.3M117.1 724.3V727.7M117.8 723.9V725.9M119.2 724.6V725.9M120.0 727.4V729.0M121.1 730.7V732.6M121.7 732.7V735.5M122.7 736.8V739.5M124.0 739.7V742.8M124.9 742.5V743.9M126.2 743.9V745.8M127.5 743.5V745.5M128.4 741.3V744.5M129.7 739.2V741.3M130.7 734.9V737.6M131.8 729.0V732.3M133.2 723.0V725.4M134.4 718.5V720.3M135.5 714.7V718.1M136.2 713.6V715.5M137.0 711.1V714.0M137.9 710.3V712.4M139.0 710.5V712.3M139.8 711.0V713.7M140.5 709.8V712.0M141.8 707.3V709.8M142.7 705.7V706.9M144.0 703.8V706.2M144.8 703.0V705.6M145.5 703.4V705.7M146.8 704.2V707.0M147.5 704.6V707.4M148.7 705.6V708.6M149.8 707.6V710.0M150.8 709.6V712.6M151.9 712.2V715.7M152.7 715.7V717.7M153.4 716.6V719.6M154.4 719.9V723.3M155.2 722.6V724.5M156.1 725.9V728.3M157.0 728.2V731.0M158.3 730.9V733.1M159.4 730.5V732.0M160.7 729.1V731.3M161.9 726.2V728.5M163.2 722.9V725.1M164.5 719.8V722.1M165.2 718.7V721.0M166.5 715.2V717.0M167.1 715.1V717.1M167.8 716.5V719.1M168.4 717.7V719.9M169.2 720.0V721.2M169.9 722.0V725.5M171.0 727.3V730.0M171.8 729.7V732.7M173.2 733.7V735.8M174.4 736.9V739.4M175.2 740.9V742.7M176.5 742.2V744.3M177.7 742.7V744.8M179.0 743.4V746.0M179.9 744.5V746.4M180.8 742.8V745.0M181.9 739.0V742.6M182.9 738.0V740.5M183.8 737.7V740.9M184.4 737.6V739.7M185.7 737.3V740.2M186.4 738.0V740.6M187.5 738.1V740.8M188.5 737.0V739.2M189.3 735.8V739.1M190.7 734.1V736.9M191.5 732.4V734.3M192.6 730.3V732.8M194.0 727.9V730.1M195.0 726.1V727.6M196.4 724.2V727.1M197.1 723.3V726.1M198.0 723.1V725.5M199.4 723.6V726.2M200.6 723.9V726.5M201.5 725.1V728.2M202.4 726.8V729.2M203.2 730.7V732.7M204.2 733.8V735.9M205.0 736.4V739.4M205.9 739.8V742.1M206.9 745.6V747.1M208.0 750.5V751.8M208.7 750.5V753.1M209.5 751.2V753.5M210.8 750.7V753.1M211.5 751.8V754.8M212.5 751.8V754.3M213.5 752.7V755.0M214.5 753.2V756.4M215.7 753.9V757.4M216.8 755.0V756.7M217.4 754.3V757.4M218.5 754.7V757.9M219.4 756.5V758.4M220.2 758.4V761.0M221.4 760.3V762.7M222.2 762.5V764.1M223.1 764.0V767.3M223.9 766.5V769.3M224.7 768.3V770.6M225.4 768.6V770.9M226.7 770.2V772.7M227.6 768.3V771.5M228.3 767.5V769.1M229.4 765.8V767.9M230.6 764.9V766.5M231.8 762.8V766.1M232.9 763.1V766.2M233.5 763.8V765.8M234.7 764.2V766.7M235.5 763.6V766.5M236.6 763.6V766.6M237.6 763.8V765.8M238.7 763.7V765.9M239.5 761.8V764.6M240.9 759.0V764.9M242.1 763.1V765.8M243.1 778.9V783.6M244.3 786.1V792.0M245.5 770.9V776.3M246.7 764.9V770.4M247.4 764.4V767.8M248.5 761.0V768.1M249.3 762.9V769.0M250.3 762.0V768.0M251.3 759.0V766.1M252.1 761.0V764.0M253.3 759.9V765.7M254.6 760.3V765.6M255.8 760.5V766.1M256.5 762.7V766.1M257.6 763.0V769.9M258.6 764.0V770.5M259.9 765.9V772.2M260.9 768.0V771.4M262.2 767.8V774.1M263.5 771.2V776.5M264.5 772.8V776.0M265.2 771.8V782.0M265.8 773.4V781.1M266.8 770.0V780.9M267.5 773.1V781.2M268.3 775.9V783.4M269.2 773.0V785.8M270.1 773.3V785.0M271.1 775.3V787.9M271.6 778.2V788.8M272.5 780.7V790.9M273.4 778.9V788.6M274.3 781.2V792.3M275.2 779.9V787.9M275.8 784.0V790.0M276.4 782.6V795.2M276.9 782.7V792.3M277.7 790.2V796.9M278.6 792.7V802.7M279.3 797.6V808.5M279.9 807.3V815.1M280.6 815.0V821.2M281.6 817.7V830.2M282.1 822.8V831.8M282.9 822.0V832.3M283.5 819.7V829.6M284.4 818.3V827.9M284.9 817.2V829.7M285.8 816.4V828.0M286.8 814.7V826.0M287.4 809.6V825.1M288.3 809.2V820.1M289.1 804.9V813.2M289.9 800.1V813.2M290.9 794.6V808.5M291.5 794.2V802.7M292.0 788.7V801.5M292.7 785.8V800.2M293.2 786.4V796.4M293.7 781.5V794.2M294.6 780.7V787.2M295.2 775.5V784.6M295.9 773.0V780.0M296.8 768.1V781.1M297.5 763.3V776.5M298.2 760.9V773.0M299.2 761.3V774.9M299.6 762.8V772.3" stroke="#d8d7e4" stroke-width="0.9" fill="none"/>
<path d="M48.3 777.4 49.4 773.0 50.5 768.6 52.1 770.8 53.4 766.4 55.0 761.9 56.5 750.9 58.3 742.0 59.4 738.7 60.5 744.2 62.3 759.7 63.8 750.9 65.4 735.4 67.1 723.2 68.3 721.2 69.4 718.8 70.5 720.2 71.6 722.1 72.7 727.8 73.8 732.0 74.9 734.1 76.0 735.4 77.1 736.6 78.2 737.6 79.3 735.9 80.4 733.1 81.5 731.1 82.6 729.8 83.8 730.1 84.9 730.9 86.0 731.4 87.1 732.0 88.2 734.6 89.3 737.6 90.4 741.8 91.5 746.4 92.6 748.8 93.7 750.9 94.8 747.4 95.9 744.2 97.0 739.4 98.1 735.4 99.3 725.8 100.4 715.4 101.5 712.1 102.6 708.8 103.7 708.1 104.8 707.7 106.6 717.6 108.1 730.9 109.7 734.3 111.4 738.7 113.2 735.4 114.3 736.0 115.4 736.5 117.0 726.5 118.5 723.2 120.3 728.7 121.4 732.8 122.5 737.6 123.6 740.5 124.7 743.1 125.8 744.2 126.9 745.3 128.0 743.6 129.1 742.0 130.3 737.7 131.4 733.1 132.5 728.0 133.6 722.1 134.7 718.9 135.8 715.4 136.9 712.5 138.0 711.0 139.1 711.9 140.2 712.1 141.3 709.7 142.4 706.6 143.5 705.1 144.6 704.4 145.8 705.0 146.9 705.5 148.0 706.4 149.1 707.7 150.2 709.6 151.3 712.1 152.4 714.8 153.5 718.8 154.6 721.6 155.7 725.4 156.8 729.1 157.9 732.0 159.0 731.5 160.1 730.9 161.3 729.3 162.4 726.5 163.5 723.7 164.6 721.0 165.7 718.2 166.8 715.4 167.9 718.2 169.0 719.9 170.1 725.1 171.2 729.8 172.3 732.4 173.4 735.4 174.5 739.0 175.6 743.1 176.8 743.6 177.9 744.2 179.0 745.0 180.1 745.3 181.2 742.6 182.3 739.8 183.4 739.0 184.5 738.7 185.6 738.2 186.7 740.0 187.8 739.8 188.9 737.9 190.0 735.4 191.1 734.3 192.3 732.3 193.4 730.0 194.5 727.6 195.6 726.3 196.7 725.2 197.8 724.3 198.9 724.8 200.0 724.9 201.1 726.1 202.2 727.8 203.3 732.0 204.4 735.5 205.5 739.3 206.6 744.4 207.7 751.0 208.8 751.9 209.9 752.1 211.0 753.1 212.1 753.2 213.3 754.0 214.4 753.7 215.5 755.4 216.6 756.2 217.7 756.6 218.8 756.5 219.9 758.7 221.0 760.9 222.1 763.2 223.2 765.7 224.3 768.7 225.4 770.3 226.5 772.0 227.6 769.6 228.8 767.6 229.9 766.7 231.0 765.0 232.1 764.3 233.2 764.7 234.3 765.2 235.4 765.4 236.5 764.8 237.6 764.8 238.7 764.3 240.0 762.7 241.4 762.1 242.7 766.5 243.6 797.5 244.5 786.4 245.4 775.4 247.1 766.5 248.5 764.6 249.8 764.3 250.9 764.2 252.0 763.0 253.1 762.1 254.2 760.3 255.3 763.2 256.4 765.4 257.5 767.1 258.6 767.6 259.8 768.2 260.9 770.3 262.0 770.9 263.1 772.3 264.2 774.0 265.3 775.4 266.4 777.2 267.5 777.5 268.6 778.7 269.7 781.7 270.8 779.5 271.9 784.2 273.0 783.9 274.1 784.2 275.3 785.3 276.4 789.1 277.5 790.9 278.6 799.7 279.7 808.6 280.8 819.6 281.9 826.3 283.0 824.1 284.1 819.6 285.2 821.9 286.3 820.2 287.4 817.4 288.5 809.0 289.6 808.6 290.8 802.9 291.9 797.5 293.0 791.3 294.1 786.4 295.8 777.6 297.4 770.9 298.9 766.5 300.7 770.9" fill="none" stroke="#8a88ac" stroke-width="1.05" stroke-opacity="1.0" stroke-linejoin="round" />
<path d="M48.3 673.4V674.9M49.2 677.4V680.3M50.3 673.7V675.5M51.6 675.6V678.6M52.9 670.2V671.7M54.1 661.6V662.9M55.3 657.7V661.0M56.7 659.3V660.7M57.4 658.8V661.3M58.1 659.6V660.7M58.7 658.7V660.4M59.6 661.6V664.1M60.8 666.9V669.7M61.9 670.2V673.1M62.7 670.6V672.4M63.6 666.4V669.4M64.2 664.1V666.9M65.2 659.1V661.2M65.9 655.9V657.9M66.7 652.4V654.2M67.3 650.0V652.4M68.5 644.9V647.9M69.8 647.1V650.2M70.9 652.7V654.7M71.8 656.1V658.3M73.0 657.0V659.5M74.3 657.4V659.5M75.1 658.7V659.8M76.5 658.1V661.3M77.7 657.9V660.7M79.0 656.4V658.2M79.9 655.8V657.5M80.5 654.6V657.9M81.3 654.1V657.0M82.3 653.6V656.4M83.6 656.0V658.4M84.3 656.8V659.1M85.5 658.7V661.7M86.4 661.7V663.3M87.7 665.6V668.3M88.7 670.1V673.0M89.3 671.6V674.1M90.3 675.6V677.0M91.6 675.8V678.9M92.9 672.3V674.4M94.0 668.8V671.9M94.7 667.2V669.8M96.0 661.3V663.1M97.2 657.0V659.0M98.6 652.6V655.0M99.2 650.8V653.6M100.0 650.2V652.4M101.3 647.8V650.0M102.4 648.8V650.7M103.2 650.4V652.0M103.9 651.4V653.3M105.2 654.7V657.5M106.4 659.0V660.6M107.5 663.4V665.8M108.2 666.3V669.1M109.1 668.6V671.3M110.0 669.3V672.6M110.6 671.5V673.3M111.8 675.2V676.9M113.2 675.6V678.6M114.2 674.5V677.0M115.1 672.4V674.8M116.0 671.6V673.9M117.0 669.9V672.6M118.3 672.6V675.9M119.2 675.7V677.3M120.3 677.5V680.6M121.4 680.5V683.2M122.4 682.0V683.8M123.3 682.5V684.5M124.5 681.8V684.2M125.6 680.5V683.7M126.8 678.3V680.3M127.7 675.2V677.7M128.4 672.5V675.7M129.1 669.9V673.0M130.0 666.8V669.0M130.7 664.3V667.5M131.5 663.5V665.3M132.5 659.5V662.2M133.6 658.8V661.2M135.0 659.8V662.1M136.1 660.3V661.9M137.3 661.1V663.7M138.1 662.3V665.0M138.9 663.2V665.0M139.7 663.7V666.1M140.3 664.0V666.0M141.1 664.3V666.7M141.9 664.7V666.6M142.9 665.9V668.5M143.7 667.8V669.2M144.6 668.9V670.7M145.6 670.0V672.0M147.0 670.5V673.1M148.2 671.4V675.0M149.6 673.0V676.4M150.8 674.8V676.5M151.8 675.5V677.9M152.7 677.5V678.7M153.5 677.6V679.8M154.2 679.1V682.0M155.0 680.6V681.8M155.9 681.8V683.8M156.5 682.5V683.9M157.3 683.7V685.1M158.1 684.4V686.6M159.0 684.9V686.2M160.3 684.3V687.8M161.4 681.9V684.0M162.2 680.0V682.2M163.5 678.3V680.6M164.7 676.1V678.9M165.4 676.0V677.9M166.4 675.2V678.6M167.2 677.1V679.4M167.8 676.7V679.1M168.9 678.3V680.7M169.6 679.7V682.5M170.2 680.8V683.5M171.4 682.1V683.7M172.5 683.2V685.5M173.6 685.4V687.9M174.6 689.6V692.4M175.9 696.1V698.2M176.7 701.3V703.2M177.5 708.0V710.2M178.2 710.6V712.7M179.1 712.6V714.5M180.1 708.4V711.7M181.2 703.8V706.5M181.9 700.4V702.6M182.7 697.5V700.2M183.5 696.7V699.1M184.6 693.7V697.0M185.4 693.4V696.6M186.7 692.3V694.7M187.5 692.7V695.1M188.7 692.3V694.4M189.6 692.4V694.5M190.9 692.8V696.1M192.3 693.6V695.7M193.2 693.9V696.4M194.0 694.4V696.6M195.2 695.4V697.7M196.3 695.5V698.0M197.6 696.5V698.5M198.3 697.2V698.8M199.1 697.6V700.0M200.4 699.5V702.3M201.2 699.8V703.3M202.5 701.7V704.5M203.2 702.5V706.0M204.2 705.1V708.0M205.4 708.1V711.3M206.1 710.7V713.1M206.9 712.2V714.7M207.6 714.0V716.6M208.7 716.3V718.3M209.8 716.0V718.4M210.6 716.7V718.6M211.3 717.0V718.6M211.9 716.9V719.1M213.0 716.7V720.3M214.0 718.1V720.4M215.0 718.2V721.3M216.2 718.9V722.4M217.4 720.5V723.9M218.6 722.5V725.8M219.6 724.0V726.4M220.4 724.2V727.0M221.3 725.2V728.2M222.3 726.8V729.0M223.0 727.3V728.9M224.0 728.8V730.3M225.3 729.2V731.5M225.9 729.2V732.1M226.5 730.0V732.9M227.6 730.7V732.8M228.5 730.1V733.5M229.3 730.7V733.7M230.0 731.6V733.6M231.1 731.5V733.8M232.2 731.4V733.5M233.1 732.3V733.9M234.4 732.3V735.3M235.3 733.3V734.8M236.6 733.1V736.3M237.3 733.6V736.9M238.2 734.4V737.5M238.9 734.7V737.6M240.0 734.9V737.9M240.7 732.7V741.2M241.4 733.0V744.6M242.2 730.7V743.5M242.7 742.4V748.8M243.5 761.1V772.6M244.4 760.7V774.1M245.0 757.2V765.1M245.8 744.9V755.0M246.3 746.7V757.2M246.9 743.9V756.9M247.8 741.0V752.0M248.7 745.7V754.2M249.6 745.2V752.0M250.4 743.1V750.8M250.8 741.9V750.8M251.3 744.1V753.4M251.8 744.1V752.2M252.3 742.0V753.6M253.2 741.5V757.0M253.8 743.3V752.7M254.2 743.9V755.3M254.7 746.2V756.7M255.5 747.8V758.0M255.9 746.4V756.9M256.4 748.2V756.7M257.4 748.8V754.9M258.0 744.3V754.8M258.7 746.4V760.3M259.2 746.0V757.4M260.1 745.2V758.9M260.9 750.2V757.3M261.8 746.5V756.3M262.4 745.2V759.1M263.1 744.7V755.2M263.8 743.9V757.7M264.5 746.5V758.3M265.3 747.6V755.3M265.8 746.7V755.9M266.3 748.7V757.6M266.9 748.7V755.9M267.7 746.9V754.6M268.6 744.8V757.0M269.4 746.1V757.9M270.0 748.2V756.3M270.6 750.4V760.0M271.2 751.4V757.3M272.1 749.4V758.6M272.6 751.2V761.4M273.3 753.8V763.6M274.2 752.3V765.7M274.8 754.6V761.7M275.7 752.3V763.1M276.5 757.0V768.2M277.1 756.5V768.3M277.8 758.0V771.1M278.4 763.9V772.2M279.1 767.4V777.4M279.7 768.4V780.3M280.4 771.2V781.3M281.0 771.7V779.1M281.7 773.8V782.0M282.2 775.0V782.1M283.0 775.8V785.7M283.5 774.3V782.1M284.4 770.6V785.8M285.3 768.9V778.6M285.9 766.8V779.2M286.4 768.4V778.0M287.2 763.6V775.0M287.7 761.9V773.8M288.3 757.0V770.0M288.8 759.0V768.8M289.4 754.8V768.1M290.1 753.1V766.6M290.6 749.9V760.3M291.6 748.4V762.2M292.0 746.7V757.5M292.6 744.7V757.3M293.5 743.3V757.0M294.3 739.8V753.7M294.9 742.1V751.6M295.5 736.8V752.6M296.4 736.2V750.3M297.2 733.4V744.4M297.7 735.8V743.9M298.2 734.5V747.4M299.1 733.7V747.8M299.7 735.8V744.6" stroke="#d0d3db" stroke-width="0.9" fill="none"/>
<path d="M48.3 674.1 49.4 680.7 50.5 673.0 52.1 678.5 53.9 663.0 55.6 658.6 57.2 660.8 58.7 659.7 60.5 667.4 62.3 673.0 63.8 667.4 64.9 661.7 66.0 656.4 67.1 651.7 68.3 646.4 69.8 648.6 71.6 657.5 72.7 658.3 73.8 658.6 74.9 658.9 76.0 659.7 77.1 659.0 78.2 658.6 80.0 656.4 81.1 655.7 82.2 655.3 83.3 656.8 84.4 657.5 85.5 660.0 86.6 663.0 87.7 667.4 88.8 671.9 90.0 675.2 91.1 678.5 92.4 675.2 93.7 671.9 95.0 666.0 96.4 660.8 97.3 657.9 98.3 654.7 99.3 651.9 100.4 650.6 101.5 648.6 102.6 650.0 103.7 651.9 104.8 654.4 105.9 657.5 107.0 662.4 108.1 667.4 109.2 669.6 110.3 671.9 111.4 675.5 112.5 678.5 113.6 676.1 114.8 674.1 115.9 672.7 117.0 670.8 118.1 673.7 119.2 676.3 120.3 679.1 121.4 681.8 122.5 682.7 123.6 683.4 124.7 682.4 125.8 681.8 126.9 679.2 128.0 675.2 129.1 671.3 130.3 667.4 131.2 664.9 132.2 662.8 133.1 659.7 134.5 659.9 135.8 660.8 137.1 663.1 138.4 664.1 139.4 664.6 140.4 665.0 141.3 665.2 142.4 666.6 143.5 668.0 144.6 669.6 145.8 670.6 146.9 672.1 148.0 673.0 149.1 674.2 150.2 674.8 151.3 676.3 152.4 677.5 153.5 679.3 154.6 680.7 155.7 682.9 156.8 684.0 157.9 685.1 159.0 685.6 160.1 686.3 161.3 683.6 162.4 680.7 163.5 679.1 164.6 677.8 165.7 676.3 166.8 677.2 167.9 678.5 169.0 680.3 170.1 681.8 171.2 682.7 172.3 684.0 173.9 687.4 175.0 692.3 176.1 697.7 177.4 708.8 179.0 714.3 180.5 708.8 182.3 699.9 183.4 698.4 184.5 695.5 185.6 694.6 186.7 693.9 187.8 693.3 188.9 694.0 190.0 694.6 191.1 694.4 192.3 695.4 193.4 695.3 194.5 695.5 195.6 696.0 196.7 697.0 197.8 697.7 198.9 698.8 200.0 699.9 201.1 701.6 202.2 702.9 203.3 704.3 204.4 707.1 205.5 710.5 206.6 713.1 207.7 715.4 208.8 717.6 209.9 717.9 211.0 717.8 212.1 718.0 213.3 718.4 214.4 719.1 215.5 719.8 216.6 721.5 217.7 723.4 218.8 724.2 219.9 725.4 221.0 726.4 222.1 727.5 223.2 728.6 224.3 730.0 225.4 730.9 226.5 731.3 227.6 731.7 228.8 732.0 229.9 732.4 231.0 732.5 232.1 732.2 233.2 733.1 234.3 733.6 235.4 734.1 236.5 734.6 237.6 735.3 238.5 735.4 239.5 736.2 240.4 736.8 241.4 737.5 242.3 737.7 243.1 755.4 243.8 775.4 244.7 764.3 245.4 753.2 245.9 751.4 246.5 750.5 247.0 746.8 247.6 748.8 248.0 748.2 248.5 748.3 249.0 745.1 249.5 749.4 249.9 747.3 250.4 748.0 250.9 747.7 251.4 749.6 251.8 747.9 252.3 747.4 252.8 750.7 253.3 750.9 253.7 749.7 254.2 749.9 254.7 749.8 255.2 749.1 255.6 750.2 256.1 749.4 256.6 753.3 257.1 752.5 257.5 752.1 258.0 750.8 258.5 752.9 259.0 753.7 259.4 753.7 259.9 752.7 260.4 751.5 260.9 753.2 261.3 752.4 261.8 752.9 262.3 750.6 262.8 752.6 263.2 746.7 263.7 752.9 264.2 751.0 264.7 752.5 265.1 753.6 265.6 749.2 266.1 752.7 266.6 749.1 267.0 749.7 267.5 751.0 268.0 751.0 268.5 750.9 268.9 751.7 269.4 750.6 269.9 751.7 270.3 756.3 270.8 753.2 271.4 751.9 271.9 753.3 272.5 756.3 273.0 756.5 273.6 758.3 274.1 756.3 274.7 757.3 275.3 758.8 275.8 759.3 276.4 762.1 276.9 759.9 277.5 763.2 278.0 766.1 278.6 769.3 279.1 769.8 279.7 775.4 280.2 778.0 280.8 778.1 281.3 772.6 281.9 777.6 282.4 777.5 283.0 780.0 283.6 779.3 284.1 778.7 284.7 780.0 285.2 775.5 285.8 774.8 286.3 773.1 286.9 769.8 287.4 768.8 288.0 767.8 288.5 764.3 289.1 760.1 289.6 763.0 290.2 759.9 290.8 757.6 291.3 754.3 291.9 753.8 292.4 754.1 293.0 751.0 293.5 750.3 294.1 752.3 294.6 749.5 295.2 745.5 295.7 744.8 296.3 743.7 296.8 741.5 297.4 741.0 297.9 742.8 298.5 739.4 299.1 742.7 299.6 739.9 300.7 735.5" fill="none" stroke="#727a94" stroke-width="1.05" stroke-opacity="1.0" stroke-linejoin="round" />
<path d="M48.3 593.1V595.7M49.6 592.6V594.9M50.9 595.3V597.8M52.0 596.7V599.3M53.4 590.0V592.3M54.7 584.9V587.2M55.6 585.2V587.0M56.7 586.5V589.1M57.9 588.6V591.7M59.1 588.8V590.1M60.5 588.9V590.6M61.8 594.3V596.6M62.7 596.8V598.6M63.3 597.1V599.2M64.2 592.9V594.4M64.8 588.9V592.1M65.8 584.7V586.1M66.5 580.9V582.5M67.4 578.4V580.0M68.5 576.2V578.5M69.4 578.6V581.4M70.2 582.3V584.1M71.1 585.3V587.5M72.4 587.9V589.7M73.4 587.0V589.6M74.5 586.6V588.5M75.6 586.2V587.4M76.7 585.5V588.1M77.6 586.2V588.3M78.9 586.3V589.3M79.6 587.3V590.0M80.4 588.2V589.6M81.6 588.0V590.3M82.7 588.4V591.8M84.0 590.1V592.9M85.3 592.0V595.2M86.4 596.2V599.1M87.5 599.6V601.9M88.1 602.2V604.4M89.2 605.5V607.0M90.6 606.6V608.9M91.8 605.5V608.7M92.9 602.9V605.2M93.8 598.7V602.1M94.6 597.0V598.2M95.8 591.1V593.6M96.5 589.8V592.4M97.7 586.1V589.6M98.9 584.2V586.4M99.5 583.6V586.6M100.3 583.7V585.4M101.2 584.5V586.8M102.0 586.2V587.6M102.7 587.3V589.0M103.4 587.7V590.6M104.3 589.9V592.1M105.0 592.0V593.6M105.9 593.9V595.7M107.1 597.4V599.1M108.0 599.3V601.7M108.8 601.6V602.9M110.2 605.6V607.3M111.6 609.5V612.7M112.4 608.8V611.0M113.2 608.5V611.3M114.5 608.8V611.6M115.1 608.5V610.6M115.9 608.1V611.0M117.1 608.3V610.7M118.5 608.5V610.7M119.6 611.5V614.9M120.5 614.9V616.6M121.8 618.0V619.6M122.4 619.5V621.3M123.4 619.5V621.3M124.6 619.2V620.6M125.6 615.5V619.0M126.6 613.4V615.8M128.0 607.6V610.6M128.9 604.8V607.7M130.3 602.7V605.1M131.2 601.6V604.1M132.0 601.1V604.0M132.8 601.7V603.5M134.1 602.4V605.0M135.4 603.6V606.9M136.2 605.3V608.1M137.0 605.8V608.8M138.3 607.2V608.8M139.0 607.7V609.9M139.8 607.6V610.6M140.9 608.3V610.9M142.0 609.7V611.6M142.7 609.5V612.9M143.3 610.1V612.2M144.2 611.2V613.9M145.2 611.6V613.8M146.0 612.2V613.7M146.6 611.6V614.4M147.7 611.6V614.4M148.4 611.2V613.3M149.2 610.4V613.7M149.9 612.5V614.9M150.8 613.7V615.5M151.6 614.5V616.8M152.7 616.7V618.5M153.8 617.7V620.4M155.1 618.9V621.4M155.8 619.7V622.0M156.6 620.5V622.6M157.7 621.3V623.4M158.8 623.6V625.4M160.0 624.4V627.1M161.2 624.5V627.2M161.9 623.3V625.3M162.9 622.1V625.4M164.2 621.2V623.5M165.3 621.0V623.7M166.4 621.4V624.8M167.5 622.6V625.8M168.4 624.0V626.6M169.7 625.9V629.4M171.0 628.4V631.0M171.9 629.8V633.0M172.7 632.9V635.2M174.1 638.2V639.7M174.8 641.5V644.4M175.6 648.0V650.2M176.3 654.9V657.7M177.3 663.0V665.4M178.2 664.0V665.7M179.0 664.1V666.5M179.7 660.1V662.8M180.9 653.7V656.4M182.0 649.7V652.6M183.1 648.5V650.2M184.0 647.3V649.2M185.4 646.5V648.0M186.2 646.0V647.3M187.5 645.7V647.5M188.6 646.9V648.8M189.9 646.7V649.6M191.2 648.5V650.4M192.1 649.0V652.2M193.3 650.0V652.9M194.4 651.7V655.1M195.7 653.4V656.1M196.6 654.9V657.0M197.5 655.9V657.7M198.2 656.0V658.3M198.9 656.2V659.6M199.6 656.9V659.0M200.4 658.5V660.7M201.5 659.4V662.4M202.7 661.3V664.3M203.4 663.7V666.1M204.7 666.0V669.2M205.9 669.2V671.1M206.9 670.5V674.0M207.5 672.6V674.3M208.8 673.4V676.8M209.5 674.1V676.5M210.4 673.7V676.4M211.0 673.2V676.1M212.2 672.4V675.0M213.3 673.3V675.9M214.2 674.2V676.8M215.4 675.8V678.2M216.8 677.7V680.0M218.2 679.6V682.5M218.8 680.6V683.5M220.0 683.6V685.4M221.3 684.8V687.0M222.1 686.6V688.9M223.5 687.8V690.1M224.6 690.3V692.7M225.6 690.6V694.1M227.0 692.9V694.3M228.2 693.7V696.5M229.2 694.5V697.1M230.1 694.9V697.1M231.2 696.0V697.8M232.3 695.7V698.9M233.2 695.8V699.1M234.1 697.0V699.3M235.2 698.6V700.9M236.1 699.3V700.5M236.9 699.6V702.1M237.8 699.6V702.3M238.7 701.0V704.5M240.1 702.1V707.7M240.9 702.2V709.3M241.3 704.1V712.4M242.1 703.6V714.9M243.0 716.8V729.9M244.0 722.8V733.5M244.8 718.1V729.4M245.3 716.1V728.7M246.1 712.5V725.7M246.5 709.8V725.4M247.2 710.4V725.0M247.8 712.7V722.7M248.7 711.8V722.8M249.6 712.6V724.7M250.1 711.7V724.6M250.8 713.9V721.8M251.4 713.7V723.0M252.0 712.9V722.2M252.5 713.9V726.5M253.1 715.7V725.9M253.8 716.3V727.3M254.4 713.5V723.1M255.3 715.3V725.7M256.1 713.1V723.6M256.7 713.6V724.7M257.5 716.4V721.7M258.0 711.9V722.2M258.8 713.8V726.6M259.6 711.8V721.9M260.5 714.8V721.8M261.4 716.0V725.7M261.8 714.9V724.7M262.5 712.5V723.6M263.4 716.1V727.2M264.0 712.9V726.8M264.8 711.6V721.6M265.8 716.5V725.2M266.7 712.8V726.1M267.4 712.0V723.7M268.3 713.7V724.1M269.0 716.2V724.2M269.9 714.1V728.0M270.4 714.9V729.2M271.2 714.0V729.6M272.0 715.5V726.2M272.8 719.7V727.7M273.4 721.0V727.5M274.0 722.2V729.6M274.4 720.3V734.0M275.0 721.7V735.5M275.4 723.4V734.7M275.9 722.5V737.0M276.7 725.8V738.3M277.1 724.2V737.0M277.7 728.4V737.6M278.2 725.6V737.3M279.1 726.3V741.1M279.6 731.4V741.1M280.5 731.1V741.4M281.4 732.8V743.5M282.1 730.3V744.0M282.6 732.4V743.0M283.1 733.3V742.3M284.0 733.5V742.5M284.5 732.4V742.5M285.2 729.2V741.0M285.9 730.8V742.3M286.7 731.4V741.0M287.2 728.6V739.4M288.1 728.4V735.7M288.8 724.0V735.2M289.7 720.5V731.3M290.3 720.4V734.3M291.3 721.2V729.1M292.1 716.7V730.8M292.8 719.4V728.8M293.3 718.8V723.5M294.0 715.6V725.5M294.6 713.4V724.7M295.1 710.7V723.8M296.0 710.3V721.3M296.9 708.0V718.0M297.8 708.9V716.2M298.7 705.7V713.8M299.6 703.5V711.6" stroke="#ced3d5" stroke-width="0.9" fill="none"/>
<path d="M48.3 594.4 49.9 593.3 51.6 599.9 53.4 591.0 55.0 585.5 56.5 587.7 58.3 591.0 60.1 587.7 61.6 595.5 63.2 598.8 64.5 592.1 65.6 586.5 66.7 581.1 68.3 576.6 69.8 581.1 71.6 588.8 72.7 588.7 73.8 587.7 74.9 587.2 76.0 586.6 77.1 587.3 78.2 587.7 79.3 588.5 80.4 588.8 81.5 589.1 82.6 589.9 83.8 590.4 84.9 592.1 86.0 596.1 87.1 599.9 88.2 603.0 89.3 606.5 90.4 606.6 91.5 607.6 92.6 604.2 93.7 601.0 94.8 596.8 95.9 592.1 97.0 589.2 98.1 586.6 99.3 585.8 100.4 584.4 101.5 585.9 102.6 587.7 103.7 589.8 104.8 592.1 105.9 594.3 107.0 597.7 108.1 600.2 109.2 603.2 110.3 607.1 111.4 611.0 112.5 610.4 113.6 609.9 114.8 609.4 115.9 609.9 117.0 609.4 118.1 608.8 119.2 612.9 120.3 615.4 121.4 618.2 122.5 620.5 123.6 620.2 124.7 619.8 125.8 616.1 126.9 613.2 128.0 608.9 129.1 605.4 130.5 603.7 131.8 602.1 132.9 602.4 134.0 603.2 135.1 605.1 136.2 606.5 137.2 607.0 138.2 608.0 139.1 608.8 140.2 609.4 141.3 610.2 142.4 611.0 143.5 611.5 144.6 612.3 145.8 613.2 146.9 612.8 148.0 612.6 149.1 612.1 150.2 613.7 151.3 615.4 152.4 616.5 153.5 618.0 154.6 619.8 155.7 620.8 156.8 621.8 157.9 623.1 159.0 624.7 160.1 626.5 161.3 625.3 162.4 624.3 163.5 623.7 164.6 622.0 165.7 622.6 166.8 623.1 167.9 624.6 169.0 626.5 170.1 628.5 171.2 630.4 172.3 632.0 173.4 636.5 174.5 640.9 176.1 654.1 177.4 665.2 179.0 665.2 180.1 658.9 181.2 653.0 182.3 650.9 183.4 648.6 184.5 648.2 185.6 646.7 186.7 646.4 187.8 647.1 188.9 647.7 190.0 648.6 191.1 650.0 192.3 651.3 193.4 651.9 194.5 653.4 195.6 655.0 196.7 656.4 197.8 657.4 198.9 658.3 200.0 658.5 201.1 661.1 202.2 662.2 203.3 664.1 204.4 667.3 205.5 669.3 206.6 671.8 207.7 673.7 208.8 675.1 209.9 674.6 211.0 674.6 212.1 674.0 213.3 675.0 214.4 676.5 215.5 677.4 216.6 678.8 217.7 680.6 218.8 682.1 219.9 683.7 221.0 685.5 222.1 687.7 223.2 689.2 224.3 690.8 225.4 692.1 226.5 693.4 227.6 694.4 228.8 695.4 229.9 695.6 231.0 696.5 232.1 697.6 233.2 697.6 234.3 698.3 235.4 699.4 236.5 700.3 237.6 701.0 238.7 702.8 239.8 704.8 240.9 706.5 241.4 710.8 242.0 711.3 242.5 713.1 243.0 727.6 243.6 733.1 244.3 727.3 244.9 724.2 245.4 723.3 245.9 720.0 246.5 717.6 247.0 715.3 247.6 719.7 248.1 718.2 248.7 716.5 249.2 717.9 249.6 719.2 250.1 715.3 250.6 718.6 251.1 719.9 251.5 718.0 252.0 718.7 252.5 718.0 253.0 720.7 253.4 717.2 253.9 718.3 254.4 720.6 254.8 722.7 255.3 719.8 255.8 721.6 256.3 720.3 256.7 721.4 257.2 718.4 257.7 716.8 258.2 719.2 258.6 718.7 259.1 717.5 259.6 718.4 260.1 718.1 260.5 718.6 261.0 716.7 261.5 716.9 262.0 719.8 262.4 720.2 262.9 719.3 263.4 719.0 263.9 719.4 264.3 720.1 264.8 717.7 265.3 718.7 265.8 716.0 266.2 719.8 266.7 723.5 267.2 720.5 267.7 722.0 268.1 721.4 268.6 720.9 269.1 719.9 269.6 721.5 270.0 721.0 270.5 720.7 271.0 724.8 271.5 721.4 271.9 722.0 272.5 722.4 273.0 722.1 273.6 725.5 274.1 726.4 274.7 731.4 275.3 729.4 275.8 733.6 276.4 730.9 276.9 732.0 277.5 731.1 278.0 730.2 278.6 733.1 279.1 733.3 279.7 736.2 280.2 732.2 280.8 737.5 281.3 738.0 281.9 739.7 282.4 739.4 283.0 738.6 283.6 734.2 284.1 734.2 284.7 735.0 285.2 735.3 285.8 730.8 286.3 733.6 286.9 731.9 287.4 733.1 288.0 732.4 288.5 730.7 289.1 729.7 289.6 728.6 290.2 727.2 290.8 726.9 291.3 725.6 291.9 724.2 292.4 720.2 293.0 722.9 293.5 721.6 294.1 719.8 294.6 716.4 295.2 716.6 295.7 717.5 296.3 715.4 296.8 712.8 297.4 713.6 297.9 709.6 298.5 710.9 299.1 709.9 299.6 712.5 300.2 710.6 300.7 707.6" fill="none" stroke="#66757a" stroke-width="1.05" stroke-opacity="1.0" stroke-linejoin="round" />
<path d="M48.3 518.0V520.5M49.6 521.1V524.6M50.5 523.4V526.3M51.3 526.6V528.5M52.1 526.8V529.0M53.3 524.9V527.1M53.9 525.1V527.3M55.2 526.9V530.3M56.3 528.5V530.8M57.1 527.5V529.6M58.2 525.1V527.5M59.1 524.2V526.6M60.2 522.8V526.0M61.0 527.4V528.9M62.4 531.8V534.5M63.6 529.3V532.0M64.3 527.1V530.5M65.2 525.2V527.0M66.0 523.4V525.2M66.7 521.7V523.3M67.7 522.3V524.2M69.0 523.5V525.7M70.4 524.2V527.6M71.4 525.1V527.4M72.6 524.0V525.9M73.8 521.1V523.6M74.7 521.5V524.2M75.8 522.6V524.7M76.5 523.7V525.8M77.9 525.7V528.6M79.1 528.9V531.2M80.5 531.8V534.3M81.8 534.3V537.0M83.2 537.8V539.7M84.3 539.8V542.3M85.5 543.1V546.3M86.7 544.4V547.4M87.7 545.3V547.5M88.7 545.7V547.9M89.4 544.6V547.5M90.3 542.1V545.6M91.2 541.1V543.6M92.6 542.2V544.6M93.8 543.8V545.9M94.6 543.1V546.0M95.7 540.7V543.3M96.9 537.1V540.0M97.8 537.4V539.8M99.2 537.9V540.7M100.4 540.0V542.6M101.7 541.4V543.4M102.5 543.3V545.2M103.2 544.3V545.6M104.5 545.6V548.6M105.8 547.8V550.7M106.8 549.2V551.3M107.7 551.6V553.4M109.1 552.8V556.2M109.7 554.0V557.1M110.9 556.5V559.2M111.7 558.1V559.9M112.5 558.9V560.5M113.6 559.8V562.1M114.8 561.9V564.2M115.6 562.0V564.2M116.9 562.4V564.3M118.1 562.3V564.5M119.3 563.8V567.1M120.5 566.6V568.5M121.2 565.5V568.1M122.1 564.2V566.5M123.4 562.5V564.5M124.7 561.3V563.3M125.7 560.4V562.8M126.5 559.6V562.0M127.3 560.2V562.1M128.3 559.6V561.2M129.0 558.7V561.6M130.2 560.0V562.4M131.4 559.8V562.8M132.0 561.1V563.4M132.7 564.0V566.1M133.9 569.4V571.9M134.5 569.8V572.8M135.5 570.6V573.2M136.6 572.0V573.9M137.4 572.2V574.8M138.6 573.2V576.8M139.9 574.6V577.7M140.9 576.7V578.0M141.7 577.0V579.4M142.4 577.5V579.8M143.3 577.4V579.6M144.5 575.2V577.5M145.1 574.3V577.5M146.5 573.7V576.4M147.2 573.5V575.6M148.3 572.5V574.8M149.4 573.5V574.8M150.4 574.0V576.8M151.1 574.2V576.3M152.1 575.0V576.6M153.3 574.7V577.6M154.7 574.9V577.9M156.0 576.1V579.1M156.8 576.3V579.5M157.5 578.0V579.6M158.6 578.1V580.1M159.8 578.6V580.1M160.7 578.8V581.2M161.4 578.4V581.9M162.6 579.7V581.7M163.3 579.9V583.1M164.1 580.2V583.7M165.4 581.5V584.2M166.2 582.1V584.1M167.5 583.2V585.8M168.6 583.9V585.4M169.8 584.3V586.6M171.1 585.0V586.6M172.1 585.7V588.4M172.8 586.8V589.3M174.1 591.6V593.5M175.0 596.0V598.5M176.2 605.4V608.0M176.9 609.1V612.0M177.8 608.8V611.7M179.2 606.6V610.0M180.1 604.1V607.5M181.3 601.3V603.8M181.9 601.5V604.0M182.9 600.4V602.3M184.2 598.4V600.4M185.0 597.6V599.7M185.8 597.4V600.3M187.2 597.9V600.6M188.1 598.0V600.2M189.0 598.7V601.6M190.3 599.4V602.3M191.1 601.3V603.4M192.0 602.6V604.1M193.3 603.3V606.1M194.1 604.1V607.0M195.0 606.0V607.9M195.9 607.0V609.1M196.8 607.9V609.7M197.7 608.6V611.6M198.3 608.5V611.5M198.9 609.9V611.9M199.5 610.1V613.2M200.9 612.4V615.3M202.2 613.8V616.4M203.0 614.6V617.3M204.2 616.8V618.2M204.9 617.8V620.0M205.8 618.5V621.6M206.7 619.9V622.6M207.3 621.7V624.7M208.3 624.6V627.8M209.4 623.9V626.7M210.1 624.1V627.0M210.8 625.5V627.8M211.4 626.1V628.3M212.8 626.7V629.6M214.1 628.4V630.2M215.3 629.8V632.1M216.3 630.5V632.5M217.1 631.3V634.1M217.7 631.6V633.6M218.5 631.8V634.5M219.3 632.9V635.5M220.4 633.5V636.2M221.7 634.3V636.5M222.8 635.3V638.2M223.7 636.2V639.1M224.7 636.4V639.7M225.5 637.4V639.7M226.8 638.8V640.2M228.1 639.6V641.7M229.2 640.0V642.1M230.6 641.3V644.1M231.2 641.3V643.7M232.4 643.3V645.6M233.4 643.6V645.2M234.3 644.1V646.6M235.7 644.9V647.6M237.0 646.7V649.3M238.3 647.9V651.1M239.7 650.4V652.9M240.5 646.5V661.2M241.3 652.3V658.1M242.0 649.4V664.0M242.8 654.9V668.0M243.4 663.6V676.1M244.3 677.4V687.0M244.8 673.8V684.8M245.7 662.8V675.1M246.4 657.9V667.4M246.8 659.5V667.5M247.6 653.6V669.6M248.2 653.9V665.4M249.2 658.5V668.8M250.2 653.0V664.8M251.0 654.2V668.0M251.7 655.5V669.5M252.7 659.4V669.1M253.4 655.2V666.6M254.3 658.4V667.0M254.9 659.6V665.4M255.4 654.5V665.3M256.1 656.9V666.0M256.7 658.7V667.8M257.6 655.0V666.4M258.1 654.7V667.2M258.6 656.3V667.6M259.5 660.4V667.5M260.2 659.4V667.4M261.1 655.4V666.7M262.0 657.7V670.2M263.0 659.4V668.8M263.5 656.5V667.9M264.0 655.7V670.3M264.9 657.0V670.1M265.3 657.6V668.1M266.1 659.2V672.3M266.6 659.9V667.1M267.2 655.5V666.5M267.9 659.9V668.9M268.8 660.2V669.2M269.4 659.8V674.2M270.3 663.6V672.4M270.8 659.8V673.5M271.7 659.4V672.7M272.6 664.0V675.5M273.3 663.2V672.7M274.1 665.9V676.9M274.6 662.2V674.0M275.3 664.3V677.0M275.8 665.3V675.9M276.6 664.5V674.9M277.2 663.7V675.5M277.8 664.1V677.5M278.7 667.2V679.7M279.2 664.0V680.9M279.7 666.8V678.8M280.1 669.4V679.5M280.6 666.6V675.5M281.1 667.6V679.4M282.0 667.8V677.7M282.6 667.0V675.2M283.1 665.6V673.5M283.9 668.4V677.5M284.5 666.6V677.0M285.4 664.5V676.2M286.1 668.5V675.4M287.0 662.7V678.1M287.5 666.4V676.7M288.3 664.7V676.6M289.2 663.0V674.2M289.6 662.1V672.2M290.6 666.7V673.3M291.1 661.1V676.1M291.8 664.4V676.7M292.5 659.5V673.4M293.2 663.9V673.2M294.2 659.7V674.2M294.8 664.1V675.0M295.6 664.3V675.0M296.3 660.0V674.5M297.1 663.1V675.3M297.9 663.5V676.4M298.6 665.1V678.5M299.4 664.8V675.4" stroke="#cacfcd" stroke-width="0.9" fill="none"/>
<path d="M48.3 519.2 49.9 523.6 51.6 528.1 52.8 526.7 53.9 525.9 55.0 528.2 56.1 530.3 57.8 527.0 59.0 525.6 60.1 523.6 61.2 529.2 62.3 533.6 63.4 530.8 64.5 528.1 65.6 525.2 66.7 522.5 68.0 523.6 69.4 524.8 70.5 526.2 71.6 527.0 72.9 524.4 74.2 521.9 76.0 523.6 77.1 525.6 78.2 528.1 79.3 530.3 80.4 532.6 81.5 534.9 82.6 536.9 83.8 540.2 84.9 542.5 86.0 545.8 86.9 546.3 87.9 546.9 88.8 546.9 90.2 544.0 91.5 541.4 92.8 543.3 94.2 545.8 95.1 543.6 96.1 541.2 97.0 538.0 98.0 539.1 99.0 539.2 99.9 540.3 100.9 541.4 102.0 543.0 103.0 544.7 104.2 546.5 105.4 547.8 106.6 550.2 107.5 552.5 108.4 553.1 109.4 555.1 110.3 556.9 111.4 558.4 112.5 560.2 113.6 561.3 114.8 562.2 115.9 563.5 117.0 563.1 118.1 563.5 119.4 565.8 120.7 567.9 121.7 566.5 122.6 565.4 123.6 563.5 124.6 562.5 125.5 561.9 126.5 561.3 127.8 560.7 129.1 560.2 130.5 560.9 131.8 561.3 133.6 570.0 134.7 571.3 135.8 572.3 136.9 573.3 138.0 574.1 139.1 575.4 140.2 576.6 141.3 577.3 142.4 578.9 143.5 577.5 144.6 576.6 145.8 575.5 146.9 574.7 148.0 573.3 149.1 574.3 150.2 574.8 151.3 575.5 152.4 576.3 153.5 576.2 154.6 576.6 155.7 577.7 156.8 577.7 157.9 578.9 159.0 579.0 160.1 579.4 161.3 580.0 162.4 580.7 163.5 581.4 164.6 582.2 165.7 582.8 166.8 583.5 167.9 584.4 169.0 584.8 170.1 585.2 171.2 585.9 172.3 587.6 173.4 588.8 175.2 598.8 176.8 611.0 177.9 610.4 179.0 608.8 180.1 605.7 181.2 603.2 182.3 602.2 183.4 599.6 184.5 598.8 185.6 598.9 186.7 598.4 187.8 598.8 188.9 599.3 190.0 601.1 191.1 602.1 192.3 603.8 193.4 604.5 194.5 606.1 195.6 607.6 196.7 608.4 197.8 609.7 198.9 610.9 200.0 612.3 201.1 613.9 202.2 614.9 203.3 616.5 204.4 618.2 205.5 619.9 206.6 620.9 208.2 626.4 209.9 625.3 211.0 625.9 212.1 628.0 213.3 628.6 214.4 630.1 215.5 630.5 216.6 632.0 217.7 632.8 218.8 633.4 219.9 633.6 221.0 635.3 222.1 636.5 223.2 637.2 224.3 637.8 225.4 638.6 226.5 639.6 227.6 640.3 228.8 640.7 229.9 641.9 231.0 643.2 232.1 643.9 233.2 644.2 234.3 645.3 235.4 646.4 236.5 647.4 237.6 648.6 238.6 650.4 239.5 651.4 240.5 653.0 241.1 656.2 241.7 654.5 242.3 657.4 243.1 666.3 243.7 676.3 244.3 684.0 244.8 678.1 245.4 672.9 245.9 668.2 246.5 664.1 247.0 658.6 247.5 662.8 248.0 660.8 248.5 661.3 249.0 663.5 249.5 659.3 249.9 658.7 250.4 663.2 250.9 661.9 251.4 660.9 251.8 662.6 252.3 664.3 252.8 661.2 253.3 664.0 253.7 662.9 254.2 663.0 254.7 664.3 255.2 662.5 255.6 661.5 256.1 660.2 256.6 665.4 257.1 664.5 257.5 661.9 258.0 660.4 258.5 663.1 259.0 660.0 259.4 663.8 259.9 662.8 260.4 661.5 260.9 664.1 261.3 664.3 261.8 667.0 262.3 663.3 262.8 664.7 263.2 662.3 263.7 664.2 264.2 663.0 264.7 661.4 265.1 665.9 265.6 666.0 266.1 662.8 266.6 665.2 267.0 665.3 267.5 664.1 268.1 664.4 268.6 666.7 269.2 665.2 269.7 668.5 270.3 664.8 270.8 668.0 271.4 666.0 271.9 666.3 272.5 667.5 273.0 667.6 273.6 668.9 274.1 670.7 274.7 670.4 275.3 670.4 275.8 671.1 276.4 668.5 276.9 671.5 277.5 669.6 278.0 671.6 278.6 671.8 279.1 670.3 279.7 672.0 280.2 673.0 280.8 672.9 281.3 672.3 281.9 670.5 282.4 673.0 283.0 670.7 283.6 671.8 284.1 672.3 284.7 668.3 285.2 672.9 285.8 670.3 286.3 674.2 286.9 671.2 287.4 670.7 288.0 666.9 288.5 671.5 289.1 668.9 289.6 669.6 290.2 668.0 290.8 670.1 291.3 668.9 291.9 668.5 292.4 668.7 293.0 664.7 293.5 668.0 294.1 667.4 294.6 666.7 295.2 667.5 295.7 666.8 296.3 668.5 296.8 669.1 297.4 671.1 297.9 673.5 298.5 672.9 299.1 667.5 299.6 668.4 300.2 663.8 300.7 664.1" fill="none" stroke="#5e6e69" stroke-width="1.05" stroke-opacity="1.0" stroke-linejoin="round" />
<path d="M48.3 459.9V482.3M49.5 462.4V483.3M50.9 473.8V496.4M52.1 471.1V492.5M53.0 474.3V496.7M54.2 479.3V501.9M54.8 476.0V496.3M55.4 476.1V492.3M56.2 478.7V492.3M56.9 480.3V498.6M57.6 478.6V489.5M58.9 480.2V487.0M60.3 483.0V488.3M61.2 486.9V492.1M62.6 485.7V492.1M63.9 482.1V489.3M64.9 483.4V487.3M66.2 481.0V487.0M67.0 479.7V484.7M68.2 477.9V483.0M69.4 480.7V486.5M70.1 482.4V488.1M71.2 484.0V488.0M72.5 484.1V489.5M73.3 482.4V487.5M73.9 481.6V487.0M75.0 480.3V485.0M76.1 484.9V491.1M76.8 485.8V491.0M77.9 490.8V495.8M79.0 492.8V497.7M80.3 495.2V500.1M81.5 496.5V502.7M82.8 498.7V503.1M83.6 496.6V502.6M84.4 496.0V502.9M85.3 495.8V501.0M86.6 494.3V500.5M87.8 492.0V497.5M89.2 491.0V497.6M90.3 493.2V501.0M91.1 498.5V502.7M91.9 498.7V503.6M92.9 496.2V502.3M93.7 494.6V499.8M94.7 493.1V500.2M95.3 494.0V499.4M96.3 494.0V499.0M97.5 495.1V499.9M98.6 496.5V500.2M99.9 496.2V500.3M101.2 494.5V500.4M102.4 496.1V502.6M103.3 501.4V506.2M104.0 501.5V505.8M105.2 503.1V507.4M106.3 505.7V509.5M107.1 504.6V511.4M107.9 506.8V511.7M109.2 508.0V513.9M109.8 509.4V514.6M110.7 510.5V513.7M111.6 511.3V515.2M113.0 513.0V516.8M113.9 514.0V519.9M114.7 515.1V519.6M115.4 514.5V519.0M116.4 515.9V521.5M117.4 514.6V519.8M118.0 516.1V520.9M118.6 516.7V522.6M119.4 517.2V522.8M120.3 516.6V522.4M121.3 518.9V523.6M122.1 515.8V524.0M123.0 515.1V523.3M123.8 516.4V522.6M125.1 515.5V519.3M126.4 514.9V518.2M127.1 513.9V518.7M127.8 514.9V521.1M128.8 515.1V519.9M130.2 517.5V523.4M130.9 518.9V524.8M132.2 523.1V527.8M133.4 523.2V530.6M134.8 524.7V529.6M136.2 526.3V531.4M137.0 528.3V531.5M137.8 528.1V533.8M138.5 528.4V533.5M139.2 527.0V531.9M140.1 529.3V532.4M141.3 528.5V534.1M142.1 528.2V532.1M142.8 527.2V533.3M143.6 526.3V532.0M144.5 526.3V531.2M145.4 526.4V532.7M146.4 526.6V534.0M147.5 529.7V535.4M148.5 528.1V533.3M149.6 529.2V536.2M150.8 528.5V535.2M152.2 528.4V533.6M153.5 529.3V533.4M154.4 528.5V535.4M155.4 531.3V536.2M156.7 531.9V538.0M157.9 535.2V538.8M159.1 537.7V540.5M160.4 538.3V542.5M161.2 540.7V545.3M162.2 539.5V544.7M163.2 541.0V546.1M164.5 541.5V548.8M165.7 541.9V550.2M166.6 543.7V547.5M167.5 542.3V550.1M168.6 543.3V549.7M169.2 545.6V548.3M170.4 544.8V550.5M171.7 549.5V553.7M172.7 548.9V556.1M173.3 550.1V558.4M174.7 552.8V558.5M175.4 556.7V561.3M176.1 558.5V563.2M177.5 558.0V562.6M178.8 555.8V562.2M179.4 555.2V559.9M180.5 553.6V561.3M181.7 555.4V560.2M182.6 554.9V559.6M183.6 552.3V559.5M184.2 552.9V557.6M185.1 555.2V558.6M186.1 554.5V561.8M186.8 555.3V559.7M188.0 555.7V562.1M189.1 556.6V562.9M190.1 556.4V564.5M191.2 556.8V564.4M192.1 559.2V566.5M193.3 560.8V568.0M194.6 562.2V570.3M195.8 562.7V568.0M197.2 559.9V570.7M198.3 564.1V573.6M199.4 562.4V574.4M200.2 561.2V570.4M201.6 564.7V571.0M202.8 565.1V574.8M203.8 567.4V577.5M204.8 563.6V572.9M206.1 567.0V577.8M206.8 568.4V579.1M207.6 572.8V578.8M208.6 568.8V583.2M209.7 572.0V579.2M210.9 573.0V582.7M211.6 573.5V581.5M212.3 574.3V582.8M213.3 575.0V582.1M213.9 575.4V586.8M214.8 573.4V584.8M215.6 578.1V583.8M216.3 577.1V589.2M217.7 580.4V589.9M218.7 577.4V589.1M219.9 581.9V590.8M220.8 580.7V590.4M222.0 584.0V596.4M223.1 587.8V597.3M224.3 589.3V594.6M225.6 588.4V597.6M226.2 586.3V598.4M227.3 588.2V597.3M228.6 592.3V599.1M230.0 589.9V597.9M231.0 588.4V597.3M232.0 585.1V594.4M232.8 590.0V600.4M233.5 591.8V602.3M234.7 590.9V604.2M235.6 595.9V602.7M236.7 597.7V604.7M237.8 595.7V603.5M239.2 598.6V606.2M239.8 596.6V609.7M241.0 594.1V623.6M241.5 593.4V622.4M242.3 591.0V624.5M243.0 601.2V630.1M243.6 608.1V638.1M244.3 612.1V650.8M244.8 611.6V643.8M245.5 611.2V636.1M246.3 597.4V627.7M247.0 601.2V623.7M247.8 600.8V627.9M248.6 587.3V612.1M249.1 595.7V612.3M249.6 592.3V616.5M250.2 583.5V617.8M250.8 590.3V609.3M251.6 578.6V610.7M252.2 592.7V610.8M252.6 587.1V619.5M253.3 596.3V626.1M253.9 597.6V614.4M254.4 600.6V616.7M255.3 594.9V613.6M255.8 593.6V615.9M256.6 591.2V623.7M257.2 605.3V630.2M257.7 596.3V637.3M258.1 605.9V627.4M258.6 615.5V633.4M259.3 616.3V641.3M260.0 608.1V640.7M260.8 601.7V631.4M261.5 597.7V624.5M262.2 601.9V623.6M262.6 600.3V622.6M263.2 606.5V622.2M263.7 606.6V628.3M264.4 610.6V625.5M265.1 600.1V629.7M265.9 597.8V625.1M266.3 603.8V631.2M267.0 604.3V621.6M267.4 597.2V627.6M268.2 606.9V637.6M269.0 604.0V643.5M269.5 603.8V637.3M270.1 608.8V639.5M270.6 611.3V639.6M271.1 620.1V648.8M271.7 623.8V651.5M272.4 624.2V640.0M272.9 623.4V637.1M273.3 608.2V641.5M274.0 621.7V645.1M274.6 614.0V651.3M275.1 622.9V652.3M275.5 620.8V648.7M276.3 627.4V657.9M276.7 626.9V651.6M277.5 611.0V638.1M277.9 623.1V640.3M278.6 618.7V637.2M279.1 607.5V636.1M279.9 613.3V638.5M280.6 607.2V625.3M281.2 597.8V621.3M281.7 604.4V622.7M282.1 596.8V629.0M282.6 592.9V609.3M283.1 592.0V606.7M283.7 593.8V621.6M284.5 599.8V620.8M284.8 608.5V627.4M285.3 606.1V636.7M285.8 608.2V632.4M286.3 613.2V644.5M287.1 610.7V630.4M287.7 604.7V638.7M288.1 608.1V630.7M288.5 601.9V625.9M289.3 596.2V636.1M289.8 598.9V629.9M290.5 593.1V623.0M291.1 604.5V626.5M291.6 599.0V618.6M292.0 592.3V622.4M292.7 587.6V618.1M293.5 597.3V631.4M293.9 601.1V625.6M294.4 595.5V631.7M295.2 610.3V626.8M296.0 607.4V641.2M296.5 608.7V647.9M297.1 617.6V649.2M297.6 628.6V655.7M298.0 622.4V641.5" stroke="#cccccc" stroke-width="0.9" fill="none"/>
<path d="M48.3 470.0 48.9 474.4 49.5 476.0 50.0 480.5 50.5 483.8 51.1 485.3 51.6 483.6 52.2 486.2 52.8 486.0 53.3 484.0 53.9 487.5 54.4 489.7 55.0 488.2 55.5 487.9 56.1 486.5 56.6 486.2 57.2 484.9 58.3 483.6 59.4 482.7 60.5 487.2 61.6 490.4 62.7 488.2 63.8 486.0 64.9 485.0 66.0 484.5 67.1 482.7 68.9 481.1 70.5 484.9 71.6 485.5 72.7 486.0 73.8 484.8 74.9 482.7 76.4 488.2 77.6 491.8 78.7 496.0 79.6 497.8 80.6 498.7 81.5 500.4 82.5 499.6 83.5 500.5 84.4 500.4 85.7 497.4 87.1 497.1 88.2 496.0 89.3 493.8 90.4 498.1 91.5 501.5 92.6 498.8 93.7 497.1 95.0 497.5 96.4 497.1 97.3 497.3 98.3 498.0 99.3 498.2 100.4 497.8 101.5 497.1 102.6 500.6 103.7 503.7 104.8 505.7 105.9 506.6 107.0 508.1 108.1 508.7 109.2 510.9 110.3 511.5 111.4 511.7 112.5 513.7 113.6 515.1 114.8 517.0 115.9 516.8 117.0 518.1 118.1 518.1 119.2 517.9 120.3 518.9 121.4 520.3 122.4 519.4 123.3 519.3 124.3 518.1 125.6 516.3 126.9 515.9 128.0 517.9 129.1 518.1 130.3 520.6 131.4 523.6 132.5 524.9 133.6 527.5 134.7 528.1 135.8 529.9 136.9 529.4 138.0 530.3 139.1 530.8 140.2 530.8 141.3 531.4 142.4 530.3 143.5 529.2 144.6 528.1 146.0 531.8 147.3 531.4 148.3 531.6 149.2 532.0 150.2 532.5 151.3 531.4 152.4 530.7 153.5 531.4 154.6 533.6 155.7 533.6 157.0 535.9 158.4 538.0 159.3 539.7 160.3 541.1 161.3 542.5 162.4 543.4 163.5 543.0 164.6 545.8 165.7 545.1 166.8 547.1 167.9 545.8 169.0 546.8 170.1 548.0 171.2 551.0 172.3 552.4 173.4 554.2 174.5 556.9 175.6 558.1 176.8 561.3 177.9 560.2 179.0 559.1 180.1 558.0 181.2 556.9 182.1 557.3 183.1 556.1 184.1 555.8 185.4 556.5 186.7 558.0 187.8 558.4 188.9 559.4 190.0 560.2 191.1 559.3 192.3 561.6 193.4 563.5 194.5 564.7 195.6 566.0 196.7 565.7 197.8 567.1 198.9 567.2 200.0 567.8 201.1 567.9 202.2 569.9 203.3 570.0 204.4 569.6 205.5 571.1 206.6 574.9 207.7 576.6 208.8 576.4 209.9 575.5 211.0 575.4 212.1 577.7 213.3 579.4 214.4 579.9 215.5 579.6 216.6 582.1 217.7 584.6 218.8 584.4 219.9 586.2 221.0 587.7 222.1 590.0 223.2 591.0 224.3 591.9 225.4 592.1 226.5 593.8 227.6 595.4 228.8 595.8 229.9 593.2 231.0 592.1 232.1 592.1 233.2 594.1 234.3 596.5 235.4 599.0 236.5 599.9 237.6 597.6 238.7 601.0 239.8 603.8 240.9 604.3 241.5 607.0 242.1 609.3 242.7 613.1 243.2 622.3 243.7 625.8 244.3 633.1 244.8 630.2 245.4 626.4 245.9 619.4 246.5 616.5 247.1 610.9 247.7 611.1 248.2 607.2 248.8 604.2 249.3 602.1 249.9 600.2 250.5 604.1 251.0 601.0 251.6 599.9 252.1 604.2 252.7 606.1 253.2 604.2 253.8 606.5 254.3 606.3 254.9 607.5 255.4 603.8 256.0 607.6 256.5 610.3 257.0 612.6 257.5 615.4 258.1 617.0 258.6 622.2 259.1 625.3 259.7 620.6 260.3 619.3 260.9 617.6 261.4 615.4 262.0 614.5 262.5 614.3 263.1 613.1 263.6 613.2 264.2 621.0 264.7 621.7 265.3 620.9 265.9 619.7 266.5 616.7 267.1 614.3 267.6 619.0 268.1 617.6 268.6 622.0 269.1 623.0 269.6 623.8 270.2 626.4 270.7 633.2 271.3 630.4 271.9 635.3 272.5 628.7 273.1 630.4 273.7 626.4 274.2 630.3 274.7 637.7 275.3 639.7 275.8 639.2 276.3 639.3 276.8 635.3 277.4 631.2 278.0 627.6 278.6 626.4 279.2 624.3 279.8 625.8 280.3 619.8 280.9 614.8 281.4 612.9 281.9 610.9 282.4 605.2 283.0 598.8 283.6 604.9 284.2 609.3 284.8 615.4 285.3 618.4 285.8 620.9 286.3 626.4 286.8 625.8 287.4 622.7 287.9 619.8 288.5 619.5 289.1 619.4 289.6 615.4 290.2 612.1 290.8 612.0 291.4 613.1 292.0 609.6 292.5 605.4 293.0 607.5 293.6 610.7 294.1 613.1 294.7 615.5 295.3 614.9 295.8 619.8 296.4 625.5 296.9 632.6 297.4 637.5 297.9 629.3 298.5 622.0" fill="none" stroke="#555555" stroke-width="1.2" stroke-opacity="1.0" stroke-linejoin="round" />
</g>
<path d="M53.07 459.40v1.5M53.07 837.00v-1.5M63.01 459.40v1.5M63.01 837.00v-1.5M72.95 459.40v2.5M72.95 837.00v-2.5M82.89 459.40v1.5M82.89 837.00v-1.5M92.83 459.40v1.5M92.83 837.00v-1.5M102.77 459.40v1.5M102.77 837.00v-1.5M112.71 459.40v1.5M112.71 837.00v-1.5M122.65 459.40v2.5M122.65 837.00v-2.5M132.59 459.40v1.5M132.59 837.00v-1.5M142.53 459.40v1.5M142.53 837.00v-1.5M152.47 459.40v1.5M152.47 837.00v-1.5M162.41 459.40v1.5M162.41 837.00v-1.5M172.35 459.40v2.5M172.35 837.00v-2.5M182.29 459.40v1.5M182.29 837.00v-1.5M192.23 459.40v1.5M192.23 837.00v-1.5M202.17 459.40v1.5M202.17 837.00v-1.5M212.11 459.40v1.5M212.11 837.00v-1.5M222.05 459.40v2.5M222.05 837.00v-2.5M231.99 459.40v1.5M231.99 837.00v-1.5M241.93 459.40v1.5M241.93 837.00v-1.5M251.87 459.40v1.5M251.87 837.00v-1.5M261.81 459.40v1.5M261.81 837.00v-1.5M271.75 459.40v2.5M271.75 837.00v-2.5M281.69 459.40v1.5M281.69 837.00v-1.5M291.63 459.40v1.5M291.63 837.00v-1.5M301.57 459.40v1.5M301.57 837.00v-1.5M311.51 459.40v1.5M311.51 837.00v-1.5M321.45 459.40v2.5M321.45 837.00v-2.5M331.39 459.40v1.5M331.39 837.00v-1.5M341.33 459.40v1.5M341.33 837.00v-1.5M48.10 783.06h2.0M346.30 783.06h-2.0M48.10 729.11h2.0M346.30 729.11h-2.0M48.10 675.17h2.0M346.30 675.17h-2.0M48.10 621.23h2.0M346.30 621.23h-2.0M48.10 567.29h2.0M346.30 567.29h-2.0M48.10 513.34h2.0M346.30 513.34h-2.0" stroke="#888" stroke-width="0.7" fill="none"/>
<rect x="48.10" y="459.40" width="298.20" height="377.60" fill="none" stroke="#7a7a7a" stroke-width="1"/>
<g font-family='"Liberation Sans", sans-serif' font-size="13.0" fill="#000" stroke="#000" stroke-width="0.2"><text x="72.95" y="849.50" text-anchor="middle" textLength="32.5" lengthAdjust="spacingAndGlyphs">4000</text><text x="122.65" y="849.50" text-anchor="middle" textLength="32.5" lengthAdjust="spacingAndGlyphs">5000</text><text x="172.35" y="849.50" text-anchor="middle" textLength="32.5" lengthAdjust="spacingAndGlyphs">6000</text><text x="222.05" y="849.50" text-anchor="middle" textLength="32.5" lengthAdjust="spacingAndGlyphs">7000</text><text x="271.75" y="849.50" text-anchor="middle" textLength="32.5" lengthAdjust="spacingAndGlyphs">8000</text><text x="321.45" y="849.50" text-anchor="middle" textLength="32.5" lengthAdjust="spacingAndGlyphs">9000</text><text x="44.70" y="842.30" text-anchor="end" textLength="19.3" lengthAdjust="spacingAndGlyphs">0.0</text><text x="44.70" y="788.36" text-anchor="end" textLength="19.3" lengthAdjust="spacingAndGlyphs">0.5</text><text x="44.70" y="734.41" text-anchor="end" textLength="19.3" lengthAdjust="spacingAndGlyphs">1.0</text><text x="44.70" y="680.47" text-anchor="end" textLength="19.3" lengthAdjust="spacingAndGlyphs">1.5</text><text x="44.70" y="626.53" text-anchor="end" textLength="19.3" lengthAdjust="spacingAndGlyphs">2.0</text><text x="44.70" y="572.59" text-anchor="end" textLength="19.3" lengthAdjust="spacingAndGlyphs">2.5</text><text x="44.70" y="518.64" text-anchor="end" textLength="19.3" lengthAdjust="spacingAndGlyphs">3.0</text><text x="44.70" y="464.70" text-anchor="end" textLength="19.3" lengthAdjust="spacingAndGlyphs">3.5</text></g>
<text x="197.50" y="871.20" text-anchor="middle" font-family='"Liberation Sans", sans-serif' font-size="18.4" stroke="#000" stroke-width="0.25" textLength="187.6" lengthAdjust="spacingAndGlyphs">Rest wavelength [Å]</text>
<text transform="translate(17.70,648.20) rotate(-90)" text-anchor="middle" font-family='"Liberation Sans", sans-serif' font-size="18.2" stroke="#000" stroke-width="0.25" textLength="194" lengthAdjust="spacingAndGlyphs">Log<tspan font-size="12.5" dy="4">10</tspan><tspan dy="-4">(</tspan><tspan font-style="italic">F</tspan><tspan font-size="12.5" dy="4" font-style="italic">λ</tspan><tspan dy="-4">) + constant</tspan></text>
<path d="M423.03 464.30V834.60M467.89 464.30V834.60M512.75 464.30V834.60M557.62 464.30V834.60M602.48 464.30V834.60M647.34 464.30V834.60M400.60 772.88H692.20M400.60 711.17H692.20M400.60 649.45H692.20M400.60 587.73H692.20M400.60 526.02H692.20" stroke="#e4e4e4" stroke-width="0.7" fill="none"/>

<g clip-path="url(#c4)">
<path d="M611.5 560V690M613.5 570V680M615.5 545V640M605 560V650M619 555V620M600 555V610" stroke="#ecc8c8" stroke-width="0.9" fill="none"/>
<path d="M406.9 734.5V782.0M407.3 728.7V806.3M408.1 761.0V819.6M408.9 783.3V856.3M409.6 762.3V832.6M410.1 768.9V825.4M410.5 745.3V815.5M411.0 738.4V793.0M411.8 731.6V794.4M412.6 730.2V786.2M413.3 751.4V813.5M414.1 735.3V797.3M414.6 766.2V834.8M415.1 773.2V859.1M415.6 790.9V845.3M416.2 750.7V816.8M416.8 750.8V782.7M417.5 703.6V769.6M418.2 705.9V781.1M419.0 710.3V752.6M419.4 716.8V774.2M420.2 687.6V743.6M421.0 717.7V779.1M421.7 714.3V787.3M422.3 730.3V818.8M422.8 750.6V817.2M423.6 758.9V815.0M424.5 775.3V818.6M425.2 789.2V855.9M425.8 772.3V843.5M426.6 745.9V823.2M427.1 757.0V790.3M427.6 735.9V787.5M428.1 733.8V785.1M428.7 737.4V794.9M429.1 704.6V785.8M429.9 709.8V772.3M430.8 687.4V772.7M431.2 706.2V785.2M431.9 723.8V790.1M432.4 727.0V805.3M432.8 746.4V810.8M433.4 756.6V838.0M434.3 765.3V807.6M435.1 751.6V827.5M435.9 760.6V816.8M436.5 749.7V827.2M437.0 769.3V833.3M437.5 784.8V833.9M437.9 760.1V835.7M438.8 748.2V804.9M439.5 716.5V768.3M440.3 730.7V791.5M440.9 726.5V771.6M441.7 737.8V801.8M442.4 745.1V799.2M443.0 753.3V809.0M443.6 756.6V810.2M444.3 748.8V795.0M445.0 741.2V811.4M445.6 739.4V810.1M446.1 750.8V800.2M446.9 723.6V806.8M447.5 721.3V776.0M448.1 737.9V795.4M449.0 708.2V783.5M449.6 699.5V756.2M450.2 712.2V780.4M450.7 716.8V751.9M451.5 718.7V787.0M452.1 706.0V767.9M452.9 702.2V792.2M453.7 703.8V792.3M454.6 729.8V794.9M455.3 733.1V777.3M456.2 736.2V797.1M457.1 732.9V784.7M457.8 717.4V771.5M458.6 699.5V765.4M459.4 711.8V782.0M459.9 719.1V778.1M460.4 713.0V778.1M460.8 712.2V801.7M461.4 725.9V785.0M462.1 737.2V786.4M462.7 704.4V777.0M463.5 717.2V781.6M463.9 722.5V766.1M464.5 718.9V765.8M465.0 703.1V782.0M465.8 704.9V786.3M466.6 707.8V771.7M467.0 701.1V788.9M467.8 712.1V790.1M468.7 705.7V791.9M469.1 707.0V785.4M469.7 725.3V775.9M470.1 719.3V788.1M470.6 709.3V798.3M471.4 728.1V786.2M472.0 738.3V810.2M472.9 734.3V809.4M473.6 746.4V806.4M474.0 732.5V802.0M474.6 745.4V791.9M475.2 750.3V810.7M475.7 721.6V784.8M476.5 709.0V795.7M477.0 703.5V768.9M477.5 741.9V785.6M478.0 726.8V804.3M478.8 721.7V773.5M479.7 725.7V797.3M480.1 727.0V796.2M480.9 733.8V782.4M481.6 751.9V759.8M482.2 746.9V757.7M483.1 740.8V750.9M484.0 728.8V739.4M484.7 724.2V733.7M485.7 714.3V730.5M486.9 708.1V720.3M487.8 710.6V718.0M488.6 707.9V716.4M490.0 704.8V718.6M491.0 702.3V716.2M492.1 700.1V714.6M493.1 703.6V710.6M494.0 701.8V710.1M495.4 710.8V718.6M496.2 712.5V725.2M497.6 716.6V728.5M498.9 720.5V729.7M499.8 718.9V731.0M501.1 720.9V731.3M502.2 718.2V725.4M503.5 714.6V722.4M504.5 713.3V724.6M505.4 712.7V727.7M506.4 717.7V730.2M507.2 721.0V733.7M507.8 726.5V732.6M509.0 728.6V742.7M510.1 741.1V748.5M511.0 746.0V754.6M511.9 753.4V760.2M513.0 759.9V767.7M513.9 747.7V772.5M514.9 754.5V770.6M516.1 744.1V770.1M517.0 743.8V762.2M517.7 740.4V757.0M518.9 739.5V761.9M519.6 738.3V764.6M521.0 739.8V758.2M522.2 750.3V771.2M522.8 755.2V768.1M523.5 744.4V773.1M524.3 741.2V762.8M525.6 744.7V764.6M526.5 737.0V760.6M527.0 737.8V758.7M527.9 717.9V755.1M528.6 726.4V743.5M529.6 717.4V745.6M530.6 716.1V750.2M531.4 711.0V752.7M532.3 718.7V741.6M533.2 703.1V739.4M534.0 714.5V729.3M534.7 702.2V729.2M535.6 701.7V729.3M536.4 698.2V724.8M537.3 700.5V741.0M538.0 705.8V741.8M538.7 706.8V744.1M539.8 715.6V736.7M540.6 712.7V751.1M541.6 716.4V751.8M542.6 716.3V743.2M543.1 716.5V738.8M543.8 709.7V742.6M544.7 713.6V743.3M545.6 719.1V757.8M546.2 723.9V763.5M546.9 731.3V769.7M547.9 737.1V776.2M548.7 727.3V793.5M549.5 746.2V803.2M550.2 729.0V792.4M551.0 740.9V789.1M551.6 736.0V790.1M552.5 726.4V792.5M553.1 717.7V778.8M553.7 740.8V779.4M554.5 730.8V780.7M555.2 749.2V793.2M555.6 751.8V780.3M556.5 736.5V803.1M557.4 761.0V808.5M558.0 764.9V807.0M558.4 756.6V791.1M559.0 734.9V797.4M559.6 751.7V782.7M560.1 732.6V791.8M560.9 730.5V777.0M561.5 733.7V793.4M562.2 716.5V781.8M563.1 731.1V775.5M563.5 758.4V807.7M564.0 751.2V803.8M564.5 761.7V817.4M565.0 744.2V804.0M565.8 751.2V804.5M566.5 749.4V792.6M567.1 741.4V785.6M567.6 753.7V806.3M568.3 755.9V810.0M569.0 734.6V793.6M569.9 745.4V794.5M570.3 742.6V793.1M571.1 759.5V809.1M571.9 792.4V837.6M572.7 763.2V822.6M573.4 759.1V800.2M573.8 743.5V812.9M574.3 754.0V792.6M574.8 722.9V778.8M575.2 735.4V778.6M575.8 727.2V769.6M576.7 748.0V777.2M577.6 752.4V786.6M578.1 728.5V792.9M578.9 727.9V782.3M579.4 714.6V785.0M579.9 731.4V770.9M580.5 717.9V785.9M581.3 734.6V766.2M582.2 711.8V777.4M582.6 727.4V768.3M583.3 734.3V785.4M584.0 717.9V793.1M584.6 742.1V796.5M585.3 738.5V799.0M586.2 729.0V779.4M587.0 723.1V760.3M587.5 704.5V768.2M588.1 712.3V744.2M589.0 710.9V777.1M589.5 725.9V761.7M590.2 713.4V776.6M590.9 702.5V737.5M591.7 680.5V739.7M592.3 696.7V745.0M593.1 714.0V764.2" stroke="#e4e8eb" stroke-width="1.0" fill="none"/>
<path d="M406.9 760.9 407.4 775.2 408.0 789.6 408.5 809.7 409.1 822.9 409.6 803.9 410.2 783.0 410.7 779.7 411.2 775.4 411.7 774.1 412.4 771.4 413.1 765.3 413.9 778.6 414.6 799.7 415.3 822.9 416.2 789.6 416.8 766.6 417.5 740.9 418.0 737.6 418.5 736.0 419.0 734.3 419.6 728.0 420.1 725.4 420.7 733.6 421.3 738.7 421.8 756.9 422.4 774.1 422.9 779.8 423.5 786.4 424.1 791.9 424.6 801.0 425.2 810.8 425.7 820.6 426.2 799.2 426.8 778.6 427.3 773.1 427.9 769.7 428.4 762.0 428.9 755.1 429.4 747.6 430.1 739.0 430.8 731.0 431.3 737.9 431.8 752.1 432.3 763.1 432.9 777.0 433.4 794.1 434.0 790.4 434.5 787.4 435.1 784.4 435.6 782.3 436.1 783.0 436.8 794.6 437.4 807.4 437.9 789.0 438.4 774.1 439.0 756.4 439.5 756.7 440.0 748.2 440.5 749.8 441.1 754.1 441.7 758.0 442.3 763.1 442.8 767.5 443.4 765.4 443.9 774.0 444.5 776.4 445.1 774.4 445.7 770.7 446.3 769.7 446.8 764.3 447.3 758.2 447.8 756.4 448.3 753.6 448.9 747.0 449.4 740.9 450.0 735.1 450.7 735.4 451.2 740.7 451.7 745.0 452.3 749.8 452.8 747.6 453.3 749.6 453.8 747.6 454.5 752.7 455.1 756.4 455.6 760.1 456.2 766.0 456.7 769.7 457.2 759.0 457.7 747.8 458.2 740.9 458.8 745.4 459.4 751.5 460.0 756.4 460.6 753.7 461.2 753.0 461.8 752.0 462.3 751.2 462.8 749.2 463.3 747.6 463.8 743.2 464.4 739.7 464.9 735.4 465.5 740.4 466.1 743.2 466.6 743.1 467.2 745.2 467.8 748.8 468.4 752.0 469.0 753.7 469.5 753.4 470.1 752.1 470.6 754.2 471.1 761.1 471.7 762.9 472.2 765.3 472.7 778.3 473.3 785.2 473.9 778.1 474.5 776.3 475.1 771.9 475.6 760.3 476.1 754.3 476.6 747.6 477.1 754.0 477.6 755.9 478.2 760.9 478.7 756.5 479.3 754.6 479.9 749.8 480.5 752.6 481.1 755.1 481.7 756.4 483.3 745.4 484.4 732.1 486.1 718.8 487.2 714.8 488.3 712.1 489.5 710.5 490.6 709.9 491.7 706.9 492.8 707.7 494.3 706.6 495.9 716.6 497.0 719.4 498.1 723.2 499.2 725.2 500.3 727.6 502.1 721.0 503.2 718.0 504.3 718.8 505.4 721.1 506.5 723.2 507.6 728.2 508.7 734.3 509.8 743.2 510.9 749.8 512.7 763.1 513.8 761.3 514.9 758.6 516.0 756.2 517.1 752.0 518.2 752.1 519.3 749.8 520.5 752.6 521.6 753.1 523.1 760.9 524.7 753.1 526.4 747.6 527.5 742.8 528.6 736.5 529.8 733.5 530.9 733.2 532.0 729.1 533.1 725.4 534.8 718.8 536.0 718.9 537.1 717.7 538.6 725.4 539.6 728.4 540.9 728.7 542.2 732.6 543.4 732.4 544.7 731.8 546.4 748.0 548.1 758.2 548.7 762.2 549.3 761.4 549.8 765.0 550.4 768.0 551.0 769.7 551.5 771.8 552.1 764.9 552.7 755.5 553.2 748.0 553.8 752.1 554.4 755.5 554.9 761.6 555.5 766.9 556.1 768.4 556.6 775.2 557.2 778.3 557.8 780.3 558.3 777.6 558.7 771.8 559.2 770.1 559.8 766.6 560.3 763.0 560.9 758.2 561.4 757.4 561.8 752.9 562.3 751.4 562.9 759.7 563.5 770.1 564.1 776.1 564.7 782.0 565.1 777.6 565.6 774.2 566.0 771.8 566.6 771.2 567.2 773.3 567.7 775.2 568.3 775.7 568.9 770.4 569.4 770.1 569.9 776.1 570.3 775.3 570.8 780.3 571.4 805.1 572.0 826.4 572.6 807.0 573.2 785.4 573.6 777.3 574.1 770.9 574.5 761.6 575.0 755.8 575.5 753.5 575.9 749.7 576.5 755.1 577.0 762.5 577.6 770.1 578.2 759.8 578.8 742.8 579.4 751.5 580.0 754.8 580.5 755.5 580.9 749.9 581.4 746.2 581.8 747.3 582.3 743.8 582.7 742.8 583.3 749.4 583.9 754.8 584.5 762.1 585.1 764.3 585.6 770.1 586.2 755.1 586.8 737.7 587.3 736.3 587.7 730.1 588.2 729.2 588.7 739.6 589.3 743.4 589.9 749.7 590.3 737.3 590.8 727.7 591.2 715.6 591.8 719.1 592.4 724.1 593.3 744.5 593.6 719.0" fill="none" stroke="#9ea9b4" stroke-width="1.05" stroke-opacity="1.0" stroke-linejoin="round" />
<path d="M415.3 691.1V693.4M416.1 688.5V691.3M417.2 685.0V687.9M418.2 686.8V688.5M419.2 688.4V690.0M420.3 687.6V690.1M421.4 687.1V689.7M422.6 687.2V690.2M423.3 686.7V690.1M424.0 688.1V690.9M425.1 686.8V690.6M426.1 683.5V686.9M427.2 689.3V692.9M428.5 696.2V699.5M429.1 695.6V697.7M429.8 693.7V695.5M430.6 691.3V694.1M431.5 691.6V693.6M432.8 691.8V695.1M433.6 688.9V691.6M434.5 686.5V690.4M435.5 685.7V689.5M436.7 686.6V688.3M437.6 691.5V693.6M438.9 699.0V702.2M440.1 704.5V707.9M441.0 706.1V708.1M442.1 702.3V705.0M443.4 698.0V700.3M444.8 691.8V694.0M445.4 685.2V687.7M446.7 669.5V671.6M447.6 659.1V662.9M448.9 654.3V656.9M450.1 652.2V655.4M450.9 652.4V654.8M451.9 658.6V662.1M453.2 673.6V676.1M453.9 678.1V682.2M454.8 682.1V685.3M455.5 683.7V687.0M456.7 681.8V683.9M457.6 676.2V679.0M458.9 670.3V673.4M459.5 673.0V677.2M460.2 673.1V675.3M461.4 666.0V668.7M462.4 656.5V659.1M463.7 653.4V655.7M464.7 658.3V661.1M465.6 663.9V667.8M466.5 673.0V675.3M467.3 677.6V680.3M468.1 681.1V682.8M469.2 685.5V688.6M470.5 690.0V691.7M471.6 692.6V694.4M472.9 692.7V695.7M474.2 689.0V691.9M474.9 686.2V688.9M475.8 679.2V682.8M477.2 669.4V671.5M478.1 663.3V666.3M478.8 662.4V665.1M479.7 661.1V664.2M480.6 658.0V661.6M481.3 657.2V661.4M482.6 659.0V663.1M483.4 654.8V657.2M484.3 649.2V651.1M485.7 640.1V643.0M486.6 638.4V641.9M488.0 636.4V639.7M488.8 636.5V639.8M489.8 635.5V638.9M490.5 635.7V638.7M491.7 637.0V640.1M492.4 637.6V640.2M493.6 639.3V641.1M494.9 642.0V644.6M496.0 645.0V647.9M497.0 646.6V649.7M498.1 649.5V651.8M499.3 650.0V652.3M500.5 649.8V651.9M501.9 648.0V651.0M502.7 649.2V652.4M504.0 647.9V651.2M504.7 647.7V651.5M505.8 647.1V651.0M506.4 648.4V651.5M507.5 652.2V655.2M508.2 657.5V659.8M509.0 661.6V665.0M509.8 666.1V668.8M510.8 666.9V671.0M511.5 668.3V670.7M512.1 668.4V672.0M512.9 671.9V675.3M513.8 675.5V676.9M515.1 670.0V673.6M516.4 670.3V672.7M517.1 671.1V674.3M518.3 669.7V673.8M519.1 669.9V671.7M520.3 669.5V672.8M521.4 673.4V676.4M522.7 674.1V678.2M524.0 672.6V675.1M524.9 667.7V671.7M526.2 662.7V665.7M527.4 658.9V661.8M528.7 654.2V657.1M529.6 650.6V653.7M530.4 649.4V651.0M531.3 646.3V650.5M532.1 645.2V648.2M533.5 644.7V648.4M534.2 643.7V646.8M535.6 644.8V646.7M536.5 644.5V647.5M537.6 649.5V652.3M538.7 657.4V660.2M539.3 661.3V664.9M540.4 660.1V663.6M541.3 661.1V663.6M542.2 661.6V664.7M543.4 663.1V665.4M544.3 664.8V667.2M545.0 666.2V669.6M546.1 667.7V671.4M547.0 669.9V672.1M547.8 671.6V674.5M548.9 673.2V676.0M549.7 674.4V677.9M550.9 676.1V677.8M551.9 676.4V679.2M553.2 677.6V681.2M554.0 679.4V681.0M554.8 679.7V683.1M555.4 680.5V683.4M556.2 680.8V683.9M557.0 681.6V684.0M558.2 682.3V685.0M559.1 683.9V687.0M560.1 684.8V686.5M561.4 684.7V688.0M562.6 684.2V688.0M563.9 684.7V688.4M565.1 685.0V688.4M566.1 684.0V687.9M567.1 684.7V686.8M568.2 684.9V688.3M569.3 686.8V688.7M570.2 697.0V699.3M571.2 731.1V732.9M572.3 707.7V710.2M573.3 697.1V699.9M574.0 690.5V693.9M575.1 682.6V686.3M576.3 682.5V684.4M577.2 681.4V685.3M578.6 681.5V684.7M579.6 680.9V683.5M580.4 680.9V682.9M581.2 680.2V683.2M582.0 680.3V682.5M583.1 680.7V682.6M584.1 680.3V682.7M584.8 679.4V681.5M585.7 679.5V681.6M586.9 678.8V681.9M588.2 680.1V681.9M588.8 680.2V684.0M589.7 680.7V684.3M590.8 676.8V690.2M591.4 681.0V686.2M591.8 677.9V688.8M592.4 678.3V690.4M592.9 679.3V690.9M593.4 678.7V692.5M593.9 683.4V689.5M594.7 679.2V690.7M595.5 684.6V692.9M596.3 684.9V693.9M597.1 682.9V690.9M598.1 682.5V692.8M598.8 685.4V694.3M599.4 683.4V696.6M599.9 683.3V696.1M600.8 685.5V695.9M601.6 685.3V696.2M602.5 690.7V700.4M603.1 691.3V700.9M604.0 687.4V696.5M604.9 686.9V695.0M605.7 682.4V688.8M606.6 679.4V685.7M607.5 684.7V695.5M608.3 691.1V696.8M609.2 700.3V708.8M609.9 702.9V715.0M610.7 712.2V723.3M611.2 718.4V727.5M611.8 721.7V731.6M612.5 728.3V738.8M613.1 725.7V735.1M613.6 727.2V733.1M614.1 723.4V734.6M614.7 721.7V729.7M615.5 713.6V725.9M616.1 728.5V734.2M616.6 740.4V745.6M617.3 740.2V751.1M618.1 718.9V727.6M619.0 708.9V720.4M619.7 703.8V712.9M620.2 703.4V713.0M620.9 695.8V706.6M621.4 694.5V702.4M621.9 691.3V700.2M622.9 686.8V695.7M623.6 680.8V690.5M624.3 680.9V689.9M625.2 678.9V690.1M626.0 683.8V695.3M626.9 686.5V693.0M627.7 684.6V690.5M628.2 685.9V692.6M629.0 690.8V697.8" stroke="#d5dbe0" stroke-width="0.9" fill="none"/>
<path d="M415.3 692.7 416.2 689.1 417.6 686.4 418.9 689.1 419.8 689.0 420.7 688.8 421.6 689.1 422.5 688.7 423.5 688.3 424.4 688.9 425.3 688.7 426.2 685.5 427.1 690.9 428.5 698.2 429.8 694.5 431.1 691.8 432.5 694.5 434.0 689.1 435.3 688.2 436.2 685.5 437.1 689.1 438.4 698.2 439.5 703.6 440.7 708.2 442.0 703.6 443.5 699.1 444.9 692.7 446.2 676.4 447.5 661.8 448.9 656.4 449.8 654.1 450.7 652.7 452.2 661.8 453.5 678.2 454.7 683.6 456.2 687.3 457.6 676.4 458.5 670.9 459.8 676.4 461.3 669.1 462.5 656.4 463.8 654.5 465.3 663.6 466.7 676.4 468.0 681.8 468.9 685.1 469.8 689.1 470.7 690.8 471.6 693.6 472.5 693.8 473.5 694.5 474.4 690.2 475.3 685.5 476.2 677.8 477.1 670.9 478.0 665.5 479.5 662.5 481.0 659.1 482.6 661.4 483.9 652.5 485.5 641.4 486.6 639.2 487.7 638.1 488.8 637.6 489.9 637.0 491.0 637.5 492.1 638.1 493.2 639.9 494.3 641.4 495.4 645.0 496.5 648.1 497.6 649.7 498.8 651.4 499.9 650.5 501.0 650.3 502.1 650.3 503.2 650.3 504.1 650.1 505.1 649.4 506.1 649.2 507.6 654.7 508.7 660.9 509.8 668.0 510.9 669.4 512.0 670.2 513.6 676.9 515.4 671.3 516.5 671.8 517.6 672.4 518.7 671.2 519.8 670.2 521.6 674.6 523.1 676.9 524.2 672.4 525.3 668.0 526.4 663.9 527.5 659.1 528.6 655.3 529.8 651.4 530.9 649.1 532.0 647.0 533.1 646.6 534.2 645.9 535.3 646.5 536.4 645.9 537.9 652.5 539.3 663.6 540.8 661.4 541.9 662.9 543.0 663.6 544.1 666.0 545.3 668.0 546.4 669.9 547.5 672.4 548.6 675.2 549.7 675.8 550.8 676.5 551.9 678.0 552.9 679.0 553.9 680.2 555.0 681.1 556.1 682.9 557.2 683.5 558.3 684.4 559.4 684.6 560.5 685.7 561.6 686.2 562.7 686.6 563.8 686.8 564.9 686.4 566.0 685.7 567.1 685.7 568.3 686.6 569.4 687.9 570.5 702.1 571.1 733.1 572.0 713.2 573.3 697.7 574.9 684.4 576.0 683.7 577.1 683.3 578.2 683.0 579.3 682.4 580.4 682.2 581.5 682.1 582.6 681.2 583.8 681.1 584.9 680.2 586.0 680.1 587.1 680.0 588.2 681.5 589.3 682.2 590.4 682.0 591.5 683.3 592.6 687.5 593.7 686.2 594.8 686.6 595.9 685.9 597.0 687.0 598.1 688.9 599.3 690.3 600.4 689.5 601.5 692.2 603.0 697.7 604.8 691.1 606.6 682.2 608.1 693.3 609.7 706.6 611.4 724.3 612.5 733.1 614.1 728.7 615.4 719.9 616.3 735.4 617.0 753.1 618.1 724.3 619.2 711.0 620.3 708.6 621.4 699.9 622.9 688.9 624.7 684.4 626.5 691.1 628.0 686.6 629.6 699.9" fill="none" stroke="#95a1ac" stroke-width="1.15" stroke-opacity="1.0" stroke-linejoin="round" />
<path d="M400.7 618.6V621.0M401.4 614.3V617.4M402.6 608.4V611.2M403.2 606.1V608.7M404.5 601.0V604.3M405.5 597.5V600.4M406.7 588.2V590.3M407.7 581.7V585.0M408.8 578.4V581.4M409.7 578.8V580.3M411.1 584.2V587.3M412.4 578.1V580.4M413.6 586.8V590.5M414.8 593.9V596.4M416.0 585.7V589.0M417.0 578.4V581.1M418.3 571.3V573.9M419.4 569.8V571.9M420.5 568.5V572.2M421.2 571.4V574.7M422.5 574.6V577.1M423.9 577.5V579.9M424.6 577.8V580.3M425.3 575.1V577.8M426.4 575.9V578.0M427.0 576.1V580.4M427.7 577.4V581.5M429.0 574.4V577.6M430.2 574.6V578.2M431.3 575.8V579.8M432.2 579.5V582.1M433.0 580.8V584.3M434.1 583.7V586.3M435.2 585.3V588.6M436.1 588.2V590.1M437.3 590.5V594.5M438.5 593.5V596.7M439.2 596.9V599.2M440.6 600.1V602.5M441.3 597.7V599.9M442.4 592.0V595.5M443.7 585.0V588.7M444.5 582.9V585.6M445.2 579.8V582.2M445.9 575.3V577.9M446.8 571.7V573.6M447.7 568.4V570.3M448.8 565.3V568.0M449.4 564.5V567.3M450.2 563.2V565.7M451.4 569.9V571.7M452.6 577.7V580.8M453.4 582.5V585.3M454.4 583.5V587.0M455.6 587.4V590.9M456.7 587.1V590.4M457.7 585.3V588.4M458.8 588.7V592.2M459.4 592.5V595.4M460.6 594.0V598.1M461.4 593.3V597.1M462.6 587.3V589.8M463.6 589.2V591.7M464.4 592.5V594.9M465.1 595.5V598.6M466.0 598.5V602.2M467.0 601.4V604.4M467.8 600.4V603.0M469.2 599.0V601.6M470.2 597.7V599.4M471.5 594.4V597.2M472.3 592.6V596.4M473.4 590.1V593.3M474.4 586.6V589.6M475.2 583.8V587.9M476.2 583.7V586.5M477.1 582.1V585.0M477.8 583.3V586.3M478.7 585.6V588.3M479.7 586.4V588.9M480.8 587.8V591.1M481.7 587.1V589.7M482.8 585.9V589.1M483.8 585.3V588.7M484.5 586.6V588.5M485.8 586.6V589.5M486.9 588.7V591.7M487.8 589.7V592.1M488.5 588.0V592.2M489.6 588.5V591.4M490.2 588.4V590.4M490.9 586.9V590.6M492.1 586.6V589.3M492.9 586.3V589.8M494.0 586.2V589.2M495.0 586.8V590.5M496.1 589.3V592.3M496.9 590.8V594.1M497.8 592.9V595.5M498.6 594.0V596.2M499.8 594.6V596.8M500.8 595.1V597.6M501.6 593.4V596.6M502.6 592.6V595.5M503.2 591.6V593.5M503.9 591.4V593.5M504.5 590.6V592.7M505.7 589.8V592.5M506.7 589.7V593.7M508.1 592.2V595.5M509.0 593.6V596.0M509.6 593.9V596.4M510.7 595.7V597.8M511.5 594.7V598.0M512.3 596.3V598.3M513.5 597.4V599.6M514.3 598.5V601.6M515.1 603.3V605.3M516.1 611.6V613.5M517.0 622.3V626.6M518.0 627.0V629.3M519.1 625.5V628.3M520.2 619.4V621.3M521.1 613.6V617.1M522.1 608.5V611.3M523.0 603.1V606.1M524.3 600.2V602.7M525.6 598.6V601.1M526.4 598.1V600.2M527.5 597.5V600.1M528.5 596.2V599.9M529.3 596.8V600.0M530.1 596.9V599.4M531.5 597.2V599.9M532.7 598.8V601.9M533.6 598.2V601.0M534.8 599.8V602.4M535.6 601.4V603.7M536.6 604.1V605.7M537.5 608.2V611.4M538.2 613.8V617.0M539.6 614.6V617.1M540.5 613.1V616.0M541.6 612.6V615.3M542.5 614.0V616.1M543.5 614.5V617.5M544.6 615.2V619.0M545.9 616.6V621.0M546.7 617.7V621.4M547.3 618.3V622.4M548.7 620.4V623.4M549.9 621.5V624.5M550.8 621.5V625.1M551.6 620.2V623.1M552.5 621.2V624.0M553.4 621.8V624.0M554.2 623.3V625.5M555.1 623.7V625.6M556.5 625.4V627.0M557.6 626.7V629.0M558.9 627.8V629.9M560.2 628.4V630.2M560.8 628.1V631.7M561.7 629.3V632.7M562.5 629.4V633.2M563.5 630.4V633.4M564.8 631.7V635.2M566.1 633.1V636.9M567.0 634.5V637.9M567.9 635.5V638.6M568.8 636.8V639.7M569.5 639.7V643.3M570.1 655.0V656.9M571.1 666.1V670.0M572.3 650.5V653.8M572.9 646.6V649.7M573.5 646.2V647.9M574.4 645.2V647.8M575.1 645.0V647.3M576.4 647.6V650.9M577.7 650.6V653.8M578.8 652.6V654.8M580.1 652.5V655.6M581.0 650.6V653.8M581.9 648.6V652.8M582.8 648.3V651.5M584.2 647.3V649.3M585.2 648.1V650.9M586.3 649.2V651.4M587.4 646.6V648.7M588.5 644.7V648.6M589.5 645.1V647.3M590.5 637.3V649.2M591.2 639.3V648.0M591.8 640.4V647.5M592.3 636.3V648.4M593.1 637.9V649.1M593.7 640.4V646.0M594.2 635.3V649.7M595.2 636.1V646.8M595.9 637.0V647.8M596.6 636.8V648.0M597.0 636.6V649.3M597.8 636.5V648.8M598.3 640.8V649.6M599.0 643.2V653.3M600.0 642.4V651.2M600.6 639.7V651.6M601.5 638.4V651.0M602.0 639.8V649.0M602.7 641.5V652.8M603.3 636.5V650.4M604.2 637.5V651.5M605.0 637.4V649.9M605.5 641.6V653.1M606.0 638.9V648.9M606.4 640.4V654.5M607.3 645.3V656.8M608.1 648.7V655.8M608.6 650.1V661.8M609.1 649.1V663.4M610.1 657.8V670.5M610.9 664.9V671.8M611.4 664.7V675.4M612.4 664.1V676.4M613.1 665.1V673.3M613.7 663.5V674.7M614.5 662.5V675.5M615.5 660.2V667.9M616.0 658.6V668.8M616.7 655.7V668.9M617.1 657.8V666.3M617.8 652.6V666.9M618.4 651.9V662.7M619.1 649.3V664.1M619.6 649.1V662.2M620.5 651.3V656.6M621.1 643.7V657.0M621.8 646.4V655.8M622.7 643.3V650.7M623.4 643.4V648.9M623.9 640.6V648.7M624.9 636.7V650.7M625.7 638.2V645.3M626.1 638.9V647.0M626.8 634.4V649.9M627.7 636.6V649.8M628.7 636.3V651.1" stroke="#d5dbe0" stroke-width="0.9" fill="none"/>
<path d="M400.7 619.3 402.4 610.4 404.2 603.8 405.8 597.1 406.9 588.3 408.0 581.6 409.5 578.3 410.8 587.2 412.4 579.4 413.9 590.5 415.3 597.1 416.2 586.1 417.5 577.2 418.4 572.9 420.1 569.6 421.9 575.1 423.0 577.7 424.1 579.6 425.7 576.3 426.8 577.4 427.9 579.6 429.4 575.1 431.2 577.4 432.3 581.6 433.4 583.5 434.5 586.1 435.6 588.2 436.8 590.5 437.9 594.1 439.0 597.1 440.5 601.6 441.8 596.0 443.4 588.3 444.9 581.6 446.1 576.1 447.2 570.7 448.1 568.0 449.1 567.1 450.0 564.1 451.1 569.2 452.3 575.1 452.9 583.9 454.5 585.0 456.0 590.5 457.8 586.1 459.6 593.8 461.1 597.1 462.7 588.3 464.0 591.6 465.5 599.4 467.1 602.7 468.9 600.5 470.0 598.8 471.1 597.1 472.2 594.9 473.3 592.7 474.4 588.9 475.5 585.0 477.3 583.9 478.8 587.2 479.9 587.8 481.0 589.4 482.1 588.0 483.3 587.2 484.4 587.6 485.5 588.3 486.6 589.5 487.7 590.5 488.8 590.0 489.9 589.4 491.0 588.9 492.1 588.3 493.2 588.0 494.3 587.2 495.4 589.1 496.5 591.6 497.6 593.4 498.8 594.9 499.9 594.9 501.0 596.0 502.1 594.7 503.2 592.7 504.3 591.7 505.4 590.5 506.5 591.7 507.6 592.7 508.7 594.6 509.8 596.0 510.9 596.7 512.0 597.1 513.1 598.6 514.3 599.4 515.8 608.2 517.1 625.9 518.7 630.4 519.8 622.6 521.6 612.6 523.1 603.8 524.2 601.5 525.3 599.4 526.4 599.1 527.5 598.8 528.6 598.3 529.8 598.1 530.9 598.4 532.0 599.4 532.9 599.5 533.9 599.9 534.8 600.5 536.0 603.2 537.1 606.0 538.6 619.3 540.2 613.8 541.3 614.4 542.4 614.9 543.3 615.6 544.3 617.0 545.3 618.2 546.4 619.4 547.5 620.5 548.6 621.5 549.7 622.4 550.8 623.7 551.6 621.5 552.8 622.8 553.9 623.7 555.0 624.8 556.1 625.9 557.2 627.5 558.3 628.1 559.4 628.7 560.5 629.0 561.6 630.4 562.7 631.4 563.8 632.7 564.9 633.7 566.0 634.9 567.1 635.6 568.3 637.0 569.4 639.2 570.0 652.5 570.7 674.6 571.6 659.1 572.7 648.1 573.8 647.2 574.9 645.9 576.0 648.8 577.1 651.4 578.2 653.0 579.3 654.7 580.4 653.1 581.5 651.4 582.6 650.3 583.8 648.1 584.9 649.1 586.0 650.3 587.1 648.3 588.2 647.0 589.3 646.3 590.4 645.9 590.9 647.1 591.5 645.2 592.1 642.7 592.6 643.6 593.2 645.7 593.7 643.8 594.3 643.8 594.8 642.5 595.4 643.3 595.9 639.1 596.5 642.9 597.0 644.8 597.6 644.7 598.1 643.8 598.7 641.9 599.3 645.9 599.8 647.1 600.4 646.6 600.9 648.0 601.5 647.0 602.0 647.6 602.6 646.0 603.1 643.3 603.7 643.6 604.2 644.3 604.8 644.5 605.3 646.2 605.9 645.9 606.4 648.1 607.0 650.3 607.6 649.1 608.1 652.5 608.6 656.9 609.1 657.8 609.7 659.1 610.3 664.7 611.0 668.0 611.5 668.3 612.0 667.9 612.5 672.4 613.1 671.3 613.6 669.9 614.1 668.0 614.7 667.7 615.3 665.6 615.9 663.6 616.4 661.5 617.0 661.4 617.5 659.6 618.1 659.1 618.6 658.5 619.2 658.5 619.7 654.6 620.3 654.7 620.8 652.9 621.4 651.9 621.9 650.0 622.5 648.1 623.1 647.6 623.6 644.8 624.2 643.3 624.7 643.6 625.3 645.2 625.8 641.9 626.4 640.5 626.9 641.4 627.5 642.5 628.1 645.3 628.7 644.8" fill="none" stroke="#95a1ac" stroke-width="1.15" stroke-opacity="1.0" stroke-linejoin="round" />
<path d="M400.7 537.3V540.1M401.9 532.3V534.2M402.6 530.2V531.6M403.3 526.9V530.6M404.5 524.9V527.5M405.6 523.3V525.2M406.9 521.0V523.4M407.5 521.7V524.6M408.2 522.1V525.9M408.8 523.6V526.3M410.2 524.4V526.4M411.0 524.9V527.3M412.2 527.0V529.0M413.4 523.9V527.4M414.3 523.0V526.7M415.3 526.2V528.7M416.3 525.6V529.3M417.2 523.9V527.9M417.8 522.8V524.7M418.4 518.8V522.3M419.5 513.6V517.1M420.2 512.4V514.4M421.5 513.2V515.6M422.4 515.7V518.0M423.1 516.9V519.5M424.4 518.5V521.3M425.5 520.7V522.4M426.3 518.8V522.2M427.1 517.0V520.9M427.9 515.6V518.9M428.6 515.5V519.0M429.6 515.8V518.7M430.5 517.2V519.6M431.5 517.1V520.0M432.3 517.6V521.5M433.0 518.0V521.0M434.3 519.0V521.8M435.5 521.7V524.3M436.8 525.5V528.3M437.8 528.9V530.7M438.8 532.8V535.8M439.6 536.2V538.8M440.6 534.3V536.6M441.6 530.1V533.0M442.9 523.8V527.7M444.1 521.6V525.1M445.3 519.0V522.1M446.1 517.8V521.4M446.7 517.5V520.2M447.5 518.0V519.8M448.1 518.2V520.3M449.1 517.6V520.4M449.8 517.5V521.3M451.0 518.7V521.6M452.0 521.1V524.0M453.3 525.5V528.1M454.0 528.1V529.5M455.0 530.7V534.8M455.8 533.5V537.0M457.1 535.3V538.3M457.9 535.8V537.7M458.8 535.6V539.2M459.5 537.9V540.2M460.9 539.4V542.7M462.0 539.5V543.0M462.9 538.9V542.2M463.7 539.2V542.1M464.7 539.4V542.0M465.3 540.7V543.1M466.0 541.1V544.3M466.9 542.0V544.6M467.8 542.1V544.7M468.9 541.9V544.8M470.2 541.5V544.1M470.8 540.3V542.9M471.9 537.7V540.7M473.1 533.8V536.9M474.3 531.7V535.2M475.0 530.4V532.5M475.8 528.6V532.1M476.6 529.2V532.1M477.3 530.1V533.5M478.5 533.0V536.6M479.4 535.2V538.3M480.4 538.0V539.4M481.0 538.4V541.9M481.7 540.1V543.9M482.8 543.2V546.1M484.0 546.2V549.6M485.1 545.3V549.1M486.4 544.9V547.2M487.5 545.6V548.7M488.3 547.8V549.9M489.5 549.6V551.9M490.5 551.4V553.8M491.3 553.3V555.7M492.2 552.7V554.4M493.0 551.3V554.2M493.9 551.1V553.0M494.8 550.5V553.7M495.8 552.6V554.2M497.0 553.7V557.2M498.4 556.9V559.9M499.2 558.1V561.8M500.2 560.0V563.9M501.2 560.3V563.5M502.3 558.8V561.0M502.9 557.3V560.2M504.0 553.0V555.9M505.3 549.9V553.7M506.3 547.4V551.0M507.0 546.7V549.9M508.3 546.0V548.8M509.3 547.8V549.8M510.0 549.2V552.1M510.8 550.8V552.8M511.9 552.1V555.8M512.8 553.2V556.1M513.6 555.1V558.2M514.5 556.0V559.4M515.1 557.6V560.6M515.9 559.6V562.2M516.9 560.2V564.6M517.7 564.6V566.2M518.7 567.8V570.4M519.3 570.6V573.0M520.5 575.2V577.7M521.4 574.3V577.9M522.2 572.8V575.8M523.5 570.2V572.0M524.5 566.6V569.0M525.5 563.6V566.6M526.4 560.3V564.3M527.0 560.1V563.1M528.0 561.8V564.8M528.8 561.8V565.5M529.6 563.6V566.1M530.2 564.5V566.3M530.8 565.0V566.9M532.2 568.1V570.2M533.4 567.9V571.0M534.0 566.5V568.6M535.2 566.9V571.3M536.0 570.2V573.4M537.3 572.4V575.3M537.9 572.4V575.7M539.0 568.1V571.1M540.0 567.2V570.3M541.2 569.5V572.0M542.0 570.6V572.9M542.7 572.3V574.8M543.8 573.6V576.6M544.9 575.2V579.3M545.8 576.8V580.6M547.1 578.9V581.6M548.3 581.0V584.3M549.5 582.9V584.6M550.7 583.3V585.7M551.4 585.2V588.2M552.1 585.6V588.6M553.2 586.9V589.0M553.9 586.6V590.0M554.6 588.2V591.0M555.4 587.7V592.0M556.6 589.9V591.6M557.9 590.1V592.1M558.6 590.8V592.9M559.2 590.7V593.2M560.0 591.6V595.2M561.3 594.7V596.6M562.4 596.2V600.0M563.5 595.0V598.1M564.9 592.8V595.2M566.1 591.9V593.3M567.0 590.5V594.0M568.2 599.4V602.3M569.1 619.0V622.7M570.0 623.3V627.4M570.9 609.3V612.2M572.2 599.1V601.9M573.5 596.7V599.3M574.3 597.0V600.6M575.4 597.8V607.5M576.4 600.5V606.4M577.1 602.1V609.9M578.3 602.7V615.9M579.7 607.3V619.5M581.1 611.9V623.4M582.1 613.2V625.9M583.4 616.2V623.6M584.1 614.3V625.6M585.4 614.7V624.3M586.8 608.9V616.2M587.9 608.5V617.4M589.2 604.3V615.5M590.1 595.1V613.8M590.8 601.1V613.2M591.3 592.5V617.2M591.7 596.3V616.9M592.6 595.4V609.3M593.3 597.4V612.9M593.8 598.1V606.7M594.4 598.0V612.5M595.1 590.9V610.8M595.7 589.2V608.6M596.4 594.4V610.5M597.2 589.6V607.4M597.7 581.3V599.6M598.1 587.6V607.0M598.8 591.8V606.6M599.2 589.8V610.3M599.8 594.3V604.4M600.3 593.6V610.5M600.7 589.6V609.4M601.5 594.5V605.6M602.2 593.6V607.2M602.8 598.9V617.9M603.4 593.6V615.6M604.1 593.7V610.1M604.6 595.6V613.1M605.4 599.2V617.0M606.0 597.0V618.4M606.8 592.9V613.6M607.4 601.5V618.3M608.1 598.4V616.1M608.6 601.8V616.0M609.3 603.7V614.6M609.8 597.4V617.5M610.6 601.9V615.3M611.1 606.3V619.2M611.7 603.5V621.6M612.3 605.2V623.0M612.8 602.9V621.1M613.5 603.3V624.1M613.9 606.4V620.6M614.3 612.0V629.6M614.8 608.5V628.2M615.5 616.4V633.4M616.0 616.5V630.5M616.8 611.7V630.5M617.2 613.7V626.3M617.6 608.3V622.2M618.2 606.2V622.1M619.0 604.4V625.4M619.7 602.5V619.6M620.4 601.5V619.8M620.7 599.7V619.4M621.5 600.3V618.4M622.3 608.5V628.2M623.1 609.5V627.7M623.5 599.8V622.3M624.3 597.4V616.7M624.8 597.2V607.9M625.5 587.3V608.7M625.9 594.5V605.0M626.6 590.8V606.1M627.4 585.8V600.6M628.2 597.1V613.2M628.6 600.5V619.7M629.2 597.8V615.7" stroke="#c4c4f6" stroke-width="0.9" fill="none"/>
<path d="M400.7 538.6 402.0 533.1 403.5 527.5 404.6 525.6 405.8 524.2 407.3 522.0 409.1 525.3 410.8 525.3 412.4 528.6 413.9 524.2 415.7 528.6 417.5 525.3 419.0 517.6 420.1 513.1 421.9 515.4 423.0 517.0 424.1 519.8 425.7 522.0 427.2 518.7 429.0 516.5 430.8 518.7 432.3 519.8 433.9 518.7 435.6 523.1 436.8 526.7 437.9 529.8 439.6 537.5 441.2 534.2 442.7 526.4 444.5 522.0 445.6 520.5 446.7 518.7 448.0 518.9 449.4 519.3 450.5 519.6 451.6 520.9 453.4 526.4 455.1 533.1 456.7 537.5 458.2 536.4 460.0 539.7 461.8 541.9 463.3 539.7 464.4 541.0 465.5 541.9 466.6 542.3 467.8 543.0 468.9 542.9 470.0 543.0 471.5 540.8 473.3 535.3 474.4 532.5 475.5 530.4 477.3 532.0 478.4 534.3 479.5 536.4 480.6 539.0 481.7 541.9 482.8 544.9 483.9 547.5 485.2 547.0 486.6 546.4 487.7 547.8 488.8 549.7 489.9 552.3 491.0 554.1 492.8 553.0 494.5 551.9 496.3 554.1 498.1 557.4 499.2 559.5 500.3 561.9 502.1 560.8 503.8 555.2 505.0 552.3 506.1 549.7 507.2 548.9 508.3 547.5 509.4 549.2 510.5 550.8 511.6 553.1 512.7 555.2 513.8 556.9 514.9 558.5 516.0 561.0 517.1 563.0 518.2 567.2 519.3 571.8 520.9 577.4 522.4 574.0 524.2 568.5 525.3 565.0 526.4 561.9 527.5 562.2 528.6 563.0 529.8 565.1 530.9 566.3 532.6 570.7 534.4 566.3 535.7 570.7 537.5 575.1 539.3 568.5 540.4 569.4 541.5 570.7 542.6 572.8 543.7 575.1 545.0 577.0 546.4 579.6 547.5 581.0 548.6 582.9 549.7 583.9 550.8 585.1 551.6 587.2 552.8 587.3 553.9 588.3 555.0 588.9 556.1 590.5 557.2 591.4 558.3 591.6 559.4 592.9 560.5 593.8 562.3 598.3 563.4 596.2 564.5 594.9 566.0 592.7 567.1 591.6 568.3 601.6 568.9 619.3 569.8 628.1 571.1 608.2 572.7 597.1 573.8 598.3 574.9 599.4 576.0 603.4 577.1 604.9 578.2 608.1 579.3 611.5 580.4 614.4 581.5 618.2 583.1 621.5 584.9 619.3 586.0 616.1 587.1 612.6 588.2 609.9 589.3 608.2 589.8 610.9 590.4 604.4 590.9 603.6 591.5 604.9 592.1 607.7 592.6 602.0 593.2 607.1 593.7 602.7 594.3 599.3 594.8 604.5 595.4 600.5 595.9 601.6 596.5 598.8 597.1 597.1 597.7 594.9 598.2 597.6 598.7 595.6 599.3 597.1 599.8 597.7 600.4 601.0 600.9 600.5 601.5 601.6 602.0 599.6 602.6 603.5 603.1 605.9 603.7 606.0 604.2 605.2 604.8 606.5 605.3 603.2 605.9 606.0 606.4 604.1 607.0 605.7 607.6 607.4 608.1 607.1 608.7 608.7 609.2 607.8 609.8 609.6 610.3 609.3 610.9 612.2 611.4 610.3 612.0 610.3 612.5 612.6 613.1 615.4 613.6 617.0 614.2 621.1 614.8 619.3 615.3 616.6 615.8 620.9 616.3 621.5 616.9 622.8 617.5 619.4 618.1 617.1 618.7 612.0 619.3 613.8 619.8 611.5 620.4 612.3 620.9 615.0 621.4 613.8 621.9 616.0 622.4 617.2 622.9 617.1 623.6 615.4 624.3 606.0 624.8 603.8 625.3 603.5 625.8 599.4 626.3 600.8 626.9 600.1 627.4 596.0 628.0 605.7 628.7 614.9 629.6 596.0" fill="none" stroke="#4848ee" stroke-width="1.2" stroke-opacity="1.0" stroke-linejoin="round" />
<path d="M400.7 493.0V501.3M401.2 490.4V496.8M401.7 488.7V495.0M402.4 484.1V492.5M403.2 485.5V494.7M404.2 483.5V493.4M405.1 483.0V489.8M406.1 480.2V490.3M406.7 482.2V495.8M407.2 488.6V497.3M407.9 491.2V502.3M408.9 493.1V505.6M409.8 488.3V500.3M410.7 489.0V498.4M411.7 483.8V493.3M412.2 486.4V496.6M412.9 491.4V502.4M413.5 495.1V502.3M414.2 488.6V500.9M414.7 485.6V498.0M415.5 483.4V490.8M416.1 477.3V485.1M417.2 474.5V482.6M418.0 471.9V479.6M418.8 472.4V483.7M419.7 473.1V483.7M420.5 475.5V480.6M421.6 470.3V479.6M422.5 468.3V481.6M423.0 470.0V477.0M423.9 468.2V476.7M424.8 465.6V476.8M425.5 465.0V475.8M426.3 469.8V479.9M427.3 472.7V480.4M428.3 468.7V477.9M429.1 468.6V478.7M430.1 473.6V482.7M431.1 474.9V485.9M432.1 478.2V490.8M433.0 481.5V489.2M434.1 487.2V493.8M434.6 486.8V496.3M435.5 487.6V501.3M436.5 488.1V498.9M437.0 487.5V501.2M437.8 485.3V497.4M438.5 484.9V493.9M439.2 484.9V493.3M440.0 485.7V493.2M440.8 481.6V493.4M441.6 478.7V489.3M442.5 480.8V489.1M443.4 476.5V488.4M444.5 474.6V487.9M445.4 476.1V486.5M446.3 473.2V481.6M447.2 473.1V482.3M448.2 470.7V477.1M448.8 470.2V481.9M449.3 472.4V480.6M450.1 473.4V483.7M450.7 473.4V486.6M451.8 479.5V487.3M452.4 480.8V490.5M453.3 479.7V490.5M454.3 480.7V488.0M455.4 482.5V491.7M456.0 483.6V495.3M457.1 488.0V493.6M458.2 488.7V499.2M459.1 491.6V500.2M460.1 493.1V500.8M460.6 493.2V505.1M461.6 495.9V506.7M462.3 496.3V504.3M463.0 492.8V506.9M463.8 498.7V508.2M464.8 498.0V510.9M465.8 500.3V509.6M466.6 502.6V510.0M467.2 504.4V512.9M467.9 497.0V511.4M468.6 499.3V508.5M469.6 494.9V505.3M470.7 491.8V500.8M471.6 488.8V501.3M472.7 492.6V498.0M473.3 488.3V499.1M473.8 492.0V497.2M474.6 488.6V497.7M475.1 491.3V499.4M475.6 489.9V497.8M476.3 487.1V501.4M477.1 489.8V499.3M478.0 495.7V501.2M479.0 496.8V506.2M480.0 497.9V506.6M480.8 497.3V508.0M481.9 500.2V507.6M482.5 500.2V507.1M483.4 499.4V512.4M484.0 499.1V512.3M484.6 501.3V512.4M485.3 503.9V510.1M485.9 499.9V510.7M486.8 500.1V508.0M487.6 500.2V508.0M488.2 500.0V509.2M488.9 496.2V509.1M489.9 494.3V505.7M490.8 497.9V505.9M491.6 496.1V506.8M492.5 494.1V504.4M493.3 494.5V507.8M494.1 495.3V506.5M494.7 495.0V506.8M495.3 497.0V509.0M495.9 499.7V508.2M496.5 496.9V508.5M497.3 499.7V511.6M497.9 500.1V509.7M499.0 502.6V508.9M499.8 502.5V513.7M500.7 501.5V511.9M501.6 501.5V515.0M502.6 501.4V511.5M503.6 500.2V510.8M504.7 499.0V513.2M505.8 498.3V509.8M506.5 497.8V507.4M507.6 498.2V507.9M508.5 500.2V510.5M509.6 498.6V511.4M510.2 500.2V509.7M511.3 502.6V511.9M512.2 503.0V514.2M513.3 507.1V514.4M514.2 512.2V518.7M514.7 514.3V525.0M515.3 519.1V530.7M516.2 531.8V541.0M516.9 535.6V545.5M517.4 544.5V551.6M518.0 544.0V555.2M518.9 545.6V554.2M519.9 534.9V540.5M520.6 526.2V536.7M521.5 519.2V528.0M522.1 516.5V523.2M522.5 515.2V523.4M523.3 511.0V520.8M524.2 505.7V518.1M525.2 508.5V518.6M526.0 504.6V518.6M526.6 504.5V517.0M527.7 512.2V521.2M528.6 510.7V521.1M529.3 511.0V520.6M530.1 508.7V519.5M531.2 507.3V520.3M532.3 512.1V519.7M533.3 510.7V520.0M533.9 509.2V518.7M535.0 511.7V519.5M535.8 515.8V522.4M536.7 517.9V527.0M537.6 516.5V526.0M538.2 518.0V528.7M539.3 519.0V530.8M540.0 522.5V530.8M541.1 522.3V529.8M542.0 522.0V533.4M542.9 526.7V535.4M543.7 524.1V535.2M544.5 526.6V537.9M545.6 524.2V536.7M546.8 527.0V542.5M547.5 526.2V543.1M548.1 523.0V540.9M549.3 530.1V542.9M550.6 531.8V540.2M551.9 526.0V543.6M553.3 529.7V542.4M554.5 533.6V544.1M555.3 536.3V545.6M556.5 537.7V547.6M557.9 547.1V556.8M558.9 553.0V569.6M560.2 559.7V577.0M560.8 564.1V573.6M561.5 555.3V567.1M562.2 550.0V558.4M563.6 536.6V551.3M564.5 533.2V545.5M565.5 531.6V548.7M566.2 528.9V547.7M567.4 530.8V550.5M568.1 535.7V549.8M569.4 541.0V550.2M570.2 540.4V555.2M571.3 536.9V555.8M571.9 544.0V555.2M572.6 530.5V574.0M573.3 545.2V572.7M574.1 543.2V564.4M574.5 541.0V576.2M575.2 547.7V565.2M575.8 536.6V578.3M576.3 543.9V580.4M577.1 547.5V578.1M577.8 540.1V571.4M578.1 551.5V574.0M578.9 553.2V576.2M579.3 542.4V580.3M579.8 550.8V581.4M580.2 539.1V569.9M581.0 552.5V581.3M581.4 551.2V581.1M582.0 544.1V565.8M582.7 540.2V564.4M583.1 539.1V572.1M583.7 535.9V572.0M584.0 543.4V580.0M584.4 547.9V573.0M584.8 540.7V577.9M585.4 548.6V581.8M586.1 547.2V572.3M586.6 547.1V563.7M587.0 545.1V578.7M587.6 544.6V560.2M588.1 535.2V561.7M588.8 525.0V566.4M589.2 531.3V557.6M589.6 532.7V559.3M590.0 534.2V557.6M590.6 530.9V555.8M591.1 535.2V554.9M591.5 539.0V561.6M592.3 539.6V557.4M592.7 535.3V566.1M593.2 538.5V568.4M593.7 526.7V564.7M594.1 525.0V566.3M594.7 528.1V559.3M595.3 533.3V563.3M595.7 525.0V562.1M596.4 532.5V558.4M597.1 530.9V573.5M597.7 537.4V570.2M598.2 541.3V570.9M598.7 544.9V561.0M599.4 542.8V573.7M600.1 534.8V559.3M600.8 543.0V569.4M601.6 533.3V561.4M602.0 530.4V569.1M602.6 532.2V571.0M603.1 536.2V568.8M603.7 541.4V567.7M604.4 539.6V571.9M605.0 536.0V571.9M605.8 541.5V574.1M606.3 536.7V573.7M606.9 543.5V560.0M607.4 545.5V570.5M607.8 549.0V576.1M608.5 546.6V581.1M608.8 540.0V578.6M609.6 540.1V572.4M610.3 542.5V574.5M610.8 552.4V578.3M611.2 545.0V580.6M611.6 559.8V577.4M612.3 550.7V591.2M612.9 548.9V588.6M613.3 557.5V585.9M613.8 558.9V591.2M614.1 554.5V582.9M614.7 564.6V587.2M615.2 552.5V589.9M616.0 547.7V580.8M616.4 555.7V583.0M616.7 562.8V584.6M617.4 562.6V598.6M618.0 556.0V589.8M618.7 561.2V584.9M619.2 548.8V584.1M619.8 548.2V566.9M620.4 530.4V570.4M620.9 527.7V560.1M621.5 522.6V554.7M621.9 526.2V563.8" stroke="#ecc8c8" stroke-width="0.9" fill="none"/>
<path d="M400.7 496.5 402.0 491.0 403.5 487.7 405.1 485.5 406.9 488.8 408.6 499.9 410.2 493.2 411.7 487.7 413.5 499.9 415.3 488.8 416.8 477.7 418.4 475.5 420.1 478.8 421.9 476.6 423.5 471.1 425.0 470.0 426.8 475.5 428.6 474.4 430.1 477.7 431.2 480.7 432.3 484.4 433.4 487.7 434.5 492.1 436.1 495.4 437.9 492.1 439.0 490.4 440.1 489.9 441.8 484.4 443.0 482.3 444.1 481.0 445.2 479.4 446.3 478.8 447.4 476.9 448.5 474.4 450.0 478.8 451.1 481.2 452.3 483.3 453.4 484.6 454.5 485.5 455.6 487.8 456.7 489.9 457.8 493.3 458.9 495.4 460.0 498.2 461.1 501.0 462.2 500.5 463.3 499.9 464.4 502.5 465.5 505.4 467.1 507.6 468.9 501.0 470.0 498.2 471.1 495.4 472.2 495.8 473.3 495.4 474.4 494.2 475.5 493.2 477.3 495.4 478.8 501.0 480.4 504.3 482.1 503.2 483.9 506.5 485.5 507.6 487.0 504.3 488.8 502.1 489.9 500.9 491.0 499.9 492.3 501.5 493.7 501.0 494.6 501.5 495.6 502.9 496.5 503.2 497.6 504.2 498.8 506.5 499.9 507.7 501.0 508.7 502.1 507.9 503.2 506.5 504.1 505.9 505.1 505.6 506.1 505.4 507.4 504.7 508.7 504.3 509.8 503.8 510.9 505.4 512.7 507.6 514.3 515.4 515.8 530.9 517.6 550.8 518.9 548.6 520.2 533.1 522.0 519.8 523.1 516.6 524.2 513.1 525.3 511.9 526.4 510.9 527.5 514.2 528.6 517.6 529.8 515.9 530.9 514.3 532.0 514.8 533.1 514.3 534.2 517.0 535.3 517.6 536.4 519.7 537.5 522.0 538.6 524.0 539.7 525.3 540.8 526.6 541.9 528.6 543.0 529.2 544.1 530.9 545.3 531.4 546.4 532.0 547.5 530.7 548.6 533.1 549.7 533.9 550.8 535.3 551.6 535.3 552.8 539.8 553.9 539.9 555.0 539.7 556.1 540.7 557.2 546.4 558.7 557.4 560.5 572.9 561.8 557.4 563.2 544.1 564.9 537.5 566.0 538.9 567.1 539.7 568.3 541.4 569.4 544.1 570.5 545.5 571.6 548.6 572.1 547.2 572.7 551.2 573.2 553.3 573.8 553.0 574.3 554.7 574.9 554.6 575.4 560.4 576.0 558.5 576.6 558.4 577.1 561.3 577.7 558.2 578.2 564.1 578.8 562.3 579.3 560.9 579.9 564.2 580.4 560.8 581.0 557.9 581.5 553.3 582.1 557.4 582.6 555.2 583.2 558.7 583.8 558.4 584.3 557.5 584.9 559.6 585.4 558.8 586.0 555.7 586.5 558.3 587.1 555.2 587.6 555.3 588.2 551.7 588.7 554.5 589.3 545.3 589.8 551.8 590.4 543.8 590.9 546.5 591.5 548.6 592.1 550.4 592.6 546.9 593.2 541.2 593.7 545.3 594.3 549.3 594.8 544.7 595.4 541.1 595.9 548.6 596.5 550.8 597.0 550.9 597.6 550.8 598.1 553.0 598.7 554.8 599.3 554.5 599.8 552.1 600.4 551.9 600.9 552.3 601.5 552.5 602.0 552.4 602.6 554.1 603.1 557.4 603.7 555.2 604.2 554.6 604.8 557.4 605.3 552.2 605.9 557.7 606.4 550.8 607.0 553.0 607.6 556.5 608.1 556.6 608.7 557.5 609.2 560.8 609.8 561.6 610.4 563.8 611.0 566.3 611.5 567.7 612.0 571.1 612.5 570.7 613.1 570.4 613.6 574.2 614.1 575.1 614.7 571.3 615.3 572.5 615.9 568.5 616.4 570.8 617.0 572.7 617.6 579.6 618.1 572.4 618.7 570.5 619.2 566.3 619.7 561.5 620.2 554.7 620.7 548.6 621.4 544.9 622.1 541.9" fill="none" stroke="#c07a74" stroke-width="1.2" stroke-opacity="1.0" stroke-linejoin="round" />
</g>
<path d="M405.09 464.30v1.5M405.09 834.60v-1.5M414.06 464.30v1.5M414.06 834.60v-1.5M423.03 464.30v2.5M423.03 834.60v-2.5M432.00 464.30v1.5M432.00 834.60v-1.5M440.98 464.30v1.5M440.98 834.60v-1.5M449.95 464.30v1.5M449.95 834.60v-1.5M458.92 464.30v1.5M458.92 834.60v-1.5M467.89 464.30v2.5M467.89 834.60v-2.5M476.86 464.30v1.5M476.86 834.60v-1.5M485.84 464.30v1.5M485.84 834.60v-1.5M494.81 464.30v1.5M494.81 834.60v-1.5M503.78 464.30v1.5M503.78 834.60v-1.5M512.75 464.30v2.5M512.75 834.60v-2.5M521.73 464.30v1.5M521.73 834.60v-1.5M530.70 464.30v1.5M530.70 834.60v-1.5M539.67 464.30v1.5M539.67 834.60v-1.5M548.64 464.30v1.5M548.64 834.60v-1.5M557.62 464.30v2.5M557.62 834.60v-2.5M566.59 464.30v1.5M566.59 834.60v-1.5M575.56 464.30v1.5M575.56 834.60v-1.5M584.53 464.30v1.5M584.53 834.60v-1.5M593.50 464.30v1.5M593.50 834.60v-1.5M602.48 464.30v2.5M602.48 834.60v-2.5M611.45 464.30v1.5M611.45 834.60v-1.5M620.42 464.30v1.5M620.42 834.60v-1.5M629.39 464.30v1.5M629.39 834.60v-1.5M638.37 464.30v1.5M638.37 834.60v-1.5M647.34 464.30v2.5M647.34 834.60v-2.5M656.31 464.30v1.5M656.31 834.60v-1.5M665.28 464.30v1.5M665.28 834.60v-1.5M674.26 464.30v1.5M674.26 834.60v-1.5M683.23 464.30v1.5M683.23 834.60v-1.5M400.60 822.26h2.0M692.20 822.26h-2.0M400.60 809.91h2.0M692.20 809.91h-2.0M400.60 797.57h2.0M692.20 797.57h-2.0M400.60 785.23h2.0M692.20 785.23h-2.0M400.60 772.88h2.5M692.20 772.88h-2.5M400.60 760.54h2.0M692.20 760.54h-2.0M400.60 748.20h2.0M692.20 748.20h-2.0M400.60 735.85h2.0M692.20 735.85h-2.0M400.60 723.51h2.0M692.20 723.51h-2.0M400.60 711.17h2.5M692.20 711.17h-2.5M400.60 698.82h2.0M692.20 698.82h-2.0M400.60 686.48h2.0M692.20 686.48h-2.0M400.60 674.14h2.0M692.20 674.14h-2.0M400.60 661.79h2.0M692.20 661.79h-2.0M400.60 649.45h2.5M692.20 649.45h-2.5M400.60 637.11h2.0M692.20 637.11h-2.0M400.60 624.76h2.0M692.20 624.76h-2.0M400.60 612.42h2.0M692.20 612.42h-2.0M400.60 600.08h2.0M692.20 600.08h-2.0M400.60 587.73h2.5M692.20 587.73h-2.5M400.60 575.39h2.0M692.20 575.39h-2.0M400.60 563.05h2.0M692.20 563.05h-2.0M400.60 550.70h2.0M692.20 550.70h-2.0M400.60 538.36h2.0M692.20 538.36h-2.0M400.60 526.02h2.5M692.20 526.02h-2.5M400.60 513.67h2.0M692.20 513.67h-2.0M400.60 501.33h2.0M692.20 501.33h-2.0M400.60 488.99h2.0M692.20 488.99h-2.0M400.60 476.64h2.0M692.20 476.64h-2.0" stroke="#888" stroke-width="0.7" fill="none"/>
<rect x="400.60" y="464.30" width="291.60" height="370.30" fill="none" stroke="#7a7a7a" stroke-width="1"/>
<g font-family='"Liberation Serif", serif' font-size="12.6" fill="#000" stroke="#000" stroke-width="0.2"><text x="423.03" y="849.20" text-anchor="middle" font-size="13.2" textLength="31.8" lengthAdjust="spacingAndGlyphs">4000</text><text x="467.89" y="849.20" text-anchor="middle" font-size="13.2" textLength="31.8" lengthAdjust="spacingAndGlyphs">5000</text><text x="512.75" y="849.20" text-anchor="middle" font-size="13.2" textLength="31.8" lengthAdjust="spacingAndGlyphs">6000</text><text x="557.62" y="849.20" text-anchor="middle" font-size="13.2" textLength="31.8" lengthAdjust="spacingAndGlyphs">7000</text><text x="602.48" y="849.20" text-anchor="middle" font-size="13.2" textLength="31.8" lengthAdjust="spacingAndGlyphs">8000</text><text x="647.34" y="849.20" text-anchor="middle" font-size="13.2" textLength="31.8" lengthAdjust="spacingAndGlyphs">9000</text><text x="394.30" y="839.20" text-anchor="end" font-size="13.8" textLength="19.6" lengthAdjust="spacingAndGlyphs">0.0</text><text x="394.30" y="777.48" text-anchor="end" font-size="13.8" textLength="19.6" lengthAdjust="spacingAndGlyphs">0.5</text><text x="394.30" y="715.77" text-anchor="end" font-size="13.8" textLength="19.6" lengthAdjust="spacingAndGlyphs">1.0</text><text x="394.30" y="654.05" text-anchor="end" font-size="13.8" textLength="19.6" lengthAdjust="spacingAndGlyphs">1.5</text><text x="394.30" y="592.33" text-anchor="end" font-size="13.8" textLength="19.6" lengthAdjust="spacingAndGlyphs">2.0</text><text x="394.30" y="530.62" text-anchor="end" font-size="13.8" textLength="19.6" lengthAdjust="spacingAndGlyphs">2.5</text><text x="394.30" y="468.90" text-anchor="end" font-size="13.8" textLength="19.6" lengthAdjust="spacingAndGlyphs">3.0</text></g>
<text x="546.40" y="871.80" text-anchor="middle" font-family='"Liberation Serif", serif' font-size="18.5" stroke="#000" stroke-width="0.15" textLength="186.5" lengthAdjust="spacingAndGlyphs">Rest wavelength [Å]</text>
<text transform="translate(367.90,649.45) rotate(-90)" text-anchor="middle" font-family='"Liberation Serif", serif' font-size="18.5" textLength="194" lengthAdjust="spacingAndGlyphs">Log<tspan font-size="12.5" dy="4">10</tspan><tspan dy="-4">(</tspan><tspan font-style="italic">F</tspan><tspan font-size="12.5" dy="4" font-style="italic">λ</tspan><tspan dy="-4">) + constant</tspan></text>
<text x="302.9" y="108.4" fill="#1a1a1a" stroke="#1a1a1a" stroke-width="0.25" font-size="11.6" font-family='"Liberation Sans", sans-serif' textLength="37.7" lengthAdjust="spacingAndGlyphs">+5.48d</text>
<text x="299.1" y="162.0" fill="#2a3c36" stroke="#2a3c36" stroke-width="0.25" font-size="11.6" font-family='"Liberation Sans", sans-serif' textLength="45.4" lengthAdjust="spacingAndGlyphs">+11.04d</text>
<text x="299.1" y="213.9" fill="#34444c" stroke="#34444c" stroke-width="0.25" font-size="11.6" font-family='"Liberation Sans", sans-serif' textLength="45.4" lengthAdjust="spacingAndGlyphs">+14.77d</text>
<text x="299.1" y="266.1" fill="#434c6c" stroke="#434c6c" stroke-width="0.25" font-size="11.6" font-family='"Liberation Sans", sans-serif' textLength="45.4" lengthAdjust="spacingAndGlyphs">+25.81d</text>
<text x="299.1" y="330.5" fill="#625a84" stroke="#625a84" stroke-width="0.25" font-size="11.6" font-family='"Liberation Sans", sans-serif' textLength="45.4" lengthAdjust="spacingAndGlyphs">+29.51d</text>
<text x="655.7" y="154.8" fill="#1a1a1a" stroke="#1a1a1a" stroke-width="0.25" font-size="11.6" font-family='"Liberation Sans", sans-serif' textLength="33.7" lengthAdjust="spacingAndGlyphs">-8.08d</text>
<text x="655.7" y="168.1" fill="#2a3a36" stroke="#2a3a36" stroke-width="0.25" font-size="11.6" font-family='"Liberation Sans", sans-serif' textLength="33.7" lengthAdjust="spacingAndGlyphs">-7.13d</text>
<text x="655.7" y="198.0" fill="#34444c" stroke="#34444c" stroke-width="0.25" font-size="11.6" font-family='"Liberation Sans", sans-serif' textLength="33.7" lengthAdjust="spacingAndGlyphs">-3.22d</text>
<text x="655.7" y="223.2" fill="#434c6c" stroke="#434c6c" stroke-width="0.25" font-size="11.6" font-family='"Liberation Sans", sans-serif' textLength="33.7" lengthAdjust="spacingAndGlyphs">-2.22d</text>
<text x="654.6" y="260.8" fill="#5f5a8a" stroke="#5f5a8a" stroke-width="0.25" font-size="11.6" font-family='"Liberation Sans", sans-serif' textLength="37.0" lengthAdjust="spacingAndGlyphs">+4.58d</text>
<text x="654.6" y="278.5" fill="#8e6a9c" stroke="#8e6a9c" stroke-width="0.25" font-size="11.6" font-family='"Liberation Sans", sans-serif' textLength="37.0" lengthAdjust="spacingAndGlyphs">+5.61d</text>
<text x="650.8" y="297.4" fill="#111111" stroke="#111111" stroke-width="0.25" font-size="11.6" font-family='"Liberation Sans", sans-serif' textLength="44.8" lengthAdjust="spacingAndGlyphs">+18.23d</text>
<text x="650.8" y="333.0" fill="#223530" stroke="#223530" stroke-width="0.25" font-size="11.6" font-family='"Liberation Sans", sans-serif' textLength="44.8" lengthAdjust="spacingAndGlyphs">+27.05d</text>
<text x="650.8" y="384.6" fill="#2e4048" stroke="#2e4048" stroke-width="0.25" font-size="11.6" font-family='"Liberation Sans", sans-serif' textLength="44.8" lengthAdjust="spacingAndGlyphs">+34.83d</text>
<text x="300.7" y="637.5" fill="#1a1a1a" stroke="#1a1a1a" stroke-width="0.25" font-size="11.6" font-family='"Liberation Sans", sans-serif' textLength="41.5" lengthAdjust="spacingAndGlyphs">-10.15d</text>
<text x="305.1" y="666.3" fill="#24342f" stroke="#24342f" stroke-width="0.25" font-size="11.6" font-family='"Liberation Sans", sans-serif' textLength="33.7" lengthAdjust="spacingAndGlyphs">-2.52d</text>
<text x="302.5" y="712.7" fill="#33434a" stroke="#33434a" stroke-width="0.25" font-size="11.6" font-family='"Liberation Sans", sans-serif' textLength="37.0" lengthAdjust="spacingAndGlyphs">+7.28d</text>
<text x="299.6" y="744.8" fill="#434c6c" stroke="#434c6c" stroke-width="0.25" font-size="11.6" font-family='"Liberation Sans", sans-serif' textLength="45.4" lengthAdjust="spacingAndGlyphs">+11.14d</text>
<text x="299.6" y="776.4" fill="#5f5a8a" stroke="#5f5a8a" stroke-width="0.25" font-size="11.6" font-family='"Liberation Sans", sans-serif' textLength="45.4" lengthAdjust="spacingAndGlyphs">+21.99d</text>
<text x="630.9" y="543.7" fill="#a83434" stroke="#a83434" stroke-width="0.25" font-size="12.5" font-family='"Liberation Serif", serif' textLength="60.7" lengthAdjust="spacingAndGlyphs">CSS140501</text>
<text x="648.6" y="555.2" fill="#a83434" stroke="#a83434" stroke-width="0.25" font-size="12.5" font-family='"Liberation Serif", serif' textLength="33.0" lengthAdjust="spacingAndGlyphs">-0.08d</text>
<text x="633.1" y="599.4" fill="#1818ee" stroke="#1818ee" stroke-width="0.25" font-size="12.5" font-family='"Liberation Serif", serif' textLength="58.0" lengthAdjust="spacingAndGlyphs">LSQ12gpw</text>
<text x="647.3" y="611.1" fill="#1818ee" stroke="#1818ee" stroke-width="0.25" font-size="12.5" font-family='"Liberation Serif", serif' textLength="36.8" lengthAdjust="spacingAndGlyphs">+5.42d</text>
<text x="632.9" y="645.4" fill="#6f7a86" stroke="#6f7a86" stroke-width="0.25" font-size="12.5" font-family='"Liberation Serif", serif' textLength="58.2" lengthAdjust="spacingAndGlyphs">SN 2013ao</text>
<text x="647.3" y="657.0" fill="#6f7a86" stroke="#6f7a86" stroke-width="0.25" font-size="12.5" font-family='"Liberation Serif", serif' textLength="36.8" lengthAdjust="spacingAndGlyphs">+8.67d</text>
<text x="632.9" y="701.0" fill="#6f7a86" stroke="#6f7a86" stroke-width="0.25" font-size="12.5" font-family='"Liberation Serif", serif' textLength="58.2" lengthAdjust="spacingAndGlyphs">SN 2013ao</text>
<text x="643.1" y="712.1" fill="#6f7a86" stroke="#6f7a86" stroke-width="0.25" font-size="12.5" font-family='"Liberation Serif", serif' textLength="42.5" lengthAdjust="spacingAndGlyphs">+24.87d</text>
<text x="632.9" y="740.9" fill="#6f7a86" stroke="#6f7a86" stroke-width="0.25" font-size="12.5" font-family='"Liberation Serif", serif' textLength="58.2" lengthAdjust="spacingAndGlyphs">SN 2013ao</text>
<text x="643.1" y="752.0" fill="#6f7a86" stroke="#6f7a86" stroke-width="0.25" font-size="12.5" font-family='"Liberation Serif", serif' textLength="42.5" lengthAdjust="spacingAndGlyphs">+43.10d</text>
<text x="197.3" y="16.4" text-anchor="middle" font-family='"Liberation Sans", sans-serif' font-size="16.8" stroke="#000" stroke-width="0.3" textLength="77.5" lengthAdjust="spacingAndGlyphs">SN 2007if</text>
<text x="547.2" y="16.4" text-anchor="middle" font-family='"Liberation Sans", sans-serif' font-size="16.8" stroke="#000" stroke-width="0.3" textLength="86" lengthAdjust="spacingAndGlyphs">SN 2009dc</text>
<text x="196.8" y="455.6" text-anchor="middle" font-family='"Liberation Sans", sans-serif' font-size="16.8" stroke="#000" stroke-width="0.3" textLength="77.6" lengthAdjust="spacingAndGlyphs">SN 2015M</text>
<circle cx="193.40" cy="35.00" r="3.0" fill="none" stroke="#222" stroke-width="1.05"/><path d="M190.40 35.00H196.40M193.40 32.00V38.00" stroke="#222" stroke-width="0.8400000000000001"/><circle cx="227.60" cy="35.00" r="3.0" fill="none" stroke="#222" stroke-width="1.05"/><path d="M224.60 35.00H230.60M227.60 32.00V38.00" stroke="#222" stroke-width="0.8400000000000001"/>
<circle cx="547.40" cy="35.60" r="3.0" fill="none" stroke="#222" stroke-width="1.05"/><path d="M544.40 35.60H550.40M547.40 32.60V38.60" stroke="#222" stroke-width="0.8400000000000001"/><circle cx="580.40" cy="35.60" r="3.0" fill="none" stroke="#222" stroke-width="1.05"/><path d="M577.40 35.60H583.40M580.40 32.60V38.60" stroke="#222" stroke-width="0.8400000000000001"/>
<circle cx="209.50" cy="475.00" r="3.0" fill="none" stroke="#111" stroke-width="1.1"/><path d="M206.50 475.00H212.50M209.50 472.00V478.00" stroke="#111" stroke-width="0.8800000000000001"/><circle cx="245.20" cy="475.00" r="3.0" fill="none" stroke="#111" stroke-width="1.1"/><path d="M242.20 475.00H248.20M245.20 472.00V478.00" stroke="#111" stroke-width="0.8800000000000001"/>
<circle cx="530.20" cy="505.40" r="2.9" fill="none" stroke="#b04040" stroke-width="0.8"/><path d="M527.30 505.40H533.10M530.20 502.50V508.30" stroke="#b04040" stroke-width="0.6400000000000001"/><circle cx="560.50" cy="530.40" r="2.9" fill="none" stroke="#b04040" stroke-width="0.8"/><path d="M557.60 530.40H563.40M560.50 527.50V533.30" stroke="#b04040" stroke-width="0.6400000000000001"/>
<circle cx="538.40" cy="557.40" r="2.9" fill="none" stroke="#3030ee" stroke-width="0.8"/><path d="M535.50 557.40H541.30M538.40 554.50V560.30" stroke="#3030ee" stroke-width="0.6400000000000001"/><circle cx="569.80" cy="586.10" r="2.9" fill="none" stroke="#3030ee" stroke-width="0.8"/><path d="M566.90 586.10H572.70M569.80 583.20V589.00" stroke="#3030ee" stroke-width="0.6400000000000001"/>
<circle cx="540.00" cy="600.00" r="2.9" fill="none" stroke="#8a96a2" stroke-width="0.8"/><path d="M537.10 600.00H542.90M540.00 597.10V602.90" stroke="#8a96a2" stroke-width="0.6400000000000001"/><circle cx="571.80" cy="631.80" r="2.9" fill="none" stroke="#8a96a2" stroke-width="0.8"/><path d="M568.90 631.80H574.70M571.80 628.90V634.70" stroke="#8a96a2" stroke-width="0.6400000000000001"/>
</svg></body></html>
